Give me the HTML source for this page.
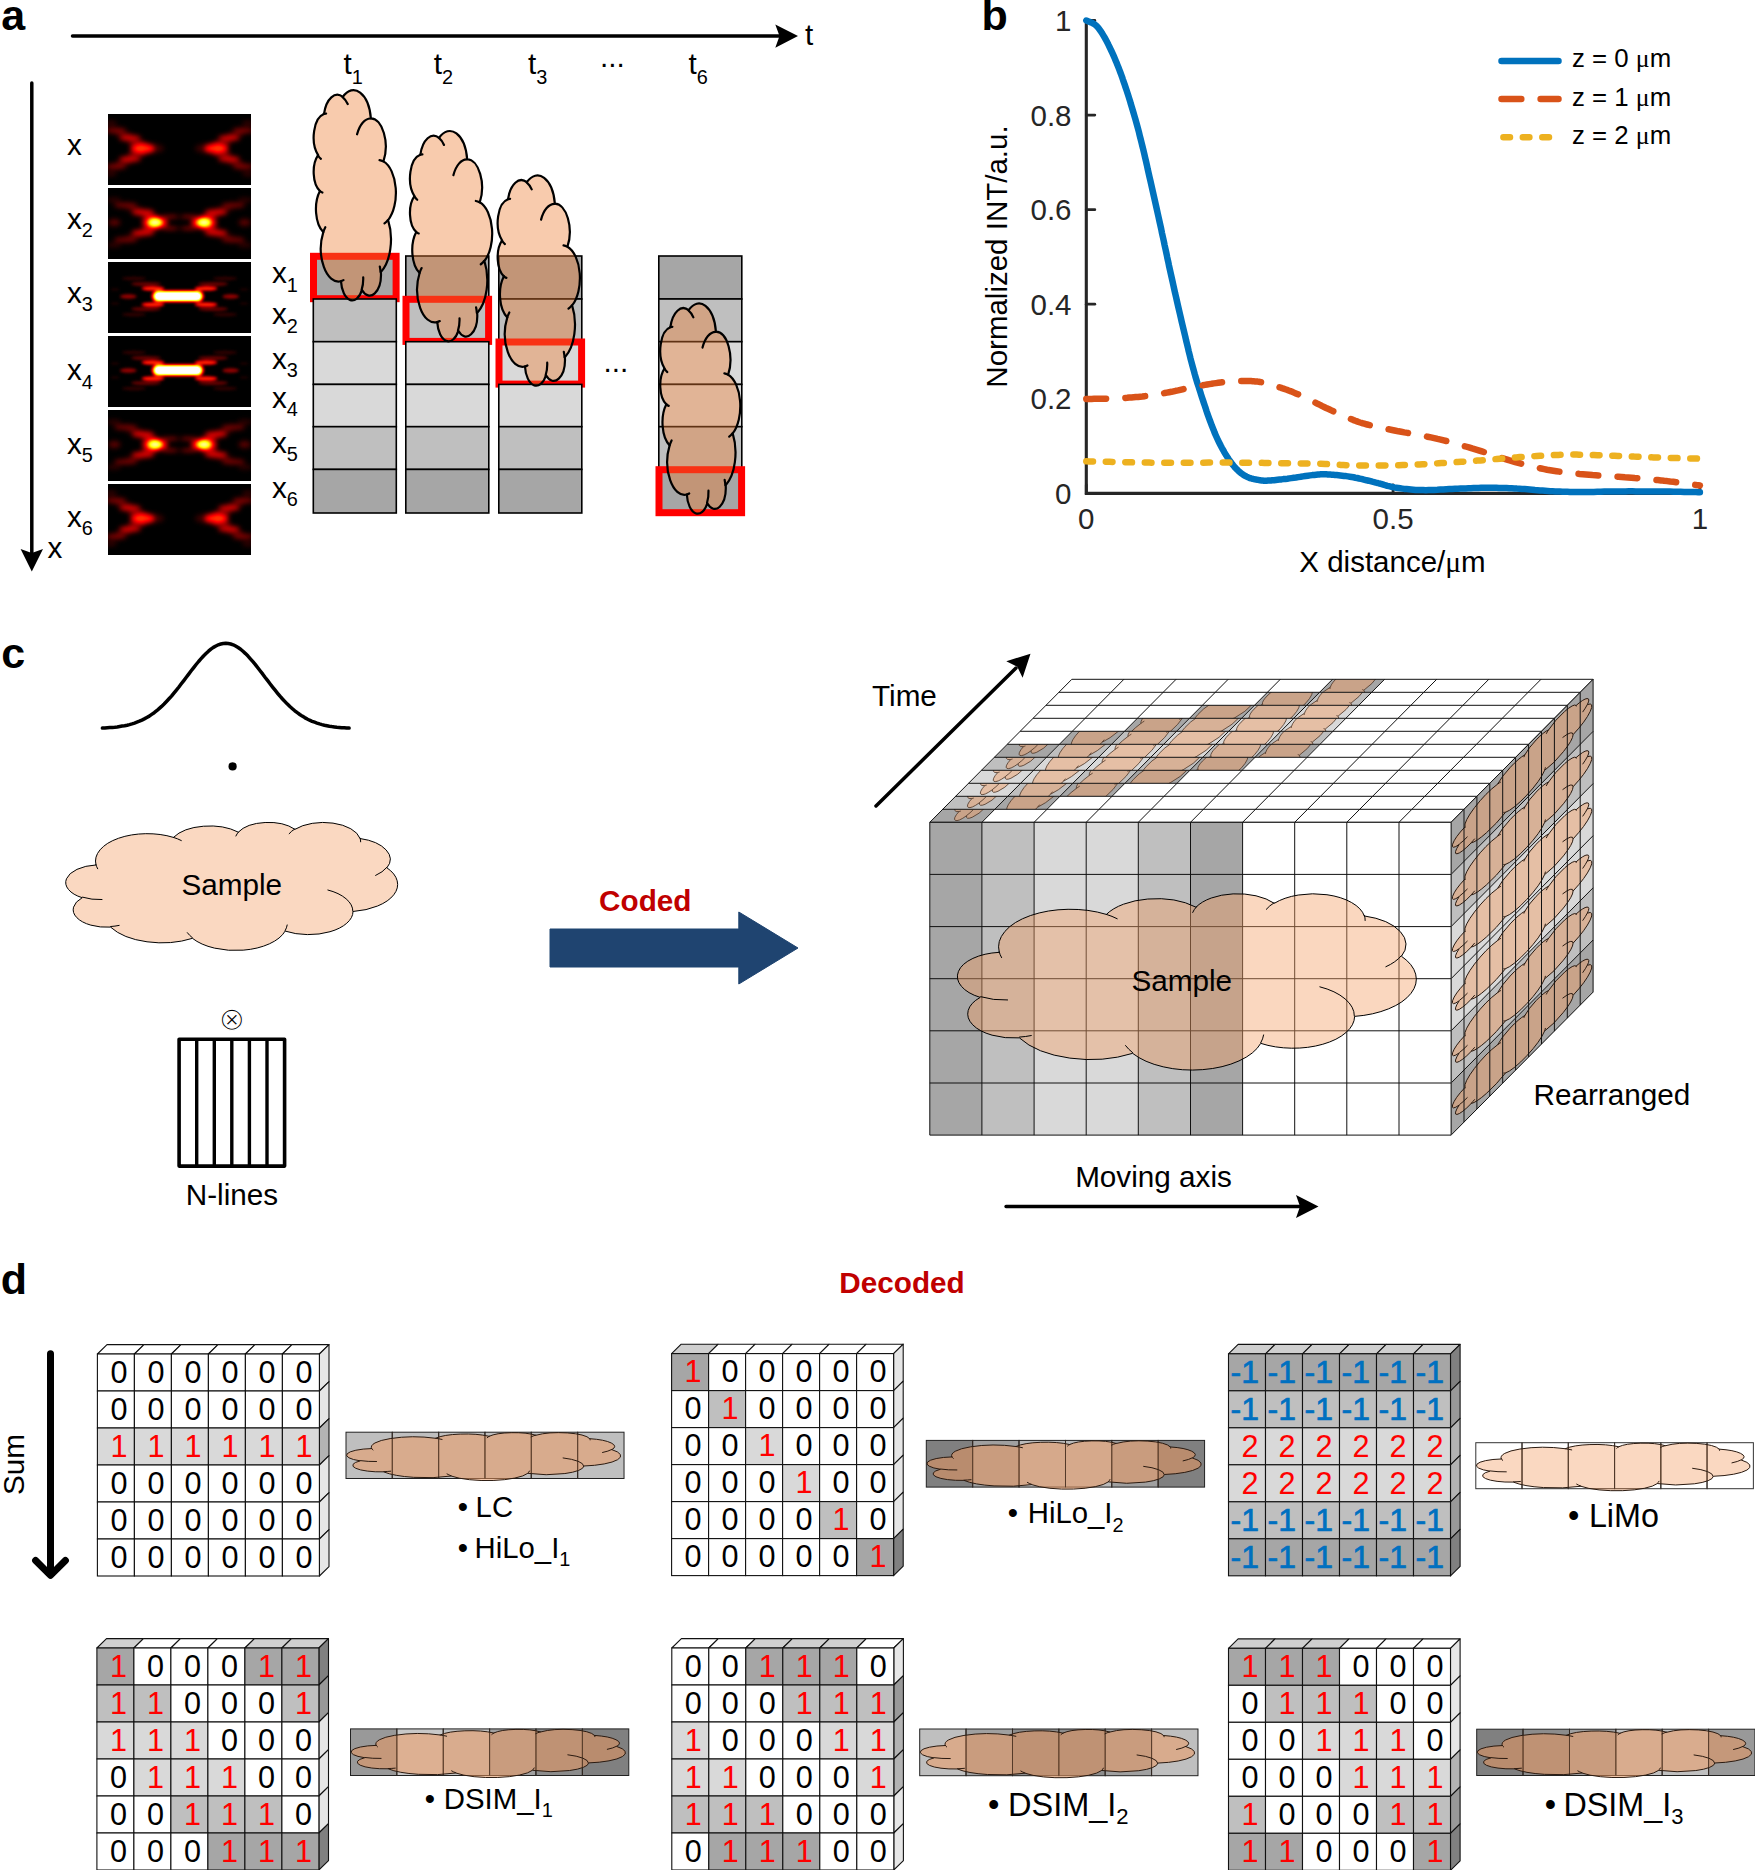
<!DOCTYPE html>
<html lang="en"><head><meta charset="utf-8"><title>Figure</title>
<style>
html,body{margin:0;padding:0;background:#fff;overflow:hidden;}
svg{display:block;font-family:'Liberation Sans', Arial, Helvetica, sans-serif;}
text{font-family:'Liberation Sans', Arial, Helvetica, sans-serif;}
</style></head><body>
<svg width="1755" height="1870" viewBox="0 0 1755 1870">
<defs>
<filter id="hot" x="0" y="0" width="1" height="1" color-interpolation-filters="sRGB">
<feGaussianBlur stdDeviation="2.5"/>
<feComponentTransfer><feFuncR type="table" tableValues="0 1 1 1"/><feFuncG type="table" tableValues="0 0 1 1"/><feFuncB type="table" tableValues="0 0 0 1"/></feComponentTransfer>
</filter>
<filter id="hotC" x="0" y="0" width="1" height="1" color-interpolation-filters="sRGB">
<feGaussianBlur stdDeviation="1.6"/>
<feComponentTransfer><feFuncR type="table" tableValues="0 .375 .75 1 1 1 1 1 1 1 1"/><feFuncG type="table" tableValues="0 0 0 .125 .5 .875 1 1 1 1 1"/><feFuncB type="table" tableValues="0 0 0 0 0 0 .25 .625 1 1 1"/></feComponentTransfer>
</filter>
<clipPath id="psfclip"><rect x="0" y="0" width="143" height="71"/></clipPath>
<g id="vcl" transform="translate(0.06,7.6) rotate(-90)" stroke="#4a3426" stroke-width="0.8" stroke-linejoin="round"><path d="M0.6861 0.2927A1.1880 0.1872 0 0 1 1.2043 0.1117A1.1880 0.1872 0 0 1 2.4639 0.1060A0.9382 0.1480 0 0 1 3.1499 0.0291A0.9382 0.1480 0 0 1 3.9506 0.0699A0.7679 0.1211 0 0 1 4.5654 0.0034A0.7679 0.1211 0 0 1 5.2484 0.0505A0.8545 0.1343 0 0 1 6.1219 0.0077A0.8545 0.1343 0 0 1 6.7411 0.1136A0.9382 0.1482 0 0 1 7.3395 0.1921A0.9382 0.1482 0 0 1 7.3569 0.3149A1.1919 0.1878 0 0 1 7.5155 0.5002A1.1919 0.1878 0 0 1 6.5804 0.6152A1.0177 0.1603 0 0 1 6.0527 0.7544A1.0177 0.1603 0 0 1 5.0237 0.7499A1.1879 0.1877 0 0 1 4.0616 0.8812A1.1879 0.1877 0 0 1 2.8993 0.7998A1.3581 0.2148 0 0 1 1.8576 0.8236A1.3581 0.2148 0 0 1 1.0212 0.7225A0.7670 0.1206 0 0 1 0.2471 0.6571A0.7670 0.1206 0 0 1 0.3718 0.5204A0.7644 0.1211 0 0 1 0.0111 0.3903A0.7644 0.1211 0 0 1 0.6797 0.2955Z" fill="#F4A066" fill-opacity="0.45" vector-effect="non-scaling-stroke"/><path d="M0.8256 0.5332A0.7644 0.1211 0 0 1 0.3800 0.5170M1.2188 0.7109A0.7670 0.1206 0 0 1 1.0238 0.7187M2.8989 0.7963A1.1879 0.1877 0 0 1 2.7814 0.7608M5.0714 0.7079A1.1879 0.1877 0 0 1 5.0245 0.7468M6.0042 0.4676A1.0177 0.1603 0 0 1 6.5762 0.6129M7.3534 0.3128A0.9382 0.1482 0 0 1 7.0986 0.3673M6.7422 0.1105A0.8545 0.1343 0 0 1 6.7556 0.1363M5.1156 0.0805A0.8545 0.1343 0 0 1 5.2461 0.0477M3.8952 0.0961A0.7679 0.1211 0 0 1 3.9584 0.0678M2.4630 0.1058A0.9382 0.1480 0 0 1 2.6435 0.1275M0.7260 0.3216A1.1880 0.1872 0 0 1 0.6861 0.2927" fill="none" vector-effect="non-scaling-stroke"/></g>
<clipPath id="ucell"><rect x="0" y="0" width="1" height="1"/></clipPath>
</defs>
<rect width="1755" height="1870" fill="#fff"/>
<!-- panel a -->
<text x="1.2" y="30.3" font-size="43" font-weight="bold">a</text>
<line x1="72.5" y1="36" x2="780" y2="36" stroke="#000" stroke-width="3.5" stroke-linecap="round"/>
<path d="M798 36 L775.3 24.4 L779.5 36 L775.3 47.7 Z" fill="#000"/>
<text x="805.0" y="44.5" font-size="29.7">t</text>
<line x1="31.8" y1="83" x2="31.8" y2="553" stroke="#000" stroke-width="3.5" stroke-linecap="round"/>
<path d="M31.8 571.5 L20.6 549 L31.8 553 L43 549 Z" fill="#000"/>
<text x="47.5" y="557.7" font-size="29.7">x</text>
<text x="343.5" y="74.0" font-size="29.7">t<tspan font-size="19.9" dy="9.5">1</tspan></text>
<text x="433.8" y="74.0" font-size="29.7">t<tspan font-size="19.9" dy="9.5">2</tspan></text>
<text x="528.0" y="74.0" font-size="29.7">t<tspan font-size="19.9" dy="9.5">3</tspan></text>
<text x="688.6" y="74.0" font-size="29.7">t<tspan font-size="19.9" dy="9.5">6</tspan></text>
<text x="600.0" y="66.5" font-size="29.7">...</text>
<text x="603.5" y="371.5" font-size="29.7">...</text>
<text x="67.0" y="155.0" font-size="29.7">x</text>
<text x="67.0" y="229.0" font-size="29.7">x<tspan font-size="19.9" dy="8.3">2</tspan></text>
<text x="67.0" y="302.6" font-size="29.7">x<tspan font-size="19.9" dy="8.3">3</tspan></text>
<text x="67.0" y="380.3" font-size="29.7">x<tspan font-size="19.9" dy="8.3">4</tspan></text>
<text x="67.0" y="453.8" font-size="29.7">x<tspan font-size="19.9" dy="8.3">5</tspan></text>
<text x="67.0" y="527.0" font-size="29.7">x<tspan font-size="19.9" dy="8.3">6</tspan></text>
<g transform="translate(108,114)" clip-path="url(#psfclip)"><g filter="url(#hot)"><rect x="-10" y="-10" width="163" height="91" fill="#000"/><ellipse cx="34.5" cy="34.5" rx="12" ry="4.9" fill="#fff" fill-opacity="0.345"/><ellipse cx="108.5" cy="34.5" rx="12" ry="4.9" fill="#fff" fill-opacity="0.345"/><ellipse cx="41.0" cy="34.5" rx="15" ry="5" fill="#fff" fill-opacity="0.08"/><ellipse cx="102.0" cy="34.5" rx="15" ry="5" fill="#fff" fill-opacity="0.08"/><ellipse cx="22.0" cy="24.0" rx="11" ry="3.0" fill="#fff" fill-opacity="0.28"/><ellipse cx="22.0" cy="45.0" rx="11" ry="3.0" fill="#fff" fill-opacity="0.28"/><ellipse cx="121.0" cy="24.0" rx="11" ry="3.0" fill="#fff" fill-opacity="0.28"/><ellipse cx="121.0" cy="45.0" rx="11" ry="3.0" fill="#fff" fill-opacity="0.28"/><ellipse cx="29.0" cy="29.2" rx="9" ry="3.0" fill="#fff" fill-opacity="0.14"/><ellipse cx="29.0" cy="39.8" rx="9" ry="3.0" fill="#fff" fill-opacity="0.14"/><ellipse cx="114.0" cy="29.2" rx="9" ry="3.0" fill="#fff" fill-opacity="0.14"/><ellipse cx="114.0" cy="39.8" rx="9" ry="3.0" fill="#fff" fill-opacity="0.14"/><ellipse cx="8.0" cy="16.5" rx="10.5" ry="2.7" fill="#fff" fill-opacity="0.17"/><ellipse cx="8.0" cy="52.5" rx="10.5" ry="2.7" fill="#fff" fill-opacity="0.17"/><ellipse cx="135.0" cy="16.5" rx="10.5" ry="2.7" fill="#fff" fill-opacity="0.17"/><ellipse cx="135.0" cy="52.5" rx="10.5" ry="2.7" fill="#fff" fill-opacity="0.17"/><ellipse cx="15.5" cy="20.3" rx="8" ry="2.4" fill="#fff" fill-opacity="0.09"/><ellipse cx="15.5" cy="48.7" rx="8" ry="2.4" fill="#fff" fill-opacity="0.09"/><ellipse cx="127.5" cy="20.3" rx="8" ry="2.4" fill="#fff" fill-opacity="0.09"/><ellipse cx="127.5" cy="48.7" rx="8" ry="2.4" fill="#fff" fill-opacity="0.09"/><ellipse cx="3.0" cy="9.3" rx="6" ry="2.3" fill="#fff" fill-opacity="0.08"/><ellipse cx="3.0" cy="59.7" rx="6" ry="2.3" fill="#fff" fill-opacity="0.08"/><ellipse cx="140.0" cy="9.3" rx="6" ry="2.3" fill="#fff" fill-opacity="0.08"/><ellipse cx="140.0" cy="59.7" rx="6" ry="2.3" fill="#fff" fill-opacity="0.08"/></g></g>
<g transform="translate(108,188)" clip-path="url(#psfclip)"><g filter="url(#hot)"><rect x="-10" y="-10" width="163" height="91" fill="#000"/><ellipse cx="47.1" cy="34.5" rx="7" ry="3.6" fill="#fff" fill-opacity="0.95"/><ellipse cx="95.9" cy="34.5" rx="7" ry="3.6" fill="#fff" fill-opacity="0.95"/><ellipse cx="47.1" cy="34.5" rx="13" ry="6" fill="#fff" fill-opacity="0.33"/><ellipse cx="95.9" cy="34.5" rx="13" ry="6" fill="#fff" fill-opacity="0.33"/><ellipse cx="35.0" cy="24.3" rx="11.5" ry="3.0" fill="#fff" fill-opacity="0.29"/><ellipse cx="35.0" cy="44.7" rx="11.5" ry="3.0" fill="#fff" fill-opacity="0.29"/><ellipse cx="108.0" cy="24.3" rx="11.5" ry="3.0" fill="#fff" fill-opacity="0.29"/><ellipse cx="108.0" cy="44.7" rx="11.5" ry="3.0" fill="#fff" fill-opacity="0.29"/><ellipse cx="42.0" cy="28.7" rx="9" ry="2.6" fill="#fff" fill-opacity="0.16"/><ellipse cx="42.0" cy="40.3" rx="9" ry="2.6" fill="#fff" fill-opacity="0.16"/><ellipse cx="101.0" cy="28.7" rx="9" ry="2.6" fill="#fff" fill-opacity="0.16"/><ellipse cx="101.0" cy="40.3" rx="9" ry="2.6" fill="#fff" fill-opacity="0.16"/><ellipse cx="17.7" cy="17.3" rx="12" ry="2.8" fill="#fff" fill-opacity="0.15"/><ellipse cx="17.7" cy="51.7" rx="12" ry="2.8" fill="#fff" fill-opacity="0.15"/><ellipse cx="125.3" cy="17.3" rx="12" ry="2.8" fill="#fff" fill-opacity="0.15"/><ellipse cx="125.3" cy="51.7" rx="12" ry="2.8" fill="#fff" fill-opacity="0.15"/><ellipse cx="26.5" cy="20.8" rx="8" ry="2.3" fill="#fff" fill-opacity="0.09"/><ellipse cx="26.5" cy="48.2" rx="8" ry="2.3" fill="#fff" fill-opacity="0.09"/><ellipse cx="116.5" cy="20.8" rx="8" ry="2.3" fill="#fff" fill-opacity="0.09"/><ellipse cx="116.5" cy="48.2" rx="8" ry="2.3" fill="#fff" fill-opacity="0.09"/><ellipse cx="6.0" cy="12.0" rx="7" ry="2.3" fill="#fff" fill-opacity="0.07"/><ellipse cx="6.0" cy="57.0" rx="7" ry="2.3" fill="#fff" fill-opacity="0.07"/><ellipse cx="137.0" cy="12.0" rx="7" ry="2.3" fill="#fff" fill-opacity="0.07"/><ellipse cx="137.0" cy="57.0" rx="7" ry="2.3" fill="#fff" fill-opacity="0.07"/><ellipse cx="6.4" cy="34.5" rx="6" ry="3.6" fill="#fff" fill-opacity="0.12"/><ellipse cx="136.6" cy="34.5" rx="6" ry="3.6" fill="#fff" fill-opacity="0.12"/><ellipse cx="62.0" cy="28.7" rx="9" ry="1.3" fill="#fff" fill-opacity="0.14"/><ellipse cx="62.0" cy="40.3" rx="9" ry="1.3" fill="#fff" fill-opacity="0.14"/><ellipse cx="81.0" cy="28.7" rx="9" ry="1.3" fill="#fff" fill-opacity="0.14"/><ellipse cx="81.0" cy="40.3" rx="9" ry="1.3" fill="#fff" fill-opacity="0.14"/><ellipse cx="62.0" cy="40.3" rx="9" ry="1.3" fill="#fff" fill-opacity="0.14"/><ellipse cx="62.0" cy="28.7" rx="9" ry="1.3" fill="#fff" fill-opacity="0.14"/><ellipse cx="81.0" cy="40.3" rx="9" ry="1.3" fill="#fff" fill-opacity="0.14"/><ellipse cx="81.0" cy="28.7" rx="9" ry="1.3" fill="#fff" fill-opacity="0.14"/></g></g>
<g transform="translate(108,262)" clip-path="url(#psfclip)"><g filter="url(#hotC)"><rect x="-10" y="-10" width="163" height="91" fill="#000"/><rect x="47" y="30.5" width="45.6" height="7.5" rx="3.7" fill="#fff"/><rect x="43.8" y="28.4" width="52" height="11.7" rx="5.8" fill="#fff" fill-opacity="0.42"/><ellipse cx="45.0" cy="26.5" rx="11.5" ry="2.0" fill="#fff" fill-opacity="0.34"/><ellipse cx="45.0" cy="42.5" rx="11.5" ry="2.0" fill="#fff" fill-opacity="0.34"/><ellipse cx="98.0" cy="26.5" rx="11.5" ry="2.0" fill="#fff" fill-opacity="0.34"/><ellipse cx="98.0" cy="42.5" rx="11.5" ry="2.0" fill="#fff" fill-opacity="0.34"/><ellipse cx="38.0" cy="22.0" rx="15" ry="2.0" fill="#fff" fill-opacity="0.11"/><ellipse cx="38.0" cy="47.0" rx="15" ry="2.0" fill="#fff" fill-opacity="0.11"/><ellipse cx="105.0" cy="22.0" rx="15" ry="2.0" fill="#fff" fill-opacity="0.11"/><ellipse cx="105.0" cy="47.0" rx="15" ry="2.0" fill="#fff" fill-opacity="0.11"/><ellipse cx="26.0" cy="16.5" rx="12" ry="1.8" fill="#fff" fill-opacity="0.055"/><ellipse cx="26.0" cy="52.5" rx="12" ry="1.8" fill="#fff" fill-opacity="0.055"/><ellipse cx="117.0" cy="16.5" rx="12" ry="1.8" fill="#fff" fill-opacity="0.055"/><ellipse cx="117.0" cy="52.5" rx="12" ry="1.8" fill="#fff" fill-opacity="0.055"/><ellipse cx="20.3" cy="34.5" rx="8.5" ry="2.2" fill="#fff" fill-opacity="0.16"/><ellipse cx="122.7" cy="34.5" rx="8.5" ry="2.2" fill="#fff" fill-opacity="0.16"/><ellipse cx="7.0" cy="27.5" rx="4.5" ry="1.2" fill="#fff" fill-opacity="0.035"/><ellipse cx="7.0" cy="41.5" rx="4.5" ry="1.2" fill="#fff" fill-opacity="0.035"/><ellipse cx="136.0" cy="27.5" rx="4.5" ry="1.2" fill="#fff" fill-opacity="0.035"/><ellipse cx="136.0" cy="41.5" rx="4.5" ry="1.2" fill="#fff" fill-opacity="0.035"/></g></g>
<g transform="translate(108,336)" clip-path="url(#psfclip)"><g filter="url(#hotC)"><rect x="-10" y="-10" width="163" height="91" fill="#000"/><rect x="47" y="30.5" width="45.6" height="7.5" rx="3.7" fill="#fff"/><rect x="43.8" y="28.4" width="52" height="11.7" rx="5.8" fill="#fff" fill-opacity="0.42"/><ellipse cx="45.0" cy="26.5" rx="11.5" ry="2.0" fill="#fff" fill-opacity="0.34"/><ellipse cx="45.0" cy="42.5" rx="11.5" ry="2.0" fill="#fff" fill-opacity="0.34"/><ellipse cx="98.0" cy="26.5" rx="11.5" ry="2.0" fill="#fff" fill-opacity="0.34"/><ellipse cx="98.0" cy="42.5" rx="11.5" ry="2.0" fill="#fff" fill-opacity="0.34"/><ellipse cx="38.0" cy="22.0" rx="15" ry="2.0" fill="#fff" fill-opacity="0.11"/><ellipse cx="38.0" cy="47.0" rx="15" ry="2.0" fill="#fff" fill-opacity="0.11"/><ellipse cx="105.0" cy="22.0" rx="15" ry="2.0" fill="#fff" fill-opacity="0.11"/><ellipse cx="105.0" cy="47.0" rx="15" ry="2.0" fill="#fff" fill-opacity="0.11"/><ellipse cx="26.0" cy="16.5" rx="12" ry="1.8" fill="#fff" fill-opacity="0.055"/><ellipse cx="26.0" cy="52.5" rx="12" ry="1.8" fill="#fff" fill-opacity="0.055"/><ellipse cx="117.0" cy="16.5" rx="12" ry="1.8" fill="#fff" fill-opacity="0.055"/><ellipse cx="117.0" cy="52.5" rx="12" ry="1.8" fill="#fff" fill-opacity="0.055"/><ellipse cx="20.3" cy="34.5" rx="8.5" ry="2.2" fill="#fff" fill-opacity="0.16"/><ellipse cx="122.7" cy="34.5" rx="8.5" ry="2.2" fill="#fff" fill-opacity="0.16"/><ellipse cx="7.0" cy="27.5" rx="4.5" ry="1.2" fill="#fff" fill-opacity="0.035"/><ellipse cx="7.0" cy="41.5" rx="4.5" ry="1.2" fill="#fff" fill-opacity="0.035"/><ellipse cx="136.0" cy="27.5" rx="4.5" ry="1.2" fill="#fff" fill-opacity="0.035"/><ellipse cx="136.0" cy="41.5" rx="4.5" ry="1.2" fill="#fff" fill-opacity="0.035"/></g></g>
<g transform="translate(108,410)" clip-path="url(#psfclip)"><g filter="url(#hot)"><rect x="-10" y="-10" width="163" height="91" fill="#000"/><ellipse cx="47.1" cy="34.5" rx="7" ry="3.6" fill="#fff" fill-opacity="0.95"/><ellipse cx="95.9" cy="34.5" rx="7" ry="3.6" fill="#fff" fill-opacity="0.95"/><ellipse cx="47.1" cy="34.5" rx="13" ry="6" fill="#fff" fill-opacity="0.33"/><ellipse cx="95.9" cy="34.5" rx="13" ry="6" fill="#fff" fill-opacity="0.33"/><ellipse cx="35.0" cy="24.3" rx="11.5" ry="3.0" fill="#fff" fill-opacity="0.29"/><ellipse cx="35.0" cy="44.7" rx="11.5" ry="3.0" fill="#fff" fill-opacity="0.29"/><ellipse cx="108.0" cy="24.3" rx="11.5" ry="3.0" fill="#fff" fill-opacity="0.29"/><ellipse cx="108.0" cy="44.7" rx="11.5" ry="3.0" fill="#fff" fill-opacity="0.29"/><ellipse cx="42.0" cy="28.7" rx="9" ry="2.6" fill="#fff" fill-opacity="0.16"/><ellipse cx="42.0" cy="40.3" rx="9" ry="2.6" fill="#fff" fill-opacity="0.16"/><ellipse cx="101.0" cy="28.7" rx="9" ry="2.6" fill="#fff" fill-opacity="0.16"/><ellipse cx="101.0" cy="40.3" rx="9" ry="2.6" fill="#fff" fill-opacity="0.16"/><ellipse cx="17.7" cy="17.3" rx="12" ry="2.8" fill="#fff" fill-opacity="0.15"/><ellipse cx="17.7" cy="51.7" rx="12" ry="2.8" fill="#fff" fill-opacity="0.15"/><ellipse cx="125.3" cy="17.3" rx="12" ry="2.8" fill="#fff" fill-opacity="0.15"/><ellipse cx="125.3" cy="51.7" rx="12" ry="2.8" fill="#fff" fill-opacity="0.15"/><ellipse cx="26.5" cy="20.8" rx="8" ry="2.3" fill="#fff" fill-opacity="0.09"/><ellipse cx="26.5" cy="48.2" rx="8" ry="2.3" fill="#fff" fill-opacity="0.09"/><ellipse cx="116.5" cy="20.8" rx="8" ry="2.3" fill="#fff" fill-opacity="0.09"/><ellipse cx="116.5" cy="48.2" rx="8" ry="2.3" fill="#fff" fill-opacity="0.09"/><ellipse cx="6.0" cy="12.0" rx="7" ry="2.3" fill="#fff" fill-opacity="0.07"/><ellipse cx="6.0" cy="57.0" rx="7" ry="2.3" fill="#fff" fill-opacity="0.07"/><ellipse cx="137.0" cy="12.0" rx="7" ry="2.3" fill="#fff" fill-opacity="0.07"/><ellipse cx="137.0" cy="57.0" rx="7" ry="2.3" fill="#fff" fill-opacity="0.07"/><ellipse cx="6.4" cy="34.5" rx="6" ry="3.6" fill="#fff" fill-opacity="0.12"/><ellipse cx="136.6" cy="34.5" rx="6" ry="3.6" fill="#fff" fill-opacity="0.12"/><ellipse cx="62.0" cy="28.7" rx="9" ry="1.3" fill="#fff" fill-opacity="0.14"/><ellipse cx="62.0" cy="40.3" rx="9" ry="1.3" fill="#fff" fill-opacity="0.14"/><ellipse cx="81.0" cy="28.7" rx="9" ry="1.3" fill="#fff" fill-opacity="0.14"/><ellipse cx="81.0" cy="40.3" rx="9" ry="1.3" fill="#fff" fill-opacity="0.14"/><ellipse cx="62.0" cy="40.3" rx="9" ry="1.3" fill="#fff" fill-opacity="0.14"/><ellipse cx="62.0" cy="28.7" rx="9" ry="1.3" fill="#fff" fill-opacity="0.14"/><ellipse cx="81.0" cy="40.3" rx="9" ry="1.3" fill="#fff" fill-opacity="0.14"/><ellipse cx="81.0" cy="28.7" rx="9" ry="1.3" fill="#fff" fill-opacity="0.14"/></g></g>
<g transform="translate(108,484)" clip-path="url(#psfclip)"><g filter="url(#hot)"><rect x="-10" y="-10" width="163" height="91" fill="#000"/><ellipse cx="34.5" cy="34.5" rx="12" ry="4.9" fill="#fff" fill-opacity="0.345"/><ellipse cx="108.5" cy="34.5" rx="12" ry="4.9" fill="#fff" fill-opacity="0.345"/><ellipse cx="41.0" cy="34.5" rx="15" ry="5" fill="#fff" fill-opacity="0.08"/><ellipse cx="102.0" cy="34.5" rx="15" ry="5" fill="#fff" fill-opacity="0.08"/><ellipse cx="22.0" cy="24.0" rx="11" ry="3.0" fill="#fff" fill-opacity="0.28"/><ellipse cx="22.0" cy="45.0" rx="11" ry="3.0" fill="#fff" fill-opacity="0.28"/><ellipse cx="121.0" cy="24.0" rx="11" ry="3.0" fill="#fff" fill-opacity="0.28"/><ellipse cx="121.0" cy="45.0" rx="11" ry="3.0" fill="#fff" fill-opacity="0.28"/><ellipse cx="29.0" cy="29.2" rx="9" ry="3.0" fill="#fff" fill-opacity="0.14"/><ellipse cx="29.0" cy="39.8" rx="9" ry="3.0" fill="#fff" fill-opacity="0.14"/><ellipse cx="114.0" cy="29.2" rx="9" ry="3.0" fill="#fff" fill-opacity="0.14"/><ellipse cx="114.0" cy="39.8" rx="9" ry="3.0" fill="#fff" fill-opacity="0.14"/><ellipse cx="8.0" cy="16.5" rx="10.5" ry="2.7" fill="#fff" fill-opacity="0.17"/><ellipse cx="8.0" cy="52.5" rx="10.5" ry="2.7" fill="#fff" fill-opacity="0.17"/><ellipse cx="135.0" cy="16.5" rx="10.5" ry="2.7" fill="#fff" fill-opacity="0.17"/><ellipse cx="135.0" cy="52.5" rx="10.5" ry="2.7" fill="#fff" fill-opacity="0.17"/><ellipse cx="15.5" cy="20.3" rx="8" ry="2.4" fill="#fff" fill-opacity="0.09"/><ellipse cx="15.5" cy="48.7" rx="8" ry="2.4" fill="#fff" fill-opacity="0.09"/><ellipse cx="127.5" cy="20.3" rx="8" ry="2.4" fill="#fff" fill-opacity="0.09"/><ellipse cx="127.5" cy="48.7" rx="8" ry="2.4" fill="#fff" fill-opacity="0.09"/><ellipse cx="3.0" cy="9.3" rx="6" ry="2.3" fill="#fff" fill-opacity="0.08"/><ellipse cx="3.0" cy="59.7" rx="6" ry="2.3" fill="#fff" fill-opacity="0.08"/><ellipse cx="140.0" cy="9.3" rx="6" ry="2.3" fill="#fff" fill-opacity="0.08"/><ellipse cx="140.0" cy="59.7" rx="6" ry="2.3" fill="#fff" fill-opacity="0.08"/></g></g>
<text x="272.0" y="283.3" font-size="29.7">x<tspan font-size="19.9" dy="8.3">1</tspan></text>
<text x="272.0" y="324.2" font-size="29.7">x<tspan font-size="19.9" dy="8.3">2</tspan></text>
<text x="272.0" y="368.7" font-size="29.7">x<tspan font-size="19.9" dy="8.3">3</tspan></text>
<text x="272.0" y="407.8" font-size="29.7">x<tspan font-size="19.9" dy="8.3">4</tspan></text>
<text x="272.0" y="452.8" font-size="29.7">x<tspan font-size="19.9" dy="8.3">5</tspan></text>
<text x="272.0" y="498.1" font-size="29.7">x<tspan font-size="19.9" dy="8.3">6</tspan></text>
<rect x="313.3" y="256.0" width="83" height="43.0" fill="#a6a6a6" stroke="#000" stroke-width="1.6"/>
<rect x="313.5" y="256.3" width="82.6" height="42.4" fill="none" stroke="#f00" stroke-width="7"/>
<rect x="313.3" y="299.0" width="83" height="42.7" fill="#bfbfbf" stroke="#000" stroke-width="1.6"/>
<rect x="313.3" y="341.7" width="83" height="42.7" fill="#d9d9d9" stroke="#000" stroke-width="1.6"/>
<rect x="313.3" y="384.4" width="83" height="42.3" fill="#d9d9d9" stroke="#000" stroke-width="1.6"/>
<rect x="313.3" y="426.7" width="83" height="42.7" fill="#bfbfbf" stroke="#000" stroke-width="1.6"/>
<rect x="313.3" y="469.4" width="83" height="43.6" fill="#a6a6a6" stroke="#000" stroke-width="1.6"/>
<g transform="translate(313.40,300.20) rotate(270)" stroke="#000" stroke-width="2.2" stroke-linejoin="round" stroke-linecap="round"><path d="M18.96 27.34A32.83 17.49 0 0 1 33.28 10.44A32.83 17.49 0 0 1 68.08 9.90A25.92 13.83 0 0 1 87.04 2.72A25.92 13.83 0 0 1 109.16 6.53A21.22 11.31 0 0 1 126.15 0.32A21.22 11.31 0 0 1 145.02 4.72A23.61 12.55 0 0 1 169.16 0.72A23.61 12.55 0 0 1 186.27 10.61A25.92 13.84 0 0 1 202.80 17.94A25.92 13.84 0 0 1 203.28 29.42A32.93 17.54 0 0 1 207.66 46.72A32.93 17.54 0 0 1 181.83 57.47A28.12 14.97 0 0 1 167.25 70.47A28.12 14.97 0 0 1 138.81 70.05A32.82 17.53 0 0 1 112.23 82.31A32.82 17.53 0 0 1 80.11 74.71A37.53 20.06 0 0 1 51.33 76.93A37.53 20.06 0 0 1 28.22 67.49A21.19 11.26 0 0 1 6.83 61.38A21.19 11.26 0 0 1 10.27 48.61A21.12 11.31 0 0 1 0.31 36.45A21.12 11.31 0 0 1 18.78 27.60Z" fill="#ED7D31" fill-opacity="0.4"/><path d="M22.81 49.81A21.12 11.31 0 0 1 10.50 48.29M33.68 66.41A21.19 11.26 0 0 1 28.29 67.13M80.10 74.38A32.82 17.53 0 0 1 76.86 71.07M140.13 66.12A32.82 17.53 0 0 1 138.84 69.76M165.90 43.68A28.12 14.97 0 0 1 181.71 57.25M203.18 29.22A25.92 13.84 0 0 1 196.15 34.31M186.30 10.32A23.61 12.55 0 0 1 186.67 12.73M141.35 7.52A23.61 12.55 0 0 1 144.96 4.45M107.63 8.98A21.22 11.31 0 0 1 109.38 6.34M68.06 9.88A25.92 13.83 0 0 1 73.05 11.91M20.06 30.04A32.83 17.49 0 0 1 18.96 27.34" fill="none"/></g>
<rect x="405.8" y="256.0" width="83" height="43.0" fill="#a6a6a6" stroke="#000" stroke-width="1.6"/>
<rect x="405.8" y="299.0" width="83" height="42.7" fill="#bfbfbf" stroke="#000" stroke-width="1.6"/>
<rect x="406.0" y="299.3" width="82.6" height="42.1" fill="none" stroke="#f00" stroke-width="7"/>
<rect x="405.8" y="341.7" width="83" height="42.7" fill="#d9d9d9" stroke="#000" stroke-width="1.6"/>
<rect x="405.8" y="384.4" width="83" height="42.3" fill="#d9d9d9" stroke="#000" stroke-width="1.6"/>
<rect x="405.8" y="426.7" width="83" height="42.7" fill="#bfbfbf" stroke="#000" stroke-width="1.6"/>
<rect x="405.8" y="469.4" width="83" height="43.6" fill="#a6a6a6" stroke="#000" stroke-width="1.6"/>
<g transform="translate(409.70,341.10) rotate(270)" stroke="#000" stroke-width="2.2" stroke-linejoin="round" stroke-linecap="round"><path d="M18.96 27.34A32.83 17.49 0 0 1 33.28 10.44A32.83 17.49 0 0 1 68.08 9.90A25.92 13.83 0 0 1 87.04 2.72A25.92 13.83 0 0 1 109.16 6.53A21.22 11.31 0 0 1 126.15 0.32A21.22 11.31 0 0 1 145.02 4.72A23.61 12.55 0 0 1 169.16 0.72A23.61 12.55 0 0 1 186.27 10.61A25.92 13.84 0 0 1 202.80 17.94A25.92 13.84 0 0 1 203.28 29.42A32.93 17.54 0 0 1 207.66 46.72A32.93 17.54 0 0 1 181.83 57.47A28.12 14.97 0 0 1 167.25 70.47A28.12 14.97 0 0 1 138.81 70.05A32.82 17.53 0 0 1 112.23 82.31A32.82 17.53 0 0 1 80.11 74.71A37.53 20.06 0 0 1 51.33 76.93A37.53 20.06 0 0 1 28.22 67.49A21.19 11.26 0 0 1 6.83 61.38A21.19 11.26 0 0 1 10.27 48.61A21.12 11.31 0 0 1 0.31 36.45A21.12 11.31 0 0 1 18.78 27.60Z" fill="#ED7D31" fill-opacity="0.4"/><path d="M22.81 49.81A21.12 11.31 0 0 1 10.50 48.29M33.68 66.41A21.19 11.26 0 0 1 28.29 67.13M80.10 74.38A32.82 17.53 0 0 1 76.86 71.07M140.13 66.12A32.82 17.53 0 0 1 138.84 69.76M165.90 43.68A28.12 14.97 0 0 1 181.71 57.25M203.18 29.22A25.92 13.84 0 0 1 196.15 34.31M186.30 10.32A23.61 12.55 0 0 1 186.67 12.73M141.35 7.52A23.61 12.55 0 0 1 144.96 4.45M107.63 8.98A21.22 11.31 0 0 1 109.38 6.34M68.06 9.88A25.92 13.83 0 0 1 73.05 11.91M20.06 30.04A32.83 17.49 0 0 1 18.96 27.34" fill="none"/></g>
<rect x="498.8" y="256.0" width="83" height="43.0" fill="#a6a6a6" stroke="#000" stroke-width="1.6"/>
<rect x="498.8" y="299.0" width="83" height="42.7" fill="#bfbfbf" stroke="#000" stroke-width="1.6"/>
<rect x="498.8" y="341.7" width="83" height="42.7" fill="#d9d9d9" stroke="#000" stroke-width="1.6"/>
<rect x="499.0" y="342.0" width="82.6" height="42.1" fill="none" stroke="#f00" stroke-width="7"/>
<rect x="498.8" y="384.4" width="83" height="42.3" fill="#d9d9d9" stroke="#000" stroke-width="1.6"/>
<rect x="498.8" y="426.7" width="83" height="42.7" fill="#bfbfbf" stroke="#000" stroke-width="1.6"/>
<rect x="498.8" y="469.4" width="83" height="43.6" fill="#a6a6a6" stroke="#000" stroke-width="1.6"/>
<g transform="translate(497.40,385.50) rotate(270)" stroke="#000" stroke-width="2.2" stroke-linejoin="round" stroke-linecap="round"><path d="M18.96 27.34A32.83 17.49 0 0 1 33.28 10.44A32.83 17.49 0 0 1 68.08 9.90A25.92 13.83 0 0 1 87.04 2.72A25.92 13.83 0 0 1 109.16 6.53A21.22 11.31 0 0 1 126.15 0.32A21.22 11.31 0 0 1 145.02 4.72A23.61 12.55 0 0 1 169.16 0.72A23.61 12.55 0 0 1 186.27 10.61A25.92 13.84 0 0 1 202.80 17.94A25.92 13.84 0 0 1 203.28 29.42A32.93 17.54 0 0 1 207.66 46.72A32.93 17.54 0 0 1 181.83 57.47A28.12 14.97 0 0 1 167.25 70.47A28.12 14.97 0 0 1 138.81 70.05A32.82 17.53 0 0 1 112.23 82.31A32.82 17.53 0 0 1 80.11 74.71A37.53 20.06 0 0 1 51.33 76.93A37.53 20.06 0 0 1 28.22 67.49A21.19 11.26 0 0 1 6.83 61.38A21.19 11.26 0 0 1 10.27 48.61A21.12 11.31 0 0 1 0.31 36.45A21.12 11.31 0 0 1 18.78 27.60Z" fill="#ED7D31" fill-opacity="0.4"/><path d="M22.81 49.81A21.12 11.31 0 0 1 10.50 48.29M33.68 66.41A21.19 11.26 0 0 1 28.29 67.13M80.10 74.38A32.82 17.53 0 0 1 76.86 71.07M140.13 66.12A32.82 17.53 0 0 1 138.84 69.76M165.90 43.68A28.12 14.97 0 0 1 181.71 57.25M203.18 29.22A25.92 13.84 0 0 1 196.15 34.31M186.30 10.32A23.61 12.55 0 0 1 186.67 12.73M141.35 7.52A23.61 12.55 0 0 1 144.96 4.45M107.63 8.98A21.22 11.31 0 0 1 109.38 6.34M68.06 9.88A25.92 13.83 0 0 1 73.05 11.91M20.06 30.04A32.83 17.49 0 0 1 18.96 27.34" fill="none"/></g>
<rect x="658.8" y="256.0" width="83" height="43.0" fill="#a6a6a6" stroke="#000" stroke-width="1.6"/>
<rect x="658.8" y="299.0" width="83" height="42.7" fill="#bfbfbf" stroke="#000" stroke-width="1.6"/>
<rect x="658.8" y="341.7" width="83" height="42.7" fill="#d9d9d9" stroke="#000" stroke-width="1.6"/>
<rect x="658.8" y="384.4" width="83" height="42.3" fill="#d9d9d9" stroke="#000" stroke-width="1.6"/>
<rect x="658.8" y="426.7" width="83" height="42.7" fill="#bfbfbf" stroke="#000" stroke-width="1.6"/>
<rect x="658.8" y="469.4" width="83" height="43.6" fill="#a6a6a6" stroke="#000" stroke-width="1.6"/>
<rect x="659.0" y="469.7" width="82.6" height="43.0" fill="none" stroke="#f00" stroke-width="7"/>
<g transform="translate(660.00,513.50) rotate(270)" stroke="#000" stroke-width="2.2" stroke-linejoin="round" stroke-linecap="round"><path d="M18.96 26.61A32.83 17.02 0 0 1 33.28 10.16A32.83 17.02 0 0 1 68.08 9.63A25.92 13.46 0 0 1 87.04 2.65A25.92 13.46 0 0 1 109.16 6.36A21.22 11.01 0 0 1 126.15 0.31A21.22 11.01 0 0 1 145.02 4.59A23.61 12.21 0 0 1 169.16 0.70A23.61 12.21 0 0 1 186.27 10.33A25.92 13.47 0 0 1 202.80 17.46A25.92 13.47 0 0 1 203.28 28.63A32.93 17.07 0 0 1 207.66 45.47A32.93 17.07 0 0 1 181.83 55.93A28.12 14.57 0 0 1 167.25 68.58A28.12 14.57 0 0 1 138.81 68.17A32.82 17.06 0 0 1 112.23 80.11A32.82 17.06 0 0 1 80.11 72.71A37.53 19.52 0 0 1 51.33 74.87A37.53 19.52 0 0 1 28.22 65.69A21.19 10.96 0 0 1 6.83 59.74A21.19 10.96 0 0 1 10.27 47.31A21.12 11.01 0 0 1 0.31 35.48A21.12 11.01 0 0 1 18.78 26.86Z" fill="#ED7D31" fill-opacity="0.4"/><path d="M22.81 48.48A21.12 11.01 0 0 1 10.50 47.00M33.68 64.63A21.19 10.96 0 0 1 28.29 65.33M80.10 72.39A32.82 17.06 0 0 1 76.86 69.17M140.13 64.35A32.82 17.06 0 0 1 138.84 67.89M165.90 42.51A28.12 14.57 0 0 1 181.71 55.72M203.18 28.43A25.92 13.47 0 0 1 196.15 33.39M186.30 10.05A23.61 12.21 0 0 1 186.67 12.39M141.35 7.32A23.61 12.21 0 0 1 144.96 4.33M107.63 8.74A21.22 11.01 0 0 1 109.38 6.17M68.06 9.61A25.92 13.46 0 0 1 73.05 11.59M20.06 29.24A32.83 17.02 0 0 1 18.96 26.61" fill="none"/></g>
<!-- panel b -->
<text x="981.5" y="30.3" font-size="43" font-weight="bold">b</text>
<path d="M1086.3 20.5 V493.4 H1699.9" fill="none" stroke="#262626" stroke-width="3.1" stroke-linejoin="miter"/>
<line x1="1086.3" y1="493.4" x2="1094.8" y2="493.4" stroke="#262626" stroke-width="2.8" stroke-linecap="round"/>
<text x="1071.5" y="503.9" font-size="29.5" text-anchor="end" fill="#262626">0</text>
<line x1="1086.3" y1="398.8" x2="1094.8" y2="398.8" stroke="#262626" stroke-width="2.8" stroke-linecap="round"/>
<text x="1071.5" y="409.3" font-size="29.5" text-anchor="end" fill="#262626">0.2</text>
<line x1="1086.3" y1="304.2" x2="1094.8" y2="304.2" stroke="#262626" stroke-width="2.8" stroke-linecap="round"/>
<text x="1071.5" y="314.7" font-size="29.5" text-anchor="end" fill="#262626">0.4</text>
<line x1="1086.3" y1="209.7" x2="1094.8" y2="209.7" stroke="#262626" stroke-width="2.8" stroke-linecap="round"/>
<text x="1071.5" y="220.2" font-size="29.5" text-anchor="end" fill="#262626">0.6</text>
<line x1="1086.3" y1="115.1" x2="1094.8" y2="115.1" stroke="#262626" stroke-width="2.8" stroke-linecap="round"/>
<text x="1071.5" y="125.6" font-size="29.5" text-anchor="end" fill="#262626">0.8</text>
<line x1="1086.3" y1="20.5" x2="1094.8" y2="20.5" stroke="#262626" stroke-width="2.8" stroke-linecap="round"/>
<text x="1071.5" y="31.0" font-size="29.5" text-anchor="end" fill="#262626">1</text>
<line x1="1086.3" y1="493.4" x2="1086.3" y2="484.9" stroke="#262626" stroke-width="2.8" stroke-linecap="round"/>
<text x="1086.3" y="529.0" font-size="29.5" text-anchor="middle" fill="#262626">0</text>
<line x1="1393.1" y1="493.4" x2="1393.1" y2="484.9" stroke="#262626" stroke-width="2.8" stroke-linecap="round"/>
<text x="1393.1" y="529.0" font-size="29.5" text-anchor="middle" fill="#262626">0.5</text>
<line x1="1699.9" y1="493.4" x2="1699.9" y2="484.9" stroke="#262626" stroke-width="2.8" stroke-linecap="round"/>
<text x="1699.9" y="529.0" font-size="29.5" text-anchor="middle" fill="#262626">1</text>
<path d="M1086.3 20.5 L1086.8 20.7 L1087.5 21.0 L1088.2 21.3 L1089.1 21.6 L1090.0 22.0 L1091.0 22.4 L1092.0 22.8 L1093.0 23.4 L1094.1 24.0 L1095.1 24.7 L1096.1 25.5 L1097.0 26.4 L1097.9 27.4 L1098.8 28.5 L1099.6 29.6 L1100.5 30.9 L1101.4 32.2 L1102.3 33.6 L1103.2 35.1 L1104.1 36.6 L1105.0 38.2 L1105.9 39.8 L1106.8 41.5 L1107.7 43.2 L1108.5 44.9 L1109.4 46.7 L1110.3 48.6 L1111.2 50.5 L1112.1 52.4 L1113.0 54.4 L1113.9 56.4 L1114.8 58.5 L1115.7 60.7 L1116.6 62.8 L1117.5 65.1 L1118.4 67.3 L1119.3 69.6 L1120.2 72.0 L1121.1 74.4 L1122.0 76.8 L1122.8 79.3 L1123.7 81.9 L1124.6 84.4 L1125.5 87.1 L1126.4 89.8 L1127.3 92.5 L1128.2 95.2 L1129.1 98.1 L1130.0 100.9 L1130.8 103.8 L1131.7 106.7 L1132.6 109.7 L1133.5 112.7 L1134.4 115.8 L1135.3 118.9 L1136.2 122.1 L1137.1 125.4 L1138.0 128.6 L1138.9 132.0 L1139.7 135.4 L1140.6 138.9 L1141.5 142.5 L1142.4 146.1 L1143.3 149.8 L1144.2 153.6 L1145.1 157.4 L1146.0 161.3 L1146.9 165.2 L1147.7 169.1 L1148.6 173.0 L1149.5 176.9 L1150.4 180.8 L1151.3 184.7 L1152.2 188.7 L1153.1 192.7 L1154.0 196.7 L1154.9 200.7 L1155.8 204.8 L1156.7 208.8 L1157.6 212.9 L1158.5 216.9 L1159.4 221.0 L1160.3 225.0 L1161.2 229.0 L1162.0 233.1 L1162.9 237.1 L1163.8 241.1 L1164.6 245.1 L1165.5 249.1 L1166.4 253.2 L1167.2 257.2 L1168.1 261.2 L1168.9 265.2 L1169.8 269.2 L1170.7 273.3 L1171.6 277.3 L1172.5 281.3 L1173.4 285.4 L1174.3 289.5 L1175.2 293.6 L1176.2 297.7 L1177.1 301.8 L1178.0 305.8 L1179.0 309.9 L1179.9 313.9 L1180.8 317.8 L1181.7 321.7 L1182.6 325.5 L1183.5 329.3 L1184.4 333.0 L1185.3 336.7 L1186.1 340.4 L1187.0 344.0 L1187.9 347.6 L1188.7 351.2 L1189.6 354.7 L1190.4 358.1 L1191.3 361.5 L1192.2 364.8 L1193.1 368.1 L1194.0 371.3 L1194.8 374.4 L1195.7 377.5 L1196.6 380.5 L1197.5 383.5 L1198.5 386.4 L1199.4 389.3 L1200.3 392.1 L1201.2 394.9 L1202.1 397.7 L1203.0 400.4 L1203.9 403.1 L1204.8 405.7 L1205.7 408.4 L1206.5 411.0 L1207.4 413.6 L1208.3 416.1 L1209.2 418.6 L1210.1 421.0 L1211.0 423.4 L1211.9 425.8 L1212.8 428.0 L1213.7 430.2 L1214.5 432.4 L1215.4 434.5 L1216.3 436.5 L1217.2 438.5 L1218.1 440.4 L1219.0 442.2 L1219.9 444.0 L1220.8 445.8 L1221.7 447.5 L1222.6 449.1 L1223.5 450.7 L1224.4 452.3 L1225.3 453.8 L1226.2 455.3 L1227.1 456.7 L1228.0 458.1 L1228.9 459.5 L1229.8 460.8 L1230.7 462.0 L1231.6 463.2 L1232.5 464.4 L1233.4 465.5 L1234.2 466.5 L1235.1 467.6 L1236.0 468.5 L1236.9 469.4 L1237.8 470.3 L1238.6 471.1 L1239.5 471.9 L1240.4 472.6 L1241.2 473.3 L1242.1 473.9 L1242.9 474.5 L1243.8 475.1 L1244.7 475.6 L1245.6 476.1 L1246.4 476.6 L1247.4 477.0 L1248.3 477.4 L1249.2 477.8 L1250.1 478.1 L1251.0 478.4 L1252.0 478.6 L1252.9 478.9 L1253.8 479.1 L1254.8 479.3 L1255.7 479.4 L1256.6 479.6 L1257.5 479.8 L1258.3 479.9 L1259.1 480.1 L1259.9 480.2 L1260.6 480.4 L1261.3 480.5 L1262.1 480.5 L1262.8 480.6 L1263.7 480.7 L1264.6 480.7 L1265.6 480.7 L1266.7 480.7 L1267.9 480.6 L1269.3 480.6 L1270.8 480.5 L1272.4 480.3 L1274.1 480.2 L1275.8 480.0 L1277.6 479.8 L1279.5 479.6 L1281.4 479.4 L1283.4 479.1 L1285.4 478.9 L1287.4 478.7 L1289.4 478.4 L1291.5 478.1 L1293.7 477.8 L1296.0 477.5 L1298.3 477.1 L1300.7 476.8 L1303.1 476.4 L1305.5 476.0 L1307.9 475.7 L1310.1 475.4 L1312.3 475.1 L1314.3 474.9 L1316.2 474.7 L1317.8 474.5 L1319.3 474.4 L1320.7 474.3 L1321.9 474.3 L1323.1 474.3 L1324.3 474.3 L1325.4 474.3 L1326.5 474.3 L1327.7 474.4 L1328.9 474.5 L1330.3 474.6 L1331.7 474.7 L1333.3 474.8 L1335.0 474.9 L1336.7 475.1 L1338.5 475.3 L1340.3 475.5 L1342.2 475.7 L1344.1 475.9 L1346.0 476.1 L1347.9 476.4 L1349.8 476.7 L1351.7 477.0 L1353.5 477.3 L1355.4 477.7 L1357.2 478.0 L1359.1 478.5 L1361.0 478.9 L1362.9 479.3 L1364.8 479.8 L1366.7 480.3 L1368.6 480.7 L1370.5 481.2 L1372.3 481.7 L1374.1 482.1 L1375.9 482.6 L1377.7 483.0 L1379.3 483.5 L1381.0 483.9 L1382.6 484.4 L1384.2 484.9 L1385.8 485.3 L1387.4 485.8 L1389.0 486.2 L1390.7 486.6 L1392.4 487.0 L1394.3 487.4 L1396.2 487.7 L1398.2 488.0 L1400.2 488.3 L1402.3 488.6 L1404.4 488.9 L1406.6 489.1 L1408.8 489.3 L1411.0 489.5 L1413.3 489.7 L1415.7 489.9 L1418.1 490.0 L1420.6 490.1 L1423.2 490.1 L1425.8 490.2 L1428.5 490.1 L1431.4 490.0 L1434.3 489.9 L1437.3 489.8 L1440.3 489.6 L1443.3 489.5 L1446.3 489.3 L1449.3 489.1 L1452.2 489.0 L1455.1 488.8 L1457.8 488.7 L1460.5 488.6 L1463.2 488.5 L1465.8 488.4 L1468.4 488.3 L1470.9 488.2 L1473.5 488.1 L1476.0 488.0 L1478.5 487.9 L1481.0 487.8 L1483.5 487.8 L1486.1 487.7 L1488.6 487.7 L1491.2 487.7 L1493.8 487.8 L1496.4 487.8 L1498.9 487.9 L1501.5 487.9 L1504.1 488.0 L1506.7 488.1 L1509.2 488.2 L1511.8 488.3 L1514.4 488.4 L1516.9 488.6 L1519.5 488.7 L1522.1 488.9 L1524.6 489.1 L1527.2 489.3 L1529.7 489.5 L1532.3 489.7 L1534.9 490.0 L1537.4 490.2 L1540.0 490.4 L1542.5 490.6 L1545.1 490.8 L1547.6 491.0 L1550.2 491.2 L1552.7 491.3 L1555.2 491.4 L1557.6 491.5 L1560.0 491.6 L1562.4 491.7 L1564.9 491.8 L1567.3 491.8 L1569.9 491.9 L1572.5 491.9 L1575.1 491.9 L1577.9 492.0 L1580.9 492.0 L1583.9 492.0 L1587.1 492.0 L1590.4 491.9 L1593.8 491.9 L1597.3 491.8 L1600.8 491.7 L1604.3 491.6 L1607.9 491.6 L1611.5 491.5 L1615.0 491.4 L1618.5 491.4 L1622.0 491.4 L1625.4 491.4 L1628.9 491.3 L1632.4 491.3 L1635.8 491.4 L1639.3 491.4 L1642.8 491.4 L1646.3 491.4 L1649.7 491.4 L1653.1 491.5 L1656.5 491.5 L1659.8 491.5 L1663.1 491.6 L1666.4 491.6 L1669.9 491.6 L1673.5 491.7 L1677.0 491.8 L1680.6 491.8 L1684.1 491.9 L1687.4 492.0 L1690.5 492.0 L1693.4 492.1 L1695.9 492.1 L1698.1 492.2 L1699.9 492.2" fill="none" stroke="#0072BD" stroke-width="6.5" stroke-linecap="round" stroke-linejoin="round"/>
<path d="M1086.3 399.0 L1087.7 398.9 L1089.5 398.9 L1091.7 398.9 L1094.0 398.8 L1096.6 398.8 L1099.4 398.8 L1102.2 398.7 L1105.0 398.7 L1107.9 398.6 L1110.7 398.5 L1113.3 398.4 L1115.8 398.3 L1118.1 398.2 L1120.4 398.1 L1122.6 398.0 L1124.9 397.9 L1127.1 397.8 L1129.3 397.6 L1131.5 397.5 L1133.6 397.3 L1135.8 397.1 L1138.0 396.9 L1140.2 396.7 L1142.4 396.5 L1144.7 396.2 L1146.9 395.9 L1149.1 395.6 L1151.3 395.3 L1153.6 394.9 L1155.8 394.6 L1158.0 394.2 L1160.2 393.8 L1162.5 393.4 L1164.7 393.0 L1166.9 392.6 L1169.1 392.2 L1171.4 391.8 L1173.6 391.3 L1175.8 390.8 L1178.1 390.4 L1180.3 389.9 L1182.5 389.4 L1184.7 388.9 L1187.0 388.4 L1189.2 387.9 L1191.4 387.4 L1193.7 387.0 L1195.9 386.5 L1198.1 386.1 L1200.4 385.7 L1202.6 385.3 L1204.9 384.9 L1207.1 384.5 L1209.4 384.1 L1211.6 383.8 L1213.8 383.4 L1216.1 383.1 L1218.2 382.8 L1220.4 382.5 L1222.5 382.3 L1224.6 382.1 L1226.8 381.9 L1228.9 381.7 L1231.0 381.5 L1233.1 381.4 L1235.1 381.3 L1237.2 381.2 L1239.1 381.1 L1241.1 381.1 L1242.9 381.1 L1244.7 381.0 L1246.4 381.0 L1248.1 381.1 L1249.6 381.1 L1251.1 381.1 L1252.4 381.2 L1253.8 381.3 L1255.1 381.4 L1256.3 381.5 L1257.6 381.6 L1258.8 381.8 L1260.1 382.0 L1261.4 382.2 L1262.7 382.4 L1264.0 382.7 L1265.3 382.9 L1266.6 383.3 L1267.9 383.6 L1269.1 383.9 L1270.4 384.3 L1271.7 384.7 L1273.0 385.1 L1274.4 385.5 L1275.8 386.0 L1277.2 386.5 L1278.7 387.0 L1280.3 387.5 L1281.9 388.1 L1283.5 388.6 L1285.2 389.2 L1286.9 389.8 L1288.6 390.5 L1290.4 391.1 L1292.2 391.8 L1294.0 392.6 L1295.9 393.4 L1297.9 394.2 L1299.8 395.0 L1301.9 396.0 L1304.0 397.0 L1306.2 398.0 L1308.4 399.1 L1310.7 400.3 L1313.0 401.4 L1315.3 402.6 L1317.6 403.8 L1320.0 404.9 L1322.3 406.1 L1324.6 407.2 L1326.8 408.3 L1329.1 409.3 L1331.4 410.4 L1333.7 411.5 L1336.0 412.6 L1338.4 413.6 L1340.7 414.7 L1343.0 415.7 L1345.2 416.7 L1347.4 417.6 L1349.5 418.5 L1351.6 419.3 L1353.5 420.1 L1355.3 420.8 L1357.0 421.4 L1358.6 422.0 L1360.1 422.5 L1361.5 422.9 L1362.9 423.3 L1364.3 423.7 L1365.7 424.1 L1367.2 424.5 L1368.8 424.9 L1370.4 425.3 L1372.2 425.8 L1374.1 426.2 L1376.0 426.7 L1378.0 427.1 L1380.0 427.5 L1382.0 428.0 L1384.1 428.4 L1386.3 428.8 L1388.5 429.3 L1390.9 429.7 L1393.3 430.2 L1395.8 430.7 L1398.5 431.3 L1401.3 431.8 L1404.3 432.4 L1407.4 432.9 L1410.6 433.5 L1413.9 434.1 L1417.3 434.8 L1420.7 435.4 L1424.1 436.0 L1427.5 436.7 L1430.9 437.4 L1434.2 438.1 L1437.5 438.9 L1440.7 439.6 L1443.8 440.4 L1447.0 441.2 L1450.1 442.1 L1453.2 442.9 L1456.3 443.8 L1459.5 444.7 L1462.6 445.6 L1465.7 446.5 L1468.9 447.4 L1472.1 448.4 L1475.3 449.3 L1478.6 450.3 L1481.9 451.4 L1485.3 452.5 L1488.6 453.6 L1492.0 454.7 L1495.4 455.8 L1498.8 457.0 L1502.2 458.1 L1505.5 459.1 L1508.8 460.2 L1512.0 461.1 L1515.2 462.0 L1518.3 462.9 L1521.3 463.7 L1524.2 464.5 L1527.1 465.2 L1529.9 466.0 L1532.7 466.6 L1535.6 467.3 L1538.4 467.9 L1541.3 468.5 L1544.2 469.1 L1547.1 469.7 L1550.2 470.2 L1553.3 470.7 L1556.5 471.2 L1559.7 471.7 L1562.9 472.1 L1566.2 472.5 L1569.4 472.8 L1572.7 473.2 L1576.1 473.5 L1579.4 473.9 L1582.7 474.2 L1585.9 474.5 L1589.2 474.8 L1592.5 475.1 L1595.7 475.3 L1598.9 475.5 L1602.2 475.8 L1605.4 476.0 L1608.7 476.1 L1611.9 476.3 L1615.1 476.5 L1618.4 476.7 L1621.6 476.9 L1624.9 477.2 L1628.1 477.4 L1631.4 477.7 L1634.7 478.0 L1638.0 478.2 L1641.3 478.5 L1644.7 478.8 L1648.0 479.2 L1651.3 479.5 L1654.6 479.8 L1657.8 480.1 L1661.0 480.4 L1664.1 480.8 L1667.1 481.1 L1670.2 481.5 L1673.3 481.8 L1676.5 482.2 L1679.7 482.7 L1682.9 483.1 L1686.0 483.5 L1688.9 483.9 L1691.6 484.3 L1694.2 484.7 L1696.4 485.0 L1698.3 485.2 L1699.9 485.5" fill="none" stroke="#D95319" stroke-width="6.5" stroke-linecap="round" stroke-linejoin="round" stroke-dasharray="19.8 19.3"/>
<path d="M1086.3 461.3 L1089.6 461.4 L1093.7 461.5 L1098.5 461.6 L1103.9 461.7 L1109.7 461.8 L1115.9 462.0 L1122.5 462.1 L1129.1 462.3 L1135.9 462.4 L1142.6 462.5 L1149.3 462.6 L1155.6 462.7 L1161.9 462.7 L1168.4 462.7 L1175.0 462.7 L1181.6 462.7 L1188.3 462.7 L1195.1 462.7 L1202.0 462.7 L1208.8 462.6 L1215.7 462.6 L1222.5 462.6 L1229.3 462.6 L1236.0 462.7 L1242.8 462.7 L1249.9 462.8 L1257.1 462.8 L1264.3 462.9 L1271.6 463.0 L1278.8 463.1 L1285.8 463.2 L1292.7 463.3 L1299.2 463.4 L1305.4 463.5 L1311.1 463.6 L1316.4 463.7 L1321.1 463.8 L1325.2 464.0 L1328.9 464.1 L1332.2 464.3 L1335.2 464.5 L1338.0 464.7 L1340.7 464.9 L1343.3 465.0 L1346.1 465.2 L1348.9 465.3 L1352.0 465.4 L1355.4 465.5 L1359.1 465.5 L1362.9 465.6 L1366.8 465.6 L1370.9 465.6 L1374.9 465.6 L1379.0 465.5 L1383.1 465.5 L1387.2 465.4 L1391.2 465.4 L1395.1 465.3 L1398.9 465.2 L1402.6 465.1 L1406.1 465.0 L1409.6 464.9 L1412.9 464.7 L1416.2 464.6 L1419.4 464.4 L1422.6 464.2 L1425.8 464.1 L1428.9 463.9 L1432.0 463.7 L1435.2 463.5 L1438.4 463.3 L1441.6 463.1 L1444.8 462.9 L1448.1 462.7 L1451.3 462.5 L1454.5 462.3 L1457.8 462.0 L1461.0 461.8 L1464.3 461.6 L1467.5 461.4 L1470.7 461.1 L1474.0 460.9 L1477.2 460.6 L1480.5 460.4 L1483.7 460.1 L1487.0 459.9 L1490.2 459.6 L1493.5 459.3 L1496.7 459.0 L1500.0 458.7 L1503.2 458.4 L1506.5 458.2 L1509.8 457.9 L1513.0 457.6 L1516.3 457.4 L1519.5 457.1 L1522.8 456.9 L1526.2 456.7 L1529.7 456.4 L1533.2 456.2 L1536.6 456.0 L1540.1 455.8 L1543.5 455.6 L1546.8 455.4 L1550.0 455.3 L1553.0 455.1 L1555.8 455.0 L1558.4 454.9 L1560.7 454.8 L1562.7 454.7 L1564.4 454.6 L1566.0 454.6 L1567.4 454.6 L1568.7 454.5 L1570.1 454.5 L1571.5 454.6 L1573.0 454.6 L1574.7 454.6 L1576.7 454.6 L1579.0 454.7 L1581.6 454.7 L1584.4 454.8 L1587.5 454.9 L1590.6 455.0 L1593.9 455.1 L1597.3 455.2 L1600.8 455.3 L1604.3 455.4 L1607.8 455.5 L1611.2 455.7 L1614.6 455.8 L1617.9 455.9 L1621.2 456.0 L1624.4 456.2 L1627.6 456.3 L1630.8 456.4 L1634.0 456.6 L1637.2 456.7 L1640.4 456.9 L1643.6 457.0 L1646.9 457.1 L1650.2 457.3 L1653.6 457.4 L1656.9 457.5 L1660.5 457.6 L1664.4 457.7 L1668.4 457.9 L1672.6 458.0 L1676.7 458.1 L1680.9 458.2 L1684.8 458.3 L1688.6 458.4 L1692.1 458.4 L1695.2 458.5 L1697.8 458.6 L1699.9 458.6" fill="none" stroke="#EDB120" stroke-width="6.5" stroke-linecap="round" stroke-linejoin="round" stroke-dasharray="6.7 12.8"/>
<text x="1392.5" y="571.5" font-size="29.5" text-anchor="middle">X distance/<tspan style="font-family:'Liberation Serif',serif">μ</tspan>m</text>
<text transform="translate(1006.5,256.5) rotate(-90)" font-size="29.5" text-anchor="middle">Normalized INT/a.u.</text>
<line x1="1501.5" y1="61.1" x2="1558.5" y2="61.1" stroke="#0072BD" stroke-width="6.5" stroke-linecap="round"/>
<path d="M1501.5 99 H1521.3 M1540.6 99 H1558.5" stroke="#D95319" stroke-width="6.5" stroke-linecap="round"/>
<path d="M1503.4 137.2 H1510 M1522.8 137.2 H1529.4 M1542.3 137.2 H1549" stroke="#EDB120" stroke-width="6.5" stroke-linecap="round"/>
<text x="1572.0" y="67.0" font-size="25.8">z = 0 <tspan style="font-family:'Liberation Serif',serif">μ</tspan>m</text>
<text x="1572.0" y="105.8" font-size="25.8">z = 1 <tspan style="font-family:'Liberation Serif',serif">μ</tspan>m</text>
<text x="1572.0" y="144.1" font-size="25.8">z = 2 <tspan style="font-family:'Liberation Serif',serif">μ</tspan>m</text>
<!-- panel c -->
<text x="1.2" y="667.5" font-size="43" font-weight="bold">c</text>
<path d="M102.4 728.1 L104.9 728.0 L107.3 727.8 L109.8 727.6 L112.3 727.4 L114.7 727.2 L117.2 726.9 L119.7 726.5 L122.1 726.1 L124.6 725.7 L127.1 725.2 L129.5 724.6 L132.0 723.9 L134.5 723.1 L136.9 722.2 L139.4 721.2 L141.9 720.1 L144.3 718.9 L146.8 717.5 L149.3 716.1 L151.7 714.4 L154.2 712.7 L156.7 710.7 L159.1 708.6 L161.6 706.4 L164.1 704.0 L166.5 701.5 L169.0 698.8 L171.5 696.1 L173.9 693.1 L176.4 690.1 L178.9 687.0 L181.3 683.8 L183.8 680.6 L186.3 677.3 L188.7 674.1 L191.2 670.8 L193.7 667.6 L196.1 664.5 L198.6 661.5 L201.1 658.7 L203.5 656.0 L206.0 653.5 L208.5 651.2 L210.9 649.2 L213.4 647.4 L215.9 646.0 L218.3 644.8 L220.8 644.0 L223.3 643.5 L225.8 643.3 L228.2 643.5 L230.7 644.0 L233.2 644.8 L235.6 646.0 L238.1 647.5 L240.6 649.2 L243.0 651.3 L245.5 653.6 L248.0 656.1 L250.4 658.8 L252.9 661.6 L255.4 664.6 L257.8 667.8 L260.3 671.0 L262.8 674.2 L265.2 677.5 L267.7 680.7 L270.2 684.0 L272.6 687.1 L275.1 690.2 L277.6 693.3 L280.0 696.2 L282.5 699.0 L285.0 701.6 L287.4 704.1 L289.9 706.5 L292.4 708.7 L294.8 710.8 L297.3 712.7 L299.8 714.5 L302.2 716.1 L304.7 717.6 L307.2 719.0 L309.6 720.2 L312.1 721.3 L314.6 722.2 L317.0 723.1 L319.5 723.9 L322.0 724.6 L324.4 725.2 L326.9 725.7 L329.4 726.2 L331.8 726.6 L334.3 726.9 L336.8 727.2 L339.2 727.4 L341.7 727.7 L344.2 727.8 L346.6 728.0 L349.1 728.1" fill="none" stroke="#000" stroke-width="3.5" stroke-linecap="round" stroke-linejoin="round"/>
<circle cx="232.6" cy="766.4" r="4.1" fill="#000"/>
<g transform="translate(66.00,822.00)" stroke="#000" stroke-width="1" stroke-linejoin="round" stroke-linecap="round"><path d="M29.93 42.58A51.82 27.23 0 0 1 52.53 16.25A51.82 27.23 0 0 1 107.47 15.41A40.92 21.53 0 0 1 137.39 4.23A40.92 21.53 0 0 1 172.32 10.17A33.50 17.61 0 0 1 199.13 0.50A33.50 17.61 0 0 1 228.93 7.35A37.27 19.54 0 0 1 267.03 1.11A37.27 19.54 0 0 1 294.04 16.52A40.92 21.55 0 0 1 320.14 27.94A40.92 21.55 0 0 1 320.90 45.81A51.99 27.32 0 0 1 327.81 72.75A51.99 27.32 0 0 1 287.03 89.49A44.39 23.31 0 0 1 264.01 109.73A44.39 23.31 0 0 1 219.13 109.08A51.81 27.30 0 0 1 177.16 128.17A51.81 27.30 0 0 1 126.46 116.34A59.24 31.24 0 0 1 81.02 119.80A59.24 31.24 0 0 1 44.54 105.10A33.46 17.53 0 0 1 10.78 95.59A33.46 17.53 0 0 1 16.22 75.70A33.34 17.61 0 0 1 0.48 56.77A33.34 17.61 0 0 1 29.65 42.98Z" fill="#ED7D31" fill-opacity="0.3"/><path d="M36.01 77.56A33.34 17.61 0 0 1 16.57 75.20M53.16 103.40A33.46 17.53 0 0 1 44.66 104.53M126.45 115.82A51.81 27.30 0 0 1 121.32 110.67M221.21 102.97A51.81 27.30 0 0 1 219.16 108.62M261.89 68.01A44.39 23.31 0 0 1 286.84 89.15M320.74 45.49A40.92 21.55 0 0 1 309.63 53.42M294.08 16.08A37.27 19.54 0 0 1 294.67 19.82M223.13 11.71A37.27 19.54 0 0 1 228.82 6.93M169.90 13.99A33.50 17.61 0 0 1 172.66 9.87M107.43 15.38A40.92 21.53 0 0 1 115.31 18.55M31.67 46.78A51.82 27.23 0 0 1 29.93 42.58" fill="none"/></g>
<text x="231.8" y="894.6" font-size="29.7" text-anchor="middle">Sample</text>
<text x="231.9" y="1029.6" font-size="32.5" text-anchor="middle" stroke="#fff" stroke-width="1.25" style="font-family:'DejaVu Sans',sans-serif">⊗</text>
<rect x="179.1" y="1039.3" width="105.5" height="126.8" fill="#fff" stroke="#000" stroke-width="3.6" stroke-linejoin="round"/>
<line x1="196.7" y1="1039.3" x2="196.7" y2="1166.1" stroke="#000" stroke-width="3.4"/>
<line x1="214.3" y1="1039.3" x2="214.3" y2="1166.1" stroke="#000" stroke-width="3.4"/>
<line x1="231.8" y1="1039.3" x2="231.8" y2="1166.1" stroke="#000" stroke-width="3.4"/>
<line x1="249.4" y1="1039.3" x2="249.4" y2="1166.1" stroke="#000" stroke-width="3.4"/>
<line x1="267.0" y1="1039.3" x2="267.0" y2="1166.1" stroke="#000" stroke-width="3.4"/>
<text x="232.0" y="1205.2" font-size="29.7" text-anchor="middle">N-lines</text>
<text x="645.3" y="910.7" font-size="29.7" font-weight="bold" text-anchor="middle" fill="#C00000">Coded</text>
<path d="M550 929 H738.8 V912 L798 948 L738.8 984 V967 H550 Z" fill="#1F4470" stroke="#1F4470" stroke-width="1" stroke-linejoin="round"/>
<text x="872.0" y="706.0" font-size="29.7">Time</text>
<line x1="876" y1="806" x2="1016" y2="668" stroke="#000" stroke-width="3.5" stroke-linecap="round"/>
<path d="M1030.5 653.7 L1022.6 677.8 L1017.3 666.7 L1006.3 661.2 Z" fill="#000"/>
<text x="1153.5" y="1186.7" font-size="29.7" text-anchor="middle">Moving axis</text>
<line x1="1006" y1="1206.5" x2="1300" y2="1206.5" stroke="#000" stroke-width="3.3" stroke-linecap="round"/>
<path d="M1318.5 1206.5 L1296 1195 L1300 1206.5 L1296 1218 Z" fill="#000"/>
<text x="1533.5" y="1104.9" font-size="29.7">Rearranged</text>
<path d="M929.8 822.3 L1071.8 679.3 L1593.1 679.3 L1451.1 822.3 Z" fill="#fff"/>
<g transform="matrix(52.1300,0,-12.9091,13.0000,942.709,809.300)" clip-path="url(#ucell)"><rect x="0" y="0" width="1" height="1" fill="#a6a6a6"/><use href="#vcl" transform="translate(0,-6.740)"/></g>
<g transform="matrix(52.1300,0,-12.9091,13.0000,955.618,796.300)" clip-path="url(#ucell)"><rect x="0" y="0" width="1" height="1" fill="#bfbfbf"/><use href="#vcl" transform="translate(0,-6.740)"/></g>
<g transform="matrix(52.1300,0,-12.9091,13.0000,1007.748,796.300)" clip-path="url(#ucell)"><rect x="0" y="0" width="1" height="1" fill="#a6a6a6"/><use href="#vcl" transform="translate(0,-5.740)"/></g>
<g transform="matrix(52.1300,0,-12.9091,13.0000,968.527,783.300)" clip-path="url(#ucell)"><rect x="0" y="0" width="1" height="1" fill="#d9d9d9"/><use href="#vcl" transform="translate(0,-6.740)"/></g>
<g transform="matrix(52.1300,0,-12.9091,13.0000,1020.657,783.300)" clip-path="url(#ucell)"><rect x="0" y="0" width="1" height="1" fill="#bfbfbf"/><use href="#vcl" transform="translate(0,-5.740)"/></g>
<g transform="matrix(52.1300,0,-12.9091,13.0000,1072.787,783.300)" clip-path="url(#ucell)"><rect x="0" y="0" width="1" height="1" fill="#a6a6a6"/><use href="#vcl" transform="translate(0,-4.740)"/></g>
<g transform="matrix(52.1300,0,-12.9091,13.0000,981.436,770.300)" clip-path="url(#ucell)"><rect x="0" y="0" width="1" height="1" fill="#d9d9d9"/><use href="#vcl" transform="translate(0,-6.740)"/></g>
<g transform="matrix(52.1300,0,-12.9091,13.0000,1033.566,770.300)" clip-path="url(#ucell)"><rect x="0" y="0" width="1" height="1" fill="#d9d9d9"/><use href="#vcl" transform="translate(0,-5.740)"/></g>
<g transform="matrix(52.1300,0,-12.9091,13.0000,1085.696,770.300)" clip-path="url(#ucell)"><rect x="0" y="0" width="1" height="1" fill="#bfbfbf"/><use href="#vcl" transform="translate(0,-4.740)"/></g>
<g transform="matrix(52.1300,0,-12.9091,13.0000,1137.826,770.300)" clip-path="url(#ucell)"><rect x="0" y="0" width="1" height="1" fill="#a6a6a6"/><use href="#vcl" transform="translate(0,-3.740)"/></g>
<g transform="matrix(52.1300,0,-12.9091,13.0000,994.345,757.300)" clip-path="url(#ucell)"><rect x="0" y="0" width="1" height="1" fill="#bfbfbf"/><use href="#vcl" transform="translate(0,-6.740)"/></g>
<g transform="matrix(52.1300,0,-12.9091,13.0000,1046.475,757.300)" clip-path="url(#ucell)"><rect x="0" y="0" width="1" height="1" fill="#d9d9d9"/><use href="#vcl" transform="translate(0,-5.740)"/></g>
<g transform="matrix(52.1300,0,-12.9091,13.0000,1098.605,757.300)" clip-path="url(#ucell)"><rect x="0" y="0" width="1" height="1" fill="#d9d9d9"/><use href="#vcl" transform="translate(0,-4.740)"/></g>
<g transform="matrix(52.1300,0,-12.9091,13.0000,1150.735,757.300)" clip-path="url(#ucell)"><rect x="0" y="0" width="1" height="1" fill="#bfbfbf"/><use href="#vcl" transform="translate(0,-3.740)"/></g>
<g transform="matrix(52.1300,0,-12.9091,13.0000,1202.865,757.300)" clip-path="url(#ucell)"><rect x="0" y="0" width="1" height="1" fill="#a6a6a6"/><use href="#vcl" transform="translate(0,-2.740)"/></g>
<g transform="matrix(52.1300,0,-12.9091,13.0000,1007.255,744.300)" clip-path="url(#ucell)"><rect x="0" y="0" width="1" height="1" fill="#a6a6a6"/><use href="#vcl" transform="translate(0,-6.740)"/></g>
<g transform="matrix(52.1300,0,-12.9091,13.0000,1059.385,744.300)" clip-path="url(#ucell)"><rect x="0" y="0" width="1" height="1" fill="#bfbfbf"/><use href="#vcl" transform="translate(0,-5.740)"/></g>
<g transform="matrix(52.1300,0,-12.9091,13.0000,1111.515,744.300)" clip-path="url(#ucell)"><rect x="0" y="0" width="1" height="1" fill="#d9d9d9"/><use href="#vcl" transform="translate(0,-4.740)"/></g>
<g transform="matrix(52.1300,0,-12.9091,13.0000,1163.645,744.300)" clip-path="url(#ucell)"><rect x="0" y="0" width="1" height="1" fill="#d9d9d9"/><use href="#vcl" transform="translate(0,-3.740)"/></g>
<g transform="matrix(52.1300,0,-12.9091,13.0000,1215.775,744.300)" clip-path="url(#ucell)"><rect x="0" y="0" width="1" height="1" fill="#bfbfbf"/><use href="#vcl" transform="translate(0,-2.740)"/></g>
<g transform="matrix(52.1300,0,-12.9091,13.0000,1267.905,744.300)" clip-path="url(#ucell)"><rect x="0" y="0" width="1" height="1" fill="#a6a6a6"/><use href="#vcl" transform="translate(0,-1.740)"/></g>
<g transform="matrix(52.1300,0,-12.9091,13.0000,1072.294,731.300)" clip-path="url(#ucell)"><rect x="0" y="0" width="1" height="1" fill="#a6a6a6"/><use href="#vcl" transform="translate(0,-5.740)"/></g>
<g transform="matrix(52.1300,0,-12.9091,13.0000,1124.424,731.300)" clip-path="url(#ucell)"><rect x="0" y="0" width="1" height="1" fill="#bfbfbf"/><use href="#vcl" transform="translate(0,-4.740)"/></g>
<g transform="matrix(52.1300,0,-12.9091,13.0000,1176.554,731.300)" clip-path="url(#ucell)"><rect x="0" y="0" width="1" height="1" fill="#d9d9d9"/><use href="#vcl" transform="translate(0,-3.740)"/></g>
<g transform="matrix(52.1300,0,-12.9091,13.0000,1228.684,731.300)" clip-path="url(#ucell)"><rect x="0" y="0" width="1" height="1" fill="#d9d9d9"/><use href="#vcl" transform="translate(0,-2.740)"/></g>
<g transform="matrix(52.1300,0,-12.9091,13.0000,1280.814,731.300)" clip-path="url(#ucell)"><rect x="0" y="0" width="1" height="1" fill="#bfbfbf"/><use href="#vcl" transform="translate(0,-1.740)"/></g>
<g transform="matrix(52.1300,0,-12.9091,13.0000,1137.333,718.300)" clip-path="url(#ucell)"><rect x="0" y="0" width="1" height="1" fill="#a6a6a6"/><use href="#vcl" transform="translate(0,-4.740)"/></g>
<g transform="matrix(52.1300,0,-12.9091,13.0000,1189.463,718.300)" clip-path="url(#ucell)"><rect x="0" y="0" width="1" height="1" fill="#bfbfbf"/><use href="#vcl" transform="translate(0,-3.740)"/></g>
<g transform="matrix(52.1300,0,-12.9091,13.0000,1241.593,718.300)" clip-path="url(#ucell)"><rect x="0" y="0" width="1" height="1" fill="#d9d9d9"/><use href="#vcl" transform="translate(0,-2.740)"/></g>
<g transform="matrix(52.1300,0,-12.9091,13.0000,1293.723,718.300)" clip-path="url(#ucell)"><rect x="0" y="0" width="1" height="1" fill="#d9d9d9"/><use href="#vcl" transform="translate(0,-1.740)"/></g>
<g transform="matrix(52.1300,0,-12.9091,13.0000,1202.372,705.300)" clip-path="url(#ucell)"><rect x="0" y="0" width="1" height="1" fill="#a6a6a6"/><use href="#vcl" transform="translate(0,-3.740)"/></g>
<g transform="matrix(52.1300,0,-12.9091,13.0000,1254.502,705.300)" clip-path="url(#ucell)"><rect x="0" y="0" width="1" height="1" fill="#bfbfbf"/><use href="#vcl" transform="translate(0,-2.740)"/></g>
<g transform="matrix(52.1300,0,-12.9091,13.0000,1306.632,705.300)" clip-path="url(#ucell)"><rect x="0" y="0" width="1" height="1" fill="#d9d9d9"/><use href="#vcl" transform="translate(0,-1.740)"/></g>
<g transform="matrix(52.1300,0,-12.9091,13.0000,1267.411,692.300)" clip-path="url(#ucell)"><rect x="0" y="0" width="1" height="1" fill="#a6a6a6"/><use href="#vcl" transform="translate(0,-2.740)"/></g>
<g transform="matrix(52.1300,0,-12.9091,13.0000,1319.541,692.300)" clip-path="url(#ucell)"><rect x="0" y="0" width="1" height="1" fill="#bfbfbf"/><use href="#vcl" transform="translate(0,-1.740)"/></g>
<g transform="matrix(52.1300,0,-12.9091,13.0000,1332.450,679.300)" clip-path="url(#ucell)"><rect x="0" y="0" width="1" height="1" fill="#a6a6a6"/><use href="#vcl" transform="translate(0,-1.740)"/></g>
<line x1="929.8" y1="822.3" x2="1451.1" y2="822.3" stroke="#111" stroke-width="1.0"/>
<line x1="942.7" y1="809.3" x2="1464.0" y2="809.3" stroke="#111" stroke-width="1.0"/>
<line x1="955.6" y1="796.3" x2="1476.9" y2="796.3" stroke="#111" stroke-width="1.0"/>
<line x1="968.5" y1="783.3" x2="1489.8" y2="783.3" stroke="#111" stroke-width="1.0"/>
<line x1="981.4" y1="770.3" x2="1502.7" y2="770.3" stroke="#111" stroke-width="1.0"/>
<line x1="994.3" y1="757.3" x2="1515.6" y2="757.3" stroke="#111" stroke-width="1.0"/>
<line x1="1007.3" y1="744.3" x2="1528.6" y2="744.3" stroke="#111" stroke-width="1.0"/>
<line x1="1020.2" y1="731.3" x2="1541.5" y2="731.3" stroke="#111" stroke-width="1.0"/>
<line x1="1033.1" y1="718.3" x2="1554.4" y2="718.3" stroke="#111" stroke-width="1.0"/>
<line x1="1046.0" y1="705.3" x2="1567.3" y2="705.3" stroke="#111" stroke-width="1.0"/>
<line x1="1058.9" y1="692.3" x2="1580.2" y2="692.3" stroke="#111" stroke-width="1.0"/>
<line x1="1071.8" y1="679.3" x2="1593.1" y2="679.3" stroke="#111" stroke-width="1.0"/>
<line x1="929.8" y1="822.3" x2="1071.8" y2="679.3" stroke="#111" stroke-width="1.0"/>
<line x1="981.9" y1="822.3" x2="1123.9" y2="679.3" stroke="#111" stroke-width="1.0"/>
<line x1="1034.1" y1="822.3" x2="1176.1" y2="679.3" stroke="#111" stroke-width="1.0"/>
<line x1="1086.2" y1="822.3" x2="1228.2" y2="679.3" stroke="#111" stroke-width="1.0"/>
<line x1="1138.3" y1="822.3" x2="1280.3" y2="679.3" stroke="#111" stroke-width="1.0"/>
<line x1="1190.5" y1="822.3" x2="1332.5" y2="679.3" stroke="#111" stroke-width="1.0"/>
<line x1="1242.6" y1="822.3" x2="1384.6" y2="679.3" stroke="#111" stroke-width="1.0"/>
<line x1="1294.7" y1="822.3" x2="1436.7" y2="679.3" stroke="#111" stroke-width="1.0"/>
<line x1="1346.8" y1="822.3" x2="1488.8" y2="679.3" stroke="#111" stroke-width="1.0"/>
<line x1="1399.0" y1="822.3" x2="1541.0" y2="679.3" stroke="#111" stroke-width="1.0"/>
<line x1="1451.1" y1="822.3" x2="1593.1" y2="679.3" stroke="#111" stroke-width="1.0"/>
<g transform="matrix(12.9091,-13.0000,0,52.1300,1451.100,822.300)"><rect x="0" y="0" width="11" height="1.005" fill="#a6a6a6"/>
<g transform="translate(0.1,0.06)" stroke="#2a1a10" stroke-width="1"><path d="M0.9750 0.2927A1.6883 0.1872 0 0 1 1.7114 0.1117A1.6883 0.1872 0 0 1 3.5013 0.1060A1.3333 0.1480 0 0 1 4.4762 0.0291A1.3333 0.1480 0 0 1 5.6140 0.0699A1.0913 0.1211 0 0 1 6.4876 0.0034A1.0913 0.1211 0 0 1 7.4582 0.0505A1.2143 0.1343 0 0 1 8.6995 0.0077A1.2143 0.1343 0 0 1 9.5795 0.1136A1.3333 0.1482 0 0 1 10.4298 0.1921A1.3333 0.1482 0 0 1 10.4546 0.3149A1.6938 0.1878 0 0 1 10.6799 0.5002A1.6938 0.1878 0 0 1 9.3511 0.6152A1.4463 0.1603 0 0 1 8.6012 0.7544A1.4463 0.1603 0 0 1 7.1390 0.7499A1.6880 0.1877 0 0 1 5.7717 0.8812A1.6880 0.1877 0 0 1 4.1201 0.7998A1.9300 0.2148 0 0 1 2.6397 0.8236A1.9300 0.2148 0 0 1 1.4512 0.7225A1.0900 0.1206 0 0 1 0.3512 0.6571A1.0900 0.1206 0 0 1 0.5284 0.5204A1.0862 0.1211 0 0 1 0.0157 0.3903A1.0862 0.1211 0 0 1 0.9659 0.2955Z" fill="#F4A066" fill-opacity="0.45" vector-effect="non-scaling-stroke"/><path d="M1.1733 0.5332A1.0862 0.1211 0 0 1 0.5400 0.5170M1.7320 0.7109A1.0900 0.1206 0 0 1 1.4549 0.7187M4.1195 0.7963A1.6880 0.1877 0 0 1 3.9526 0.7608M7.2068 0.7079A1.6880 0.1877 0 0 1 7.1401 0.7468M8.5322 0.4676A1.4463 0.1603 0 0 1 9.3451 0.6129M10.4495 0.3128A1.3333 0.1482 0 0 1 10.0876 0.3673M9.5810 0.1105A1.2143 0.1343 0 0 1 9.6001 0.1363M7.2695 0.0805A1.2143 0.1343 0 0 1 7.4549 0.0477M5.5353 0.0961A1.0913 0.1211 0 0 1 5.6251 0.0678M3.5000 0.1058A1.3333 0.1480 0 0 1 3.7566 0.1275M1.0317 0.3216A1.6883 0.1872 0 0 1 0.9750 0.2927" fill="none" vector-effect="non-scaling-stroke"/></g>
</g>
<g transform="matrix(12.9091,-13.0000,0,52.1300,1451.100,874.430)"><rect x="0" y="0" width="11" height="1.005" fill="#bfbfbf"/>
<g transform="translate(0.1,0.06)" stroke="#2a1a10" stroke-width="1"><path d="M0.9750 0.2927A1.6883 0.1872 0 0 1 1.7114 0.1117A1.6883 0.1872 0 0 1 3.5013 0.1060A1.3333 0.1480 0 0 1 4.4762 0.0291A1.3333 0.1480 0 0 1 5.6140 0.0699A1.0913 0.1211 0 0 1 6.4876 0.0034A1.0913 0.1211 0 0 1 7.4582 0.0505A1.2143 0.1343 0 0 1 8.6995 0.0077A1.2143 0.1343 0 0 1 9.5795 0.1136A1.3333 0.1482 0 0 1 10.4298 0.1921A1.3333 0.1482 0 0 1 10.4546 0.3149A1.6938 0.1878 0 0 1 10.6799 0.5002A1.6938 0.1878 0 0 1 9.3511 0.6152A1.4463 0.1603 0 0 1 8.6012 0.7544A1.4463 0.1603 0 0 1 7.1390 0.7499A1.6880 0.1877 0 0 1 5.7717 0.8812A1.6880 0.1877 0 0 1 4.1201 0.7998A1.9300 0.2148 0 0 1 2.6397 0.8236A1.9300 0.2148 0 0 1 1.4512 0.7225A1.0900 0.1206 0 0 1 0.3512 0.6571A1.0900 0.1206 0 0 1 0.5284 0.5204A1.0862 0.1211 0 0 1 0.0157 0.3903A1.0862 0.1211 0 0 1 0.9659 0.2955Z" fill="#F4A066" fill-opacity="0.45" vector-effect="non-scaling-stroke"/><path d="M1.1733 0.5332A1.0862 0.1211 0 0 1 0.5400 0.5170M1.7320 0.7109A1.0900 0.1206 0 0 1 1.4549 0.7187M4.1195 0.7963A1.6880 0.1877 0 0 1 3.9526 0.7608M7.2068 0.7079A1.6880 0.1877 0 0 1 7.1401 0.7468M8.5322 0.4676A1.4463 0.1603 0 0 1 9.3451 0.6129M10.4495 0.3128A1.3333 0.1482 0 0 1 10.0876 0.3673M9.5810 0.1105A1.2143 0.1343 0 0 1 9.6001 0.1363M7.2695 0.0805A1.2143 0.1343 0 0 1 7.4549 0.0477M5.5353 0.0961A1.0913 0.1211 0 0 1 5.6251 0.0678M3.5000 0.1058A1.3333 0.1480 0 0 1 3.7566 0.1275M1.0317 0.3216A1.6883 0.1872 0 0 1 0.9750 0.2927" fill="none" vector-effect="non-scaling-stroke"/></g>
</g>
<g transform="matrix(12.9091,-13.0000,0,52.1300,1451.100,926.560)"><rect x="0" y="0" width="11" height="1.005" fill="#d9d9d9"/>
<g transform="translate(0.1,0.06)" stroke="#2a1a10" stroke-width="1"><path d="M0.9750 0.2927A1.6883 0.1872 0 0 1 1.7114 0.1117A1.6883 0.1872 0 0 1 3.5013 0.1060A1.3333 0.1480 0 0 1 4.4762 0.0291A1.3333 0.1480 0 0 1 5.6140 0.0699A1.0913 0.1211 0 0 1 6.4876 0.0034A1.0913 0.1211 0 0 1 7.4582 0.0505A1.2143 0.1343 0 0 1 8.6995 0.0077A1.2143 0.1343 0 0 1 9.5795 0.1136A1.3333 0.1482 0 0 1 10.4298 0.1921A1.3333 0.1482 0 0 1 10.4546 0.3149A1.6938 0.1878 0 0 1 10.6799 0.5002A1.6938 0.1878 0 0 1 9.3511 0.6152A1.4463 0.1603 0 0 1 8.6012 0.7544A1.4463 0.1603 0 0 1 7.1390 0.7499A1.6880 0.1877 0 0 1 5.7717 0.8812A1.6880 0.1877 0 0 1 4.1201 0.7998A1.9300 0.2148 0 0 1 2.6397 0.8236A1.9300 0.2148 0 0 1 1.4512 0.7225A1.0900 0.1206 0 0 1 0.3512 0.6571A1.0900 0.1206 0 0 1 0.5284 0.5204A1.0862 0.1211 0 0 1 0.0157 0.3903A1.0862 0.1211 0 0 1 0.9659 0.2955Z" fill="#F4A066" fill-opacity="0.45" vector-effect="non-scaling-stroke"/><path d="M1.1733 0.5332A1.0862 0.1211 0 0 1 0.5400 0.5170M1.7320 0.7109A1.0900 0.1206 0 0 1 1.4549 0.7187M4.1195 0.7963A1.6880 0.1877 0 0 1 3.9526 0.7608M7.2068 0.7079A1.6880 0.1877 0 0 1 7.1401 0.7468M8.5322 0.4676A1.4463 0.1603 0 0 1 9.3451 0.6129M10.4495 0.3128A1.3333 0.1482 0 0 1 10.0876 0.3673M9.5810 0.1105A1.2143 0.1343 0 0 1 9.6001 0.1363M7.2695 0.0805A1.2143 0.1343 0 0 1 7.4549 0.0477M5.5353 0.0961A1.0913 0.1211 0 0 1 5.6251 0.0678M3.5000 0.1058A1.3333 0.1480 0 0 1 3.7566 0.1275M1.0317 0.3216A1.6883 0.1872 0 0 1 0.9750 0.2927" fill="none" vector-effect="non-scaling-stroke"/></g>
</g>
<g transform="matrix(12.9091,-13.0000,0,52.1300,1451.100,978.690)"><rect x="0" y="0" width="11" height="1.005" fill="#d9d9d9"/>
<g transform="translate(0.1,0.06)" stroke="#2a1a10" stroke-width="1"><path d="M0.9750 0.2927A1.6883 0.1872 0 0 1 1.7114 0.1117A1.6883 0.1872 0 0 1 3.5013 0.1060A1.3333 0.1480 0 0 1 4.4762 0.0291A1.3333 0.1480 0 0 1 5.6140 0.0699A1.0913 0.1211 0 0 1 6.4876 0.0034A1.0913 0.1211 0 0 1 7.4582 0.0505A1.2143 0.1343 0 0 1 8.6995 0.0077A1.2143 0.1343 0 0 1 9.5795 0.1136A1.3333 0.1482 0 0 1 10.4298 0.1921A1.3333 0.1482 0 0 1 10.4546 0.3149A1.6938 0.1878 0 0 1 10.6799 0.5002A1.6938 0.1878 0 0 1 9.3511 0.6152A1.4463 0.1603 0 0 1 8.6012 0.7544A1.4463 0.1603 0 0 1 7.1390 0.7499A1.6880 0.1877 0 0 1 5.7717 0.8812A1.6880 0.1877 0 0 1 4.1201 0.7998A1.9300 0.2148 0 0 1 2.6397 0.8236A1.9300 0.2148 0 0 1 1.4512 0.7225A1.0900 0.1206 0 0 1 0.3512 0.6571A1.0900 0.1206 0 0 1 0.5284 0.5204A1.0862 0.1211 0 0 1 0.0157 0.3903A1.0862 0.1211 0 0 1 0.9659 0.2955Z" fill="#F4A066" fill-opacity="0.45" vector-effect="non-scaling-stroke"/><path d="M1.1733 0.5332A1.0862 0.1211 0 0 1 0.5400 0.5170M1.7320 0.7109A1.0900 0.1206 0 0 1 1.4549 0.7187M4.1195 0.7963A1.6880 0.1877 0 0 1 3.9526 0.7608M7.2068 0.7079A1.6880 0.1877 0 0 1 7.1401 0.7468M8.5322 0.4676A1.4463 0.1603 0 0 1 9.3451 0.6129M10.4495 0.3128A1.3333 0.1482 0 0 1 10.0876 0.3673M9.5810 0.1105A1.2143 0.1343 0 0 1 9.6001 0.1363M7.2695 0.0805A1.2143 0.1343 0 0 1 7.4549 0.0477M5.5353 0.0961A1.0913 0.1211 0 0 1 5.6251 0.0678M3.5000 0.1058A1.3333 0.1480 0 0 1 3.7566 0.1275M1.0317 0.3216A1.6883 0.1872 0 0 1 0.9750 0.2927" fill="none" vector-effect="non-scaling-stroke"/></g>
</g>
<g transform="matrix(12.9091,-13.0000,0,52.1300,1451.100,1030.820)"><rect x="0" y="0" width="11" height="1.005" fill="#bfbfbf"/>
<g transform="translate(0.1,0.06)" stroke="#2a1a10" stroke-width="1"><path d="M0.9750 0.2927A1.6883 0.1872 0 0 1 1.7114 0.1117A1.6883 0.1872 0 0 1 3.5013 0.1060A1.3333 0.1480 0 0 1 4.4762 0.0291A1.3333 0.1480 0 0 1 5.6140 0.0699A1.0913 0.1211 0 0 1 6.4876 0.0034A1.0913 0.1211 0 0 1 7.4582 0.0505A1.2143 0.1343 0 0 1 8.6995 0.0077A1.2143 0.1343 0 0 1 9.5795 0.1136A1.3333 0.1482 0 0 1 10.4298 0.1921A1.3333 0.1482 0 0 1 10.4546 0.3149A1.6938 0.1878 0 0 1 10.6799 0.5002A1.6938 0.1878 0 0 1 9.3511 0.6152A1.4463 0.1603 0 0 1 8.6012 0.7544A1.4463 0.1603 0 0 1 7.1390 0.7499A1.6880 0.1877 0 0 1 5.7717 0.8812A1.6880 0.1877 0 0 1 4.1201 0.7998A1.9300 0.2148 0 0 1 2.6397 0.8236A1.9300 0.2148 0 0 1 1.4512 0.7225A1.0900 0.1206 0 0 1 0.3512 0.6571A1.0900 0.1206 0 0 1 0.5284 0.5204A1.0862 0.1211 0 0 1 0.0157 0.3903A1.0862 0.1211 0 0 1 0.9659 0.2955Z" fill="#F4A066" fill-opacity="0.45" vector-effect="non-scaling-stroke"/><path d="M1.1733 0.5332A1.0862 0.1211 0 0 1 0.5400 0.5170M1.7320 0.7109A1.0900 0.1206 0 0 1 1.4549 0.7187M4.1195 0.7963A1.6880 0.1877 0 0 1 3.9526 0.7608M7.2068 0.7079A1.6880 0.1877 0 0 1 7.1401 0.7468M8.5322 0.4676A1.4463 0.1603 0 0 1 9.3451 0.6129M10.4495 0.3128A1.3333 0.1482 0 0 1 10.0876 0.3673M9.5810 0.1105A1.2143 0.1343 0 0 1 9.6001 0.1363M7.2695 0.0805A1.2143 0.1343 0 0 1 7.4549 0.0477M5.5353 0.0961A1.0913 0.1211 0 0 1 5.6251 0.0678M3.5000 0.1058A1.3333 0.1480 0 0 1 3.7566 0.1275M1.0317 0.3216A1.6883 0.1872 0 0 1 0.9750 0.2927" fill="none" vector-effect="non-scaling-stroke"/></g>
</g>
<g transform="matrix(12.9091,-13.0000,0,52.1300,1451.100,1082.950)"><rect x="0" y="0" width="11" height="1.005" fill="#a6a6a6"/>
<g transform="translate(0.1,0.06)" stroke="#2a1a10" stroke-width="1"><path d="M0.9750 0.2927A1.6883 0.1872 0 0 1 1.7114 0.1117A1.6883 0.1872 0 0 1 3.5013 0.1060A1.3333 0.1480 0 0 1 4.4762 0.0291A1.3333 0.1480 0 0 1 5.6140 0.0699A1.0913 0.1211 0 0 1 6.4876 0.0034A1.0913 0.1211 0 0 1 7.4582 0.0505A1.2143 0.1343 0 0 1 8.6995 0.0077A1.2143 0.1343 0 0 1 9.5795 0.1136A1.3333 0.1482 0 0 1 10.4298 0.1921A1.3333 0.1482 0 0 1 10.4546 0.3149A1.6938 0.1878 0 0 1 10.6799 0.5002A1.6938 0.1878 0 0 1 9.3511 0.6152A1.4463 0.1603 0 0 1 8.6012 0.7544A1.4463 0.1603 0 0 1 7.1390 0.7499A1.6880 0.1877 0 0 1 5.7717 0.8812A1.6880 0.1877 0 0 1 4.1201 0.7998A1.9300 0.2148 0 0 1 2.6397 0.8236A1.9300 0.2148 0 0 1 1.4512 0.7225A1.0900 0.1206 0 0 1 0.3512 0.6571A1.0900 0.1206 0 0 1 0.5284 0.5204A1.0862 0.1211 0 0 1 0.0157 0.3903A1.0862 0.1211 0 0 1 0.9659 0.2955Z" fill="#F4A066" fill-opacity="0.45" vector-effect="non-scaling-stroke"/><path d="M1.1733 0.5332A1.0862 0.1211 0 0 1 0.5400 0.5170M1.7320 0.7109A1.0900 0.1206 0 0 1 1.4549 0.7187M4.1195 0.7963A1.6880 0.1877 0 0 1 3.9526 0.7608M7.2068 0.7079A1.6880 0.1877 0 0 1 7.1401 0.7468M8.5322 0.4676A1.4463 0.1603 0 0 1 9.3451 0.6129M10.4495 0.3128A1.3333 0.1482 0 0 1 10.0876 0.3673M9.5810 0.1105A1.2143 0.1343 0 0 1 9.6001 0.1363M7.2695 0.0805A1.2143 0.1343 0 0 1 7.4549 0.0477M5.5353 0.0961A1.0913 0.1211 0 0 1 5.6251 0.0678M3.5000 0.1058A1.3333 0.1480 0 0 1 3.7566 0.1275M1.0317 0.3216A1.6883 0.1872 0 0 1 0.9750 0.2927" fill="none" vector-effect="non-scaling-stroke"/></g>
</g>
<line x1="1451.1" y1="822.3" x2="1451.1" y2="1135.1" stroke="#111" stroke-width="1.0"/>
<line x1="1464.0" y1="809.3" x2="1464.0" y2="1122.1" stroke="#111" stroke-width="1.0"/>
<line x1="1476.9" y1="796.3" x2="1476.9" y2="1109.1" stroke="#111" stroke-width="1.0"/>
<line x1="1489.8" y1="783.3" x2="1489.8" y2="1096.1" stroke="#111" stroke-width="1.0"/>
<line x1="1502.7" y1="770.3" x2="1502.7" y2="1083.1" stroke="#111" stroke-width="1.0"/>
<line x1="1515.6" y1="757.3" x2="1515.6" y2="1070.1" stroke="#111" stroke-width="1.0"/>
<line x1="1528.6" y1="744.3" x2="1528.6" y2="1057.1" stroke="#111" stroke-width="1.0"/>
<line x1="1541.5" y1="731.3" x2="1541.5" y2="1044.1" stroke="#111" stroke-width="1.0"/>
<line x1="1554.4" y1="718.3" x2="1554.4" y2="1031.1" stroke="#111" stroke-width="1.0"/>
<line x1="1567.3" y1="705.3" x2="1567.3" y2="1018.1" stroke="#111" stroke-width="1.0"/>
<line x1="1580.2" y1="692.3" x2="1580.2" y2="1005.1" stroke="#111" stroke-width="1.0"/>
<line x1="1593.1" y1="679.3" x2="1593.1" y2="992.1" stroke="#111" stroke-width="1.0"/>
<line x1="1451.1" y1="822.3" x2="1593.1" y2="679.3" stroke="#111" stroke-width="1.0"/>
<line x1="1451.1" y1="874.4" x2="1593.1" y2="731.4" stroke="#111" stroke-width="1.0"/>
<line x1="1451.1" y1="926.6" x2="1593.1" y2="783.6" stroke="#111" stroke-width="1.0"/>
<line x1="1451.1" y1="978.7" x2="1593.1" y2="835.7" stroke="#111" stroke-width="1.0"/>
<line x1="1451.1" y1="1030.8" x2="1593.1" y2="887.8" stroke="#111" stroke-width="1.0"/>
<line x1="1451.1" y1="1083.0" x2="1593.1" y2="940.0" stroke="#111" stroke-width="1.0"/>
<line x1="1451.1" y1="1135.1" x2="1593.1" y2="992.1" stroke="#111" stroke-width="1.0"/>
<rect x="929.80" y="822.30" width="52.43" height="312.78" fill="#a6a6a6"/>
<rect x="981.93" y="822.30" width="52.43" height="312.78" fill="#bfbfbf"/>
<rect x="1034.06" y="822.30" width="52.43" height="312.78" fill="#d9d9d9"/>
<rect x="1086.19" y="822.30" width="52.43" height="312.78" fill="#d9d9d9"/>
<rect x="1138.32" y="822.30" width="52.43" height="312.78" fill="#bfbfbf"/>
<rect x="1190.45" y="822.30" width="52.43" height="312.78" fill="#a6a6a6"/>
<rect x="1242.58" y="822.30" width="52.43" height="312.78" fill="#fff"/>
<rect x="1294.71" y="822.30" width="52.43" height="312.78" fill="#fff"/>
<rect x="1346.84" y="822.30" width="52.43" height="312.78" fill="#fff"/>
<rect x="1398.97" y="822.30" width="52.43" height="312.78" fill="#fff"/>
<line x1="929.8" y1="822.3" x2="929.8" y2="1135.1" stroke="#111" stroke-width="1.0"/>
<line x1="981.9" y1="822.3" x2="981.9" y2="1135.1" stroke="#111" stroke-width="1.0"/>
<line x1="1034.1" y1="822.3" x2="1034.1" y2="1135.1" stroke="#111" stroke-width="1.0"/>
<line x1="1086.2" y1="822.3" x2="1086.2" y2="1135.1" stroke="#111" stroke-width="1.0"/>
<line x1="1138.3" y1="822.3" x2="1138.3" y2="1135.1" stroke="#111" stroke-width="1.0"/>
<line x1="1190.5" y1="822.3" x2="1190.5" y2="1135.1" stroke="#111" stroke-width="1.0"/>
<line x1="1242.6" y1="822.3" x2="1242.6" y2="1135.1" stroke="#111" stroke-width="1.0"/>
<line x1="1294.7" y1="822.3" x2="1294.7" y2="1135.1" stroke="#111" stroke-width="1.0"/>
<line x1="1346.8" y1="822.3" x2="1346.8" y2="1135.1" stroke="#111" stroke-width="1.0"/>
<line x1="1399.0" y1="822.3" x2="1399.0" y2="1135.1" stroke="#111" stroke-width="1.0"/>
<line x1="1451.1" y1="822.3" x2="1451.1" y2="1135.1" stroke="#111" stroke-width="1.0"/>
<line x1="929.8" y1="822.3" x2="1451.1" y2="822.3" stroke="#111" stroke-width="1.0"/>
<line x1="929.8" y1="874.4" x2="1451.1" y2="874.4" stroke="#111" stroke-width="1.0"/>
<line x1="929.8" y1="926.6" x2="1451.1" y2="926.6" stroke="#111" stroke-width="1.0"/>
<line x1="929.8" y1="978.7" x2="1451.1" y2="978.7" stroke="#111" stroke-width="1.0"/>
<line x1="929.8" y1="1030.8" x2="1451.1" y2="1030.8" stroke="#111" stroke-width="1.0"/>
<line x1="929.8" y1="1083.0" x2="1451.1" y2="1083.0" stroke="#111" stroke-width="1.0"/>
<line x1="929.8" y1="1135.1" x2="1451.1" y2="1135.1" stroke="#111" stroke-width="1.0"/>
<g transform="translate(957.80,893.20)" stroke="#000" stroke-width="1" stroke-linejoin="round" stroke-linecap="round"><path d="M41.37 58.61A71.64 37.48 0 0 1 72.62 22.37A71.64 37.48 0 0 1 148.58 21.22A56.58 29.64 0 0 1 189.95 5.83A56.58 29.64 0 0 1 238.23 14.00A46.31 24.25 0 0 1 275.30 0.68A46.31 24.25 0 0 1 316.49 10.12A51.53 26.90 0 0 1 369.17 1.53A51.53 26.90 0 0 1 406.51 22.74A56.58 29.66 0 0 1 442.59 38.46A56.58 29.66 0 0 1 443.64 63.06A71.87 37.61 0 0 1 453.20 100.15A71.87 37.61 0 0 1 396.82 123.19A61.37 32.09 0 0 1 364.99 151.05A61.37 32.09 0 0 1 302.94 150.15A71.63 37.59 0 0 1 244.92 176.44A71.63 37.59 0 0 1 174.84 160.15A81.90 43.00 0 0 1 112.02 164.91A81.90 43.00 0 0 1 61.58 144.67A46.25 24.14 0 0 1 14.90 131.58A46.25 24.14 0 0 1 22.42 104.20A46.10 24.25 0 0 1 0.67 78.14A46.10 24.25 0 0 1 40.99 59.16Z" fill="#F4A066" fill-opacity="0.42"/><path d="M49.79 106.77A46.10 24.25 0 0 1 22.91 103.52M73.50 142.34A46.25 24.14 0 0 1 61.74 143.90M174.81 159.44A71.63 37.59 0 0 1 167.73 152.34M305.82 141.74A71.63 37.59 0 0 1 302.99 149.53M362.07 93.62A61.37 32.09 0 0 1 396.56 122.73M443.43 62.62A56.58 29.66 0 0 1 428.07 73.54M406.57 22.13A51.53 26.90 0 0 1 407.38 27.29M308.48 16.12A51.53 26.90 0 0 1 316.35 9.55M234.89 19.25A46.31 24.25 0 0 1 238.70 13.58M148.52 21.18A56.58 29.64 0 0 1 159.41 25.53M43.78 64.40A71.64 37.48 0 0 1 41.38 58.61" fill="none"/></g>
<text x="1181.8" y="991.2" font-size="29.7" text-anchor="middle">Sample</text>
<!-- panel d -->
<text x="0.8" y="1294.3" font-size="43" font-weight="bold">d</text>
<text x="902.0" y="1292.8" font-size="29.7" font-weight="bold" text-anchor="middle" fill="#C00000">Decoded</text>
<text transform="translate(23.9,1464.6) rotate(-90)" font-size="29.7" text-anchor="middle">Sum</text>
<path d="M50.5 1353.7 V1574.5 M35.6 1560.5 L50.5 1575.4 L65.4 1560.5" fill="none" stroke="#000" stroke-width="7" stroke-linecap="round" stroke-linejoin="round"/>
<path d="M97.4 1354.0 l9.6 -9.4 h37.0 l-9.6 9.4 Z" fill="#fff" stroke="#111" stroke-width="1.1" stroke-linejoin="round"/>
<path d="M134.4 1354.0 l9.6 -9.4 h37.0 l-9.6 9.4 Z" fill="#fff" stroke="#111" stroke-width="1.1" stroke-linejoin="round"/>
<path d="M171.4 1354.0 l9.6 -9.4 h37.0 l-9.6 9.4 Z" fill="#fff" stroke="#111" stroke-width="1.1" stroke-linejoin="round"/>
<path d="M208.4 1354.0 l9.6 -9.4 h37.0 l-9.6 9.4 Z" fill="#fff" stroke="#111" stroke-width="1.1" stroke-linejoin="round"/>
<path d="M245.4 1354.0 l9.6 -9.4 h37.0 l-9.6 9.4 Z" fill="#fff" stroke="#111" stroke-width="1.1" stroke-linejoin="round"/>
<path d="M282.4 1354.0 l9.6 -9.4 h37.0 l-9.6 9.4 Z" fill="#fff" stroke="#111" stroke-width="1.1" stroke-linejoin="round"/>
<path d="M319.4 1354.0 l9.6 -9.4 v37.0 l-9.6 9.4 Z" fill="#e6e6e6" stroke="#111" stroke-width="1.1" stroke-linejoin="round"/>
<path d="M319.4 1391.0 l9.6 -9.4 v37.0 l-9.6 9.4 Z" fill="#e6e6e6" stroke="#111" stroke-width="1.1" stroke-linejoin="round"/>
<path d="M319.4 1428.0 l9.6 -9.4 v37.0 l-9.6 9.4 Z" fill="#b3b3b3" stroke="#111" stroke-width="1.1" stroke-linejoin="round"/>
<path d="M319.4 1465.0 l9.6 -9.4 v37.0 l-9.6 9.4 Z" fill="#e6e6e6" stroke="#111" stroke-width="1.1" stroke-linejoin="round"/>
<path d="M319.4 1502.0 l9.6 -9.4 v37.0 l-9.6 9.4 Z" fill="#e6e6e6" stroke="#111" stroke-width="1.1" stroke-linejoin="round"/>
<path d="M319.4 1539.0 l9.6 -9.4 v37.0 l-9.6 9.4 Z" fill="#e6e6e6" stroke="#111" stroke-width="1.1" stroke-linejoin="round"/>
<rect x="97.4" y="1354.0" width="37.0" height="37.0" fill="#fff" stroke="#111" stroke-width="1.1"/>
<rect x="134.4" y="1354.0" width="37.0" height="37.0" fill="#fff" stroke="#111" stroke-width="1.1"/>
<rect x="171.4" y="1354.0" width="37.0" height="37.0" fill="#fff" stroke="#111" stroke-width="1.1"/>
<rect x="208.4" y="1354.0" width="37.0" height="37.0" fill="#fff" stroke="#111" stroke-width="1.1"/>
<rect x="245.4" y="1354.0" width="37.0" height="37.0" fill="#fff" stroke="#111" stroke-width="1.1"/>
<rect x="282.4" y="1354.0" width="37.0" height="37.0" fill="#fff" stroke="#111" stroke-width="1.1"/>
<rect x="97.4" y="1391.0" width="37.0" height="37.0" fill="#fff" stroke="#111" stroke-width="1.1"/>
<rect x="134.4" y="1391.0" width="37.0" height="37.0" fill="#fff" stroke="#111" stroke-width="1.1"/>
<rect x="171.4" y="1391.0" width="37.0" height="37.0" fill="#fff" stroke="#111" stroke-width="1.1"/>
<rect x="208.4" y="1391.0" width="37.0" height="37.0" fill="#fff" stroke="#111" stroke-width="1.1"/>
<rect x="245.4" y="1391.0" width="37.0" height="37.0" fill="#fff" stroke="#111" stroke-width="1.1"/>
<rect x="282.4" y="1391.0" width="37.0" height="37.0" fill="#fff" stroke="#111" stroke-width="1.1"/>
<rect x="97.4" y="1428.0" width="37.0" height="37.0" fill="#d9d9d9" stroke="#111" stroke-width="1.1"/>
<rect x="134.4" y="1428.0" width="37.0" height="37.0" fill="#d9d9d9" stroke="#111" stroke-width="1.1"/>
<rect x="171.4" y="1428.0" width="37.0" height="37.0" fill="#d9d9d9" stroke="#111" stroke-width="1.1"/>
<rect x="208.4" y="1428.0" width="37.0" height="37.0" fill="#d9d9d9" stroke="#111" stroke-width="1.1"/>
<rect x="245.4" y="1428.0" width="37.0" height="37.0" fill="#d9d9d9" stroke="#111" stroke-width="1.1"/>
<rect x="282.4" y="1428.0" width="37.0" height="37.0" fill="#d9d9d9" stroke="#111" stroke-width="1.1"/>
<rect x="97.4" y="1465.0" width="37.0" height="37.0" fill="#fff" stroke="#111" stroke-width="1.1"/>
<rect x="134.4" y="1465.0" width="37.0" height="37.0" fill="#fff" stroke="#111" stroke-width="1.1"/>
<rect x="171.4" y="1465.0" width="37.0" height="37.0" fill="#fff" stroke="#111" stroke-width="1.1"/>
<rect x="208.4" y="1465.0" width="37.0" height="37.0" fill="#fff" stroke="#111" stroke-width="1.1"/>
<rect x="245.4" y="1465.0" width="37.0" height="37.0" fill="#fff" stroke="#111" stroke-width="1.1"/>
<rect x="282.4" y="1465.0" width="37.0" height="37.0" fill="#fff" stroke="#111" stroke-width="1.1"/>
<rect x="97.4" y="1502.0" width="37.0" height="37.0" fill="#fff" stroke="#111" stroke-width="1.1"/>
<rect x="134.4" y="1502.0" width="37.0" height="37.0" fill="#fff" stroke="#111" stroke-width="1.1"/>
<rect x="171.4" y="1502.0" width="37.0" height="37.0" fill="#fff" stroke="#111" stroke-width="1.1"/>
<rect x="208.4" y="1502.0" width="37.0" height="37.0" fill="#fff" stroke="#111" stroke-width="1.1"/>
<rect x="245.4" y="1502.0" width="37.0" height="37.0" fill="#fff" stroke="#111" stroke-width="1.1"/>
<rect x="282.4" y="1502.0" width="37.0" height="37.0" fill="#fff" stroke="#111" stroke-width="1.1"/>
<rect x="97.4" y="1539.0" width="37.0" height="37.0" fill="#fff" stroke="#111" stroke-width="1.1"/>
<rect x="134.4" y="1539.0" width="37.0" height="37.0" fill="#fff" stroke="#111" stroke-width="1.1"/>
<rect x="171.4" y="1539.0" width="37.0" height="37.0" fill="#fff" stroke="#111" stroke-width="1.1"/>
<rect x="208.4" y="1539.0" width="37.0" height="37.0" fill="#fff" stroke="#111" stroke-width="1.1"/>
<rect x="245.4" y="1539.0" width="37.0" height="37.0" fill="#fff" stroke="#111" stroke-width="1.1"/>
<rect x="282.4" y="1539.0" width="37.0" height="37.0" fill="#fff" stroke="#111" stroke-width="1.1"/>
<text x="118.9" y="1382.8" font-size="30.6" text-anchor="middle">0</text>
<text x="155.9" y="1382.8" font-size="30.6" text-anchor="middle">0</text>
<text x="192.9" y="1382.8" font-size="30.6" text-anchor="middle">0</text>
<text x="229.9" y="1382.8" font-size="30.6" text-anchor="middle">0</text>
<text x="266.9" y="1382.8" font-size="30.6" text-anchor="middle">0</text>
<text x="303.9" y="1382.8" font-size="30.6" text-anchor="middle">0</text>
<text x="118.9" y="1419.8" font-size="30.6" text-anchor="middle">0</text>
<text x="155.9" y="1419.8" font-size="30.6" text-anchor="middle">0</text>
<text x="192.9" y="1419.8" font-size="30.6" text-anchor="middle">0</text>
<text x="229.9" y="1419.8" font-size="30.6" text-anchor="middle">0</text>
<text x="266.9" y="1419.8" font-size="30.6" text-anchor="middle">0</text>
<text x="303.9" y="1419.8" font-size="30.6" text-anchor="middle">0</text>
<text x="118.9" y="1456.8" font-size="30.6" text-anchor="middle" fill="#FF0000">1</text>
<text x="155.9" y="1456.8" font-size="30.6" text-anchor="middle" fill="#FF0000">1</text>
<text x="192.9" y="1456.8" font-size="30.6" text-anchor="middle" fill="#FF0000">1</text>
<text x="229.9" y="1456.8" font-size="30.6" text-anchor="middle" fill="#FF0000">1</text>
<text x="266.9" y="1456.8" font-size="30.6" text-anchor="middle" fill="#FF0000">1</text>
<text x="303.9" y="1456.8" font-size="30.6" text-anchor="middle" fill="#FF0000">1</text>
<text x="118.9" y="1493.8" font-size="30.6" text-anchor="middle">0</text>
<text x="155.9" y="1493.8" font-size="30.6" text-anchor="middle">0</text>
<text x="192.9" y="1493.8" font-size="30.6" text-anchor="middle">0</text>
<text x="229.9" y="1493.8" font-size="30.6" text-anchor="middle">0</text>
<text x="266.9" y="1493.8" font-size="30.6" text-anchor="middle">0</text>
<text x="303.9" y="1493.8" font-size="30.6" text-anchor="middle">0</text>
<text x="118.9" y="1530.8" font-size="30.6" text-anchor="middle">0</text>
<text x="155.9" y="1530.8" font-size="30.6" text-anchor="middle">0</text>
<text x="192.9" y="1530.8" font-size="30.6" text-anchor="middle">0</text>
<text x="229.9" y="1530.8" font-size="30.6" text-anchor="middle">0</text>
<text x="266.9" y="1530.8" font-size="30.6" text-anchor="middle">0</text>
<text x="303.9" y="1530.8" font-size="30.6" text-anchor="middle">0</text>
<text x="118.9" y="1567.8" font-size="30.6" text-anchor="middle">0</text>
<text x="155.9" y="1567.8" font-size="30.6" text-anchor="middle">0</text>
<text x="192.9" y="1567.8" font-size="30.6" text-anchor="middle">0</text>
<text x="229.9" y="1567.8" font-size="30.6" text-anchor="middle">0</text>
<text x="266.9" y="1567.8" font-size="30.6" text-anchor="middle">0</text>
<text x="303.9" y="1567.8" font-size="30.6" text-anchor="middle">0</text>
<path d="M671.6 1353.6 l9.6 -9.4 h37.0 l-9.6 9.4 Z" fill="#cfcfcf" stroke="#111" stroke-width="1.1" stroke-linejoin="round"/>
<path d="M708.6 1353.6 l9.6 -9.4 h37.0 l-9.6 9.4 Z" fill="#fff" stroke="#111" stroke-width="1.1" stroke-linejoin="round"/>
<path d="M745.6 1353.6 l9.6 -9.4 h37.0 l-9.6 9.4 Z" fill="#fff" stroke="#111" stroke-width="1.1" stroke-linejoin="round"/>
<path d="M782.6 1353.6 l9.6 -9.4 h37.0 l-9.6 9.4 Z" fill="#fff" stroke="#111" stroke-width="1.1" stroke-linejoin="round"/>
<path d="M819.6 1353.6 l9.6 -9.4 h37.0 l-9.6 9.4 Z" fill="#fff" stroke="#111" stroke-width="1.1" stroke-linejoin="round"/>
<path d="M856.6 1353.6 l9.6 -9.4 h37.0 l-9.6 9.4 Z" fill="#fff" stroke="#111" stroke-width="1.1" stroke-linejoin="round"/>
<path d="M893.6 1353.6 l9.6 -9.4 v37.0 l-9.6 9.4 Z" fill="#e6e6e6" stroke="#111" stroke-width="1.1" stroke-linejoin="round"/>
<path d="M893.6 1390.6 l9.6 -9.4 v37.0 l-9.6 9.4 Z" fill="#e6e6e6" stroke="#111" stroke-width="1.1" stroke-linejoin="round"/>
<path d="M893.6 1427.6 l9.6 -9.4 v37.0 l-9.6 9.4 Z" fill="#e6e6e6" stroke="#111" stroke-width="1.1" stroke-linejoin="round"/>
<path d="M893.6 1464.6 l9.6 -9.4 v37.0 l-9.6 9.4 Z" fill="#e6e6e6" stroke="#111" stroke-width="1.1" stroke-linejoin="round"/>
<path d="M893.6 1501.6 l9.6 -9.4 v37.0 l-9.6 9.4 Z" fill="#e6e6e6" stroke="#111" stroke-width="1.1" stroke-linejoin="round"/>
<path d="M893.6 1538.6 l9.6 -9.4 v37.0 l-9.6 9.4 Z" fill="#808080" stroke="#111" stroke-width="1.1" stroke-linejoin="round"/>
<rect x="671.6" y="1353.6" width="37.0" height="37.0" fill="#a6a6a6" stroke="#111" stroke-width="1.1"/>
<rect x="708.6" y="1353.6" width="37.0" height="37.0" fill="#fff" stroke="#111" stroke-width="1.1"/>
<rect x="745.6" y="1353.6" width="37.0" height="37.0" fill="#fff" stroke="#111" stroke-width="1.1"/>
<rect x="782.6" y="1353.6" width="37.0" height="37.0" fill="#fff" stroke="#111" stroke-width="1.1"/>
<rect x="819.6" y="1353.6" width="37.0" height="37.0" fill="#fff" stroke="#111" stroke-width="1.1"/>
<rect x="856.6" y="1353.6" width="37.0" height="37.0" fill="#fff" stroke="#111" stroke-width="1.1"/>
<rect x="671.6" y="1390.6" width="37.0" height="37.0" fill="#fff" stroke="#111" stroke-width="1.1"/>
<rect x="708.6" y="1390.6" width="37.0" height="37.0" fill="#bfbfbf" stroke="#111" stroke-width="1.1"/>
<rect x="745.6" y="1390.6" width="37.0" height="37.0" fill="#fff" stroke="#111" stroke-width="1.1"/>
<rect x="782.6" y="1390.6" width="37.0" height="37.0" fill="#fff" stroke="#111" stroke-width="1.1"/>
<rect x="819.6" y="1390.6" width="37.0" height="37.0" fill="#fff" stroke="#111" stroke-width="1.1"/>
<rect x="856.6" y="1390.6" width="37.0" height="37.0" fill="#fff" stroke="#111" stroke-width="1.1"/>
<rect x="671.6" y="1427.6" width="37.0" height="37.0" fill="#fff" stroke="#111" stroke-width="1.1"/>
<rect x="708.6" y="1427.6" width="37.0" height="37.0" fill="#fff" stroke="#111" stroke-width="1.1"/>
<rect x="745.6" y="1427.6" width="37.0" height="37.0" fill="#d9d9d9" stroke="#111" stroke-width="1.1"/>
<rect x="782.6" y="1427.6" width="37.0" height="37.0" fill="#fff" stroke="#111" stroke-width="1.1"/>
<rect x="819.6" y="1427.6" width="37.0" height="37.0" fill="#fff" stroke="#111" stroke-width="1.1"/>
<rect x="856.6" y="1427.6" width="37.0" height="37.0" fill="#fff" stroke="#111" stroke-width="1.1"/>
<rect x="671.6" y="1464.6" width="37.0" height="37.0" fill="#fff" stroke="#111" stroke-width="1.1"/>
<rect x="708.6" y="1464.6" width="37.0" height="37.0" fill="#fff" stroke="#111" stroke-width="1.1"/>
<rect x="745.6" y="1464.6" width="37.0" height="37.0" fill="#fff" stroke="#111" stroke-width="1.1"/>
<rect x="782.6" y="1464.6" width="37.0" height="37.0" fill="#d9d9d9" stroke="#111" stroke-width="1.1"/>
<rect x="819.6" y="1464.6" width="37.0" height="37.0" fill="#fff" stroke="#111" stroke-width="1.1"/>
<rect x="856.6" y="1464.6" width="37.0" height="37.0" fill="#fff" stroke="#111" stroke-width="1.1"/>
<rect x="671.6" y="1501.6" width="37.0" height="37.0" fill="#fff" stroke="#111" stroke-width="1.1"/>
<rect x="708.6" y="1501.6" width="37.0" height="37.0" fill="#fff" stroke="#111" stroke-width="1.1"/>
<rect x="745.6" y="1501.6" width="37.0" height="37.0" fill="#fff" stroke="#111" stroke-width="1.1"/>
<rect x="782.6" y="1501.6" width="37.0" height="37.0" fill="#fff" stroke="#111" stroke-width="1.1"/>
<rect x="819.6" y="1501.6" width="37.0" height="37.0" fill="#bfbfbf" stroke="#111" stroke-width="1.1"/>
<rect x="856.6" y="1501.6" width="37.0" height="37.0" fill="#fff" stroke="#111" stroke-width="1.1"/>
<rect x="671.6" y="1538.6" width="37.0" height="37.0" fill="#fff" stroke="#111" stroke-width="1.1"/>
<rect x="708.6" y="1538.6" width="37.0" height="37.0" fill="#fff" stroke="#111" stroke-width="1.1"/>
<rect x="745.6" y="1538.6" width="37.0" height="37.0" fill="#fff" stroke="#111" stroke-width="1.1"/>
<rect x="782.6" y="1538.6" width="37.0" height="37.0" fill="#fff" stroke="#111" stroke-width="1.1"/>
<rect x="819.6" y="1538.6" width="37.0" height="37.0" fill="#fff" stroke="#111" stroke-width="1.1"/>
<rect x="856.6" y="1538.6" width="37.0" height="37.0" fill="#a6a6a6" stroke="#111" stroke-width="1.1"/>
<text x="693.1" y="1382.4" font-size="30.6" text-anchor="middle" fill="#FF0000">1</text>
<text x="730.1" y="1382.4" font-size="30.6" text-anchor="middle">0</text>
<text x="767.1" y="1382.4" font-size="30.6" text-anchor="middle">0</text>
<text x="804.1" y="1382.4" font-size="30.6" text-anchor="middle">0</text>
<text x="841.1" y="1382.4" font-size="30.6" text-anchor="middle">0</text>
<text x="878.1" y="1382.4" font-size="30.6" text-anchor="middle">0</text>
<text x="693.1" y="1419.4" font-size="30.6" text-anchor="middle">0</text>
<text x="730.1" y="1419.4" font-size="30.6" text-anchor="middle" fill="#FF0000">1</text>
<text x="767.1" y="1419.4" font-size="30.6" text-anchor="middle">0</text>
<text x="804.1" y="1419.4" font-size="30.6" text-anchor="middle">0</text>
<text x="841.1" y="1419.4" font-size="30.6" text-anchor="middle">0</text>
<text x="878.1" y="1419.4" font-size="30.6" text-anchor="middle">0</text>
<text x="693.1" y="1456.4" font-size="30.6" text-anchor="middle">0</text>
<text x="730.1" y="1456.4" font-size="30.6" text-anchor="middle">0</text>
<text x="767.1" y="1456.4" font-size="30.6" text-anchor="middle" fill="#FF0000">1</text>
<text x="804.1" y="1456.4" font-size="30.6" text-anchor="middle">0</text>
<text x="841.1" y="1456.4" font-size="30.6" text-anchor="middle">0</text>
<text x="878.1" y="1456.4" font-size="30.6" text-anchor="middle">0</text>
<text x="693.1" y="1493.4" font-size="30.6" text-anchor="middle">0</text>
<text x="730.1" y="1493.4" font-size="30.6" text-anchor="middle">0</text>
<text x="767.1" y="1493.4" font-size="30.6" text-anchor="middle">0</text>
<text x="804.1" y="1493.4" font-size="30.6" text-anchor="middle" fill="#FF0000">1</text>
<text x="841.1" y="1493.4" font-size="30.6" text-anchor="middle">0</text>
<text x="878.1" y="1493.4" font-size="30.6" text-anchor="middle">0</text>
<text x="693.1" y="1530.4" font-size="30.6" text-anchor="middle">0</text>
<text x="730.1" y="1530.4" font-size="30.6" text-anchor="middle">0</text>
<text x="767.1" y="1530.4" font-size="30.6" text-anchor="middle">0</text>
<text x="804.1" y="1530.4" font-size="30.6" text-anchor="middle">0</text>
<text x="841.1" y="1530.4" font-size="30.6" text-anchor="middle" fill="#FF0000">1</text>
<text x="878.1" y="1530.4" font-size="30.6" text-anchor="middle">0</text>
<text x="693.1" y="1567.4" font-size="30.6" text-anchor="middle">0</text>
<text x="730.1" y="1567.4" font-size="30.6" text-anchor="middle">0</text>
<text x="767.1" y="1567.4" font-size="30.6" text-anchor="middle">0</text>
<text x="804.1" y="1567.4" font-size="30.6" text-anchor="middle">0</text>
<text x="841.1" y="1567.4" font-size="30.6" text-anchor="middle">0</text>
<text x="878.1" y="1567.4" font-size="30.6" text-anchor="middle" fill="#FF0000">1</text>
<path d="M1228.5 1353.8 l9.6 -9.4 h37.0 l-9.6 9.4 Z" fill="#cfcfcf" stroke="#111" stroke-width="1.1" stroke-linejoin="round"/>
<path d="M1265.5 1353.8 l9.6 -9.4 h37.0 l-9.6 9.4 Z" fill="#cfcfcf" stroke="#111" stroke-width="1.1" stroke-linejoin="round"/>
<path d="M1302.5 1353.8 l9.6 -9.4 h37.0 l-9.6 9.4 Z" fill="#cfcfcf" stroke="#111" stroke-width="1.1" stroke-linejoin="round"/>
<path d="M1339.5 1353.8 l9.6 -9.4 h37.0 l-9.6 9.4 Z" fill="#cfcfcf" stroke="#111" stroke-width="1.1" stroke-linejoin="round"/>
<path d="M1376.5 1353.8 l9.6 -9.4 h37.0 l-9.6 9.4 Z" fill="#cfcfcf" stroke="#111" stroke-width="1.1" stroke-linejoin="round"/>
<path d="M1413.5 1353.8 l9.6 -9.4 h37.0 l-9.6 9.4 Z" fill="#cfcfcf" stroke="#111" stroke-width="1.1" stroke-linejoin="round"/>
<path d="M1450.5 1353.8 l9.6 -9.4 v37.0 l-9.6 9.4 Z" fill="#808080" stroke="#111" stroke-width="1.1" stroke-linejoin="round"/>
<path d="M1450.5 1390.8 l9.6 -9.4 v37.0 l-9.6 9.4 Z" fill="#999" stroke="#111" stroke-width="1.1" stroke-linejoin="round"/>
<path d="M1450.5 1427.8 l9.6 -9.4 v37.0 l-9.6 9.4 Z" fill="#b3b3b3" stroke="#111" stroke-width="1.1" stroke-linejoin="round"/>
<path d="M1450.5 1464.8 l9.6 -9.4 v37.0 l-9.6 9.4 Z" fill="#b3b3b3" stroke="#111" stroke-width="1.1" stroke-linejoin="round"/>
<path d="M1450.5 1501.8 l9.6 -9.4 v37.0 l-9.6 9.4 Z" fill="#999" stroke="#111" stroke-width="1.1" stroke-linejoin="round"/>
<path d="M1450.5 1538.8 l9.6 -9.4 v37.0 l-9.6 9.4 Z" fill="#808080" stroke="#111" stroke-width="1.1" stroke-linejoin="round"/>
<rect x="1228.5" y="1353.8" width="37.0" height="37.0" fill="#a6a6a6" stroke="#111" stroke-width="1.1"/>
<rect x="1265.5" y="1353.8" width="37.0" height="37.0" fill="#a6a6a6" stroke="#111" stroke-width="1.1"/>
<rect x="1302.5" y="1353.8" width="37.0" height="37.0" fill="#a6a6a6" stroke="#111" stroke-width="1.1"/>
<rect x="1339.5" y="1353.8" width="37.0" height="37.0" fill="#a6a6a6" stroke="#111" stroke-width="1.1"/>
<rect x="1376.5" y="1353.8" width="37.0" height="37.0" fill="#a6a6a6" stroke="#111" stroke-width="1.1"/>
<rect x="1413.5" y="1353.8" width="37.0" height="37.0" fill="#a6a6a6" stroke="#111" stroke-width="1.1"/>
<rect x="1228.5" y="1390.8" width="37.0" height="37.0" fill="#bfbfbf" stroke="#111" stroke-width="1.1"/>
<rect x="1265.5" y="1390.8" width="37.0" height="37.0" fill="#bfbfbf" stroke="#111" stroke-width="1.1"/>
<rect x="1302.5" y="1390.8" width="37.0" height="37.0" fill="#bfbfbf" stroke="#111" stroke-width="1.1"/>
<rect x="1339.5" y="1390.8" width="37.0" height="37.0" fill="#bfbfbf" stroke="#111" stroke-width="1.1"/>
<rect x="1376.5" y="1390.8" width="37.0" height="37.0" fill="#bfbfbf" stroke="#111" stroke-width="1.1"/>
<rect x="1413.5" y="1390.8" width="37.0" height="37.0" fill="#bfbfbf" stroke="#111" stroke-width="1.1"/>
<rect x="1228.5" y="1427.8" width="37.0" height="37.0" fill="#d9d9d9" stroke="#111" stroke-width="1.1"/>
<rect x="1265.5" y="1427.8" width="37.0" height="37.0" fill="#d9d9d9" stroke="#111" stroke-width="1.1"/>
<rect x="1302.5" y="1427.8" width="37.0" height="37.0" fill="#d9d9d9" stroke="#111" stroke-width="1.1"/>
<rect x="1339.5" y="1427.8" width="37.0" height="37.0" fill="#d9d9d9" stroke="#111" stroke-width="1.1"/>
<rect x="1376.5" y="1427.8" width="37.0" height="37.0" fill="#d9d9d9" stroke="#111" stroke-width="1.1"/>
<rect x="1413.5" y="1427.8" width="37.0" height="37.0" fill="#d9d9d9" stroke="#111" stroke-width="1.1"/>
<rect x="1228.5" y="1464.8" width="37.0" height="37.0" fill="#d9d9d9" stroke="#111" stroke-width="1.1"/>
<rect x="1265.5" y="1464.8" width="37.0" height="37.0" fill="#d9d9d9" stroke="#111" stroke-width="1.1"/>
<rect x="1302.5" y="1464.8" width="37.0" height="37.0" fill="#d9d9d9" stroke="#111" stroke-width="1.1"/>
<rect x="1339.5" y="1464.8" width="37.0" height="37.0" fill="#d9d9d9" stroke="#111" stroke-width="1.1"/>
<rect x="1376.5" y="1464.8" width="37.0" height="37.0" fill="#d9d9d9" stroke="#111" stroke-width="1.1"/>
<rect x="1413.5" y="1464.8" width="37.0" height="37.0" fill="#d9d9d9" stroke="#111" stroke-width="1.1"/>
<rect x="1228.5" y="1501.8" width="37.0" height="37.0" fill="#bfbfbf" stroke="#111" stroke-width="1.1"/>
<rect x="1265.5" y="1501.8" width="37.0" height="37.0" fill="#bfbfbf" stroke="#111" stroke-width="1.1"/>
<rect x="1302.5" y="1501.8" width="37.0" height="37.0" fill="#bfbfbf" stroke="#111" stroke-width="1.1"/>
<rect x="1339.5" y="1501.8" width="37.0" height="37.0" fill="#bfbfbf" stroke="#111" stroke-width="1.1"/>
<rect x="1376.5" y="1501.8" width="37.0" height="37.0" fill="#bfbfbf" stroke="#111" stroke-width="1.1"/>
<rect x="1413.5" y="1501.8" width="37.0" height="37.0" fill="#bfbfbf" stroke="#111" stroke-width="1.1"/>
<rect x="1228.5" y="1538.8" width="37.0" height="37.0" fill="#a6a6a6" stroke="#111" stroke-width="1.1"/>
<rect x="1265.5" y="1538.8" width="37.0" height="37.0" fill="#a6a6a6" stroke="#111" stroke-width="1.1"/>
<rect x="1302.5" y="1538.8" width="37.0" height="37.0" fill="#a6a6a6" stroke="#111" stroke-width="1.1"/>
<rect x="1339.5" y="1538.8" width="37.0" height="37.0" fill="#a6a6a6" stroke="#111" stroke-width="1.1"/>
<rect x="1376.5" y="1538.8" width="37.0" height="37.0" fill="#a6a6a6" stroke="#111" stroke-width="1.1"/>
<rect x="1413.5" y="1538.8" width="37.0" height="37.0" fill="#a6a6a6" stroke="#111" stroke-width="1.1"/>
<text x="1244.7" y="1383.4" font-size="32" text-anchor="middle" fill="#0070C0" stroke="#0070C0" stroke-width="0.7">-1</text>
<text x="1281.7" y="1383.4" font-size="32" text-anchor="middle" fill="#0070C0" stroke="#0070C0" stroke-width="0.7">-1</text>
<text x="1318.7" y="1383.4" font-size="32" text-anchor="middle" fill="#0070C0" stroke="#0070C0" stroke-width="0.7">-1</text>
<text x="1355.7" y="1383.4" font-size="32" text-anchor="middle" fill="#0070C0" stroke="#0070C0" stroke-width="0.7">-1</text>
<text x="1392.7" y="1383.4" font-size="32" text-anchor="middle" fill="#0070C0" stroke="#0070C0" stroke-width="0.7">-1</text>
<text x="1429.7" y="1383.4" font-size="32" text-anchor="middle" fill="#0070C0" stroke="#0070C0" stroke-width="0.7">-1</text>
<text x="1244.7" y="1420.4" font-size="32" text-anchor="middle" fill="#0070C0" stroke="#0070C0" stroke-width="0.7">-1</text>
<text x="1281.7" y="1420.4" font-size="32" text-anchor="middle" fill="#0070C0" stroke="#0070C0" stroke-width="0.7">-1</text>
<text x="1318.7" y="1420.4" font-size="32" text-anchor="middle" fill="#0070C0" stroke="#0070C0" stroke-width="0.7">-1</text>
<text x="1355.7" y="1420.4" font-size="32" text-anchor="middle" fill="#0070C0" stroke="#0070C0" stroke-width="0.7">-1</text>
<text x="1392.7" y="1420.4" font-size="32" text-anchor="middle" fill="#0070C0" stroke="#0070C0" stroke-width="0.7">-1</text>
<text x="1429.7" y="1420.4" font-size="32" text-anchor="middle" fill="#0070C0" stroke="#0070C0" stroke-width="0.7">-1</text>
<text x="1250.0" y="1456.6" font-size="30.6" text-anchor="middle" fill="#FF0000">2</text>
<text x="1287.0" y="1456.6" font-size="30.6" text-anchor="middle" fill="#FF0000">2</text>
<text x="1324.0" y="1456.6" font-size="30.6" text-anchor="middle" fill="#FF0000">2</text>
<text x="1361.0" y="1456.6" font-size="30.6" text-anchor="middle" fill="#FF0000">2</text>
<text x="1398.0" y="1456.6" font-size="30.6" text-anchor="middle" fill="#FF0000">2</text>
<text x="1435.0" y="1456.6" font-size="30.6" text-anchor="middle" fill="#FF0000">2</text>
<text x="1250.0" y="1493.6" font-size="30.6" text-anchor="middle" fill="#FF0000">2</text>
<text x="1287.0" y="1493.6" font-size="30.6" text-anchor="middle" fill="#FF0000">2</text>
<text x="1324.0" y="1493.6" font-size="30.6" text-anchor="middle" fill="#FF0000">2</text>
<text x="1361.0" y="1493.6" font-size="30.6" text-anchor="middle" fill="#FF0000">2</text>
<text x="1398.0" y="1493.6" font-size="30.6" text-anchor="middle" fill="#FF0000">2</text>
<text x="1435.0" y="1493.6" font-size="30.6" text-anchor="middle" fill="#FF0000">2</text>
<text x="1244.7" y="1531.4" font-size="32" text-anchor="middle" fill="#0070C0" stroke="#0070C0" stroke-width="0.7">-1</text>
<text x="1281.7" y="1531.4" font-size="32" text-anchor="middle" fill="#0070C0" stroke="#0070C0" stroke-width="0.7">-1</text>
<text x="1318.7" y="1531.4" font-size="32" text-anchor="middle" fill="#0070C0" stroke="#0070C0" stroke-width="0.7">-1</text>
<text x="1355.7" y="1531.4" font-size="32" text-anchor="middle" fill="#0070C0" stroke="#0070C0" stroke-width="0.7">-1</text>
<text x="1392.7" y="1531.4" font-size="32" text-anchor="middle" fill="#0070C0" stroke="#0070C0" stroke-width="0.7">-1</text>
<text x="1429.7" y="1531.4" font-size="32" text-anchor="middle" fill="#0070C0" stroke="#0070C0" stroke-width="0.7">-1</text>
<text x="1244.7" y="1568.4" font-size="32" text-anchor="middle" fill="#0070C0" stroke="#0070C0" stroke-width="0.7">-1</text>
<text x="1281.7" y="1568.4" font-size="32" text-anchor="middle" fill="#0070C0" stroke="#0070C0" stroke-width="0.7">-1</text>
<text x="1318.7" y="1568.4" font-size="32" text-anchor="middle" fill="#0070C0" stroke="#0070C0" stroke-width="0.7">-1</text>
<text x="1355.7" y="1568.4" font-size="32" text-anchor="middle" fill="#0070C0" stroke="#0070C0" stroke-width="0.7">-1</text>
<text x="1392.7" y="1568.4" font-size="32" text-anchor="middle" fill="#0070C0" stroke="#0070C0" stroke-width="0.7">-1</text>
<text x="1429.7" y="1568.4" font-size="32" text-anchor="middle" fill="#0070C0" stroke="#0070C0" stroke-width="0.7">-1</text>
<path d="M96.9 1648.0 l9.6 -9.4 h37.0 l-9.6 9.4 Z" fill="#cfcfcf" stroke="#111" stroke-width="1.1" stroke-linejoin="round"/>
<path d="M133.9 1648.0 l9.6 -9.4 h37.0 l-9.6 9.4 Z" fill="#fff" stroke="#111" stroke-width="1.1" stroke-linejoin="round"/>
<path d="M170.9 1648.0 l9.6 -9.4 h37.0 l-9.6 9.4 Z" fill="#fff" stroke="#111" stroke-width="1.1" stroke-linejoin="round"/>
<path d="M207.9 1648.0 l9.6 -9.4 h37.0 l-9.6 9.4 Z" fill="#fff" stroke="#111" stroke-width="1.1" stroke-linejoin="round"/>
<path d="M244.9 1648.0 l9.6 -9.4 h37.0 l-9.6 9.4 Z" fill="#cfcfcf" stroke="#111" stroke-width="1.1" stroke-linejoin="round"/>
<path d="M281.9 1648.0 l9.6 -9.4 h37.0 l-9.6 9.4 Z" fill="#cfcfcf" stroke="#111" stroke-width="1.1" stroke-linejoin="round"/>
<path d="M318.9 1648.0 l9.6 -9.4 v37.0 l-9.6 9.4 Z" fill="#808080" stroke="#111" stroke-width="1.1" stroke-linejoin="round"/>
<path d="M318.9 1685.0 l9.6 -9.4 v37.0 l-9.6 9.4 Z" fill="#999" stroke="#111" stroke-width="1.1" stroke-linejoin="round"/>
<path d="M318.9 1722.0 l9.6 -9.4 v37.0 l-9.6 9.4 Z" fill="#e6e6e6" stroke="#111" stroke-width="1.1" stroke-linejoin="round"/>
<path d="M318.9 1759.0 l9.6 -9.4 v37.0 l-9.6 9.4 Z" fill="#e6e6e6" stroke="#111" stroke-width="1.1" stroke-linejoin="round"/>
<path d="M318.9 1796.0 l9.6 -9.4 v37.0 l-9.6 9.4 Z" fill="#e6e6e6" stroke="#111" stroke-width="1.1" stroke-linejoin="round"/>
<path d="M318.9 1833.0 l9.6 -9.4 v37.0 l-9.6 9.4 Z" fill="#808080" stroke="#111" stroke-width="1.1" stroke-linejoin="round"/>
<rect x="96.9" y="1648.0" width="37.0" height="37.0" fill="#a6a6a6" stroke="#111" stroke-width="1.1"/>
<rect x="133.9" y="1648.0" width="37.0" height="37.0" fill="#fff" stroke="#111" stroke-width="1.1"/>
<rect x="170.9" y="1648.0" width="37.0" height="37.0" fill="#fff" stroke="#111" stroke-width="1.1"/>
<rect x="207.9" y="1648.0" width="37.0" height="37.0" fill="#fff" stroke="#111" stroke-width="1.1"/>
<rect x="244.9" y="1648.0" width="37.0" height="37.0" fill="#a6a6a6" stroke="#111" stroke-width="1.1"/>
<rect x="281.9" y="1648.0" width="37.0" height="37.0" fill="#a6a6a6" stroke="#111" stroke-width="1.1"/>
<rect x="96.9" y="1685.0" width="37.0" height="37.0" fill="#bfbfbf" stroke="#111" stroke-width="1.1"/>
<rect x="133.9" y="1685.0" width="37.0" height="37.0" fill="#bfbfbf" stroke="#111" stroke-width="1.1"/>
<rect x="170.9" y="1685.0" width="37.0" height="37.0" fill="#fff" stroke="#111" stroke-width="1.1"/>
<rect x="207.9" y="1685.0" width="37.0" height="37.0" fill="#fff" stroke="#111" stroke-width="1.1"/>
<rect x="244.9" y="1685.0" width="37.0" height="37.0" fill="#fff" stroke="#111" stroke-width="1.1"/>
<rect x="281.9" y="1685.0" width="37.0" height="37.0" fill="#bfbfbf" stroke="#111" stroke-width="1.1"/>
<rect x="96.9" y="1722.0" width="37.0" height="37.0" fill="#d9d9d9" stroke="#111" stroke-width="1.1"/>
<rect x="133.9" y="1722.0" width="37.0" height="37.0" fill="#d9d9d9" stroke="#111" stroke-width="1.1"/>
<rect x="170.9" y="1722.0" width="37.0" height="37.0" fill="#d9d9d9" stroke="#111" stroke-width="1.1"/>
<rect x="207.9" y="1722.0" width="37.0" height="37.0" fill="#fff" stroke="#111" stroke-width="1.1"/>
<rect x="244.9" y="1722.0" width="37.0" height="37.0" fill="#fff" stroke="#111" stroke-width="1.1"/>
<rect x="281.9" y="1722.0" width="37.0" height="37.0" fill="#fff" stroke="#111" stroke-width="1.1"/>
<rect x="96.9" y="1759.0" width="37.0" height="37.0" fill="#fff" stroke="#111" stroke-width="1.1"/>
<rect x="133.9" y="1759.0" width="37.0" height="37.0" fill="#d9d9d9" stroke="#111" stroke-width="1.1"/>
<rect x="170.9" y="1759.0" width="37.0" height="37.0" fill="#d9d9d9" stroke="#111" stroke-width="1.1"/>
<rect x="207.9" y="1759.0" width="37.0" height="37.0" fill="#d9d9d9" stroke="#111" stroke-width="1.1"/>
<rect x="244.9" y="1759.0" width="37.0" height="37.0" fill="#fff" stroke="#111" stroke-width="1.1"/>
<rect x="281.9" y="1759.0" width="37.0" height="37.0" fill="#fff" stroke="#111" stroke-width="1.1"/>
<rect x="96.9" y="1796.0" width="37.0" height="37.0" fill="#fff" stroke="#111" stroke-width="1.1"/>
<rect x="133.9" y="1796.0" width="37.0" height="37.0" fill="#fff" stroke="#111" stroke-width="1.1"/>
<rect x="170.9" y="1796.0" width="37.0" height="37.0" fill="#bfbfbf" stroke="#111" stroke-width="1.1"/>
<rect x="207.9" y="1796.0" width="37.0" height="37.0" fill="#bfbfbf" stroke="#111" stroke-width="1.1"/>
<rect x="244.9" y="1796.0" width="37.0" height="37.0" fill="#bfbfbf" stroke="#111" stroke-width="1.1"/>
<rect x="281.9" y="1796.0" width="37.0" height="37.0" fill="#fff" stroke="#111" stroke-width="1.1"/>
<rect x="96.9" y="1833.0" width="37.0" height="37.0" fill="#fff" stroke="#111" stroke-width="1.1"/>
<rect x="133.9" y="1833.0" width="37.0" height="37.0" fill="#fff" stroke="#111" stroke-width="1.1"/>
<rect x="170.9" y="1833.0" width="37.0" height="37.0" fill="#fff" stroke="#111" stroke-width="1.1"/>
<rect x="207.9" y="1833.0" width="37.0" height="37.0" fill="#a6a6a6" stroke="#111" stroke-width="1.1"/>
<rect x="244.9" y="1833.0" width="37.0" height="37.0" fill="#a6a6a6" stroke="#111" stroke-width="1.1"/>
<rect x="281.9" y="1833.0" width="37.0" height="37.0" fill="#a6a6a6" stroke="#111" stroke-width="1.1"/>
<text x="118.4" y="1676.8" font-size="30.6" text-anchor="middle" fill="#FF0000">1</text>
<text x="155.4" y="1676.8" font-size="30.6" text-anchor="middle">0</text>
<text x="192.4" y="1676.8" font-size="30.6" text-anchor="middle">0</text>
<text x="229.4" y="1676.8" font-size="30.6" text-anchor="middle">0</text>
<text x="266.4" y="1676.8" font-size="30.6" text-anchor="middle" fill="#FF0000">1</text>
<text x="303.4" y="1676.8" font-size="30.6" text-anchor="middle" fill="#FF0000">1</text>
<text x="118.4" y="1713.8" font-size="30.6" text-anchor="middle" fill="#FF0000">1</text>
<text x="155.4" y="1713.8" font-size="30.6" text-anchor="middle" fill="#FF0000">1</text>
<text x="192.4" y="1713.8" font-size="30.6" text-anchor="middle">0</text>
<text x="229.4" y="1713.8" font-size="30.6" text-anchor="middle">0</text>
<text x="266.4" y="1713.8" font-size="30.6" text-anchor="middle">0</text>
<text x="303.4" y="1713.8" font-size="30.6" text-anchor="middle" fill="#FF0000">1</text>
<text x="118.4" y="1750.8" font-size="30.6" text-anchor="middle" fill="#FF0000">1</text>
<text x="155.4" y="1750.8" font-size="30.6" text-anchor="middle" fill="#FF0000">1</text>
<text x="192.4" y="1750.8" font-size="30.6" text-anchor="middle" fill="#FF0000">1</text>
<text x="229.4" y="1750.8" font-size="30.6" text-anchor="middle">0</text>
<text x="266.4" y="1750.8" font-size="30.6" text-anchor="middle">0</text>
<text x="303.4" y="1750.8" font-size="30.6" text-anchor="middle">0</text>
<text x="118.4" y="1787.8" font-size="30.6" text-anchor="middle">0</text>
<text x="155.4" y="1787.8" font-size="30.6" text-anchor="middle" fill="#FF0000">1</text>
<text x="192.4" y="1787.8" font-size="30.6" text-anchor="middle" fill="#FF0000">1</text>
<text x="229.4" y="1787.8" font-size="30.6" text-anchor="middle" fill="#FF0000">1</text>
<text x="266.4" y="1787.8" font-size="30.6" text-anchor="middle">0</text>
<text x="303.4" y="1787.8" font-size="30.6" text-anchor="middle">0</text>
<text x="118.4" y="1824.8" font-size="30.6" text-anchor="middle">0</text>
<text x="155.4" y="1824.8" font-size="30.6" text-anchor="middle">0</text>
<text x="192.4" y="1824.8" font-size="30.6" text-anchor="middle" fill="#FF0000">1</text>
<text x="229.4" y="1824.8" font-size="30.6" text-anchor="middle" fill="#FF0000">1</text>
<text x="266.4" y="1824.8" font-size="30.6" text-anchor="middle" fill="#FF0000">1</text>
<text x="303.4" y="1824.8" font-size="30.6" text-anchor="middle">0</text>
<text x="118.4" y="1861.8" font-size="30.6" text-anchor="middle">0</text>
<text x="155.4" y="1861.8" font-size="30.6" text-anchor="middle">0</text>
<text x="192.4" y="1861.8" font-size="30.6" text-anchor="middle">0</text>
<text x="229.4" y="1861.8" font-size="30.6" text-anchor="middle" fill="#FF0000">1</text>
<text x="266.4" y="1861.8" font-size="30.6" text-anchor="middle" fill="#FF0000">1</text>
<text x="303.4" y="1861.8" font-size="30.6" text-anchor="middle" fill="#FF0000">1</text>
<path d="M671.8 1648.0 l9.6 -9.4 h37.0 l-9.6 9.4 Z" fill="#fff" stroke="#111" stroke-width="1.1" stroke-linejoin="round"/>
<path d="M708.8 1648.0 l9.6 -9.4 h37.0 l-9.6 9.4 Z" fill="#fff" stroke="#111" stroke-width="1.1" stroke-linejoin="round"/>
<path d="M745.8 1648.0 l9.6 -9.4 h37.0 l-9.6 9.4 Z" fill="#cfcfcf" stroke="#111" stroke-width="1.1" stroke-linejoin="round"/>
<path d="M782.8 1648.0 l9.6 -9.4 h37.0 l-9.6 9.4 Z" fill="#cfcfcf" stroke="#111" stroke-width="1.1" stroke-linejoin="round"/>
<path d="M819.8 1648.0 l9.6 -9.4 h37.0 l-9.6 9.4 Z" fill="#cfcfcf" stroke="#111" stroke-width="1.1" stroke-linejoin="round"/>
<path d="M856.8 1648.0 l9.6 -9.4 h37.0 l-9.6 9.4 Z" fill="#fff" stroke="#111" stroke-width="1.1" stroke-linejoin="round"/>
<path d="M893.8 1648.0 l9.6 -9.4 v37.0 l-9.6 9.4 Z" fill="#e6e6e6" stroke="#111" stroke-width="1.1" stroke-linejoin="round"/>
<path d="M893.8 1685.0 l9.6 -9.4 v37.0 l-9.6 9.4 Z" fill="#999" stroke="#111" stroke-width="1.1" stroke-linejoin="round"/>
<path d="M893.8 1722.0 l9.6 -9.4 v37.0 l-9.6 9.4 Z" fill="#b3b3b3" stroke="#111" stroke-width="1.1" stroke-linejoin="round"/>
<path d="M893.8 1759.0 l9.6 -9.4 v37.0 l-9.6 9.4 Z" fill="#b3b3b3" stroke="#111" stroke-width="1.1" stroke-linejoin="round"/>
<path d="M893.8 1796.0 l9.6 -9.4 v37.0 l-9.6 9.4 Z" fill="#e6e6e6" stroke="#111" stroke-width="1.1" stroke-linejoin="round"/>
<path d="M893.8 1833.0 l9.6 -9.4 v37.0 l-9.6 9.4 Z" fill="#e6e6e6" stroke="#111" stroke-width="1.1" stroke-linejoin="round"/>
<rect x="671.8" y="1648.0" width="37.0" height="37.0" fill="#fff" stroke="#111" stroke-width="1.1"/>
<rect x="708.8" y="1648.0" width="37.0" height="37.0" fill="#fff" stroke="#111" stroke-width="1.1"/>
<rect x="745.8" y="1648.0" width="37.0" height="37.0" fill="#a6a6a6" stroke="#111" stroke-width="1.1"/>
<rect x="782.8" y="1648.0" width="37.0" height="37.0" fill="#a6a6a6" stroke="#111" stroke-width="1.1"/>
<rect x="819.8" y="1648.0" width="37.0" height="37.0" fill="#a6a6a6" stroke="#111" stroke-width="1.1"/>
<rect x="856.8" y="1648.0" width="37.0" height="37.0" fill="#fff" stroke="#111" stroke-width="1.1"/>
<rect x="671.8" y="1685.0" width="37.0" height="37.0" fill="#fff" stroke="#111" stroke-width="1.1"/>
<rect x="708.8" y="1685.0" width="37.0" height="37.0" fill="#fff" stroke="#111" stroke-width="1.1"/>
<rect x="745.8" y="1685.0" width="37.0" height="37.0" fill="#fff" stroke="#111" stroke-width="1.1"/>
<rect x="782.8" y="1685.0" width="37.0" height="37.0" fill="#bfbfbf" stroke="#111" stroke-width="1.1"/>
<rect x="819.8" y="1685.0" width="37.0" height="37.0" fill="#bfbfbf" stroke="#111" stroke-width="1.1"/>
<rect x="856.8" y="1685.0" width="37.0" height="37.0" fill="#bfbfbf" stroke="#111" stroke-width="1.1"/>
<rect x="671.8" y="1722.0" width="37.0" height="37.0" fill="#d9d9d9" stroke="#111" stroke-width="1.1"/>
<rect x="708.8" y="1722.0" width="37.0" height="37.0" fill="#fff" stroke="#111" stroke-width="1.1"/>
<rect x="745.8" y="1722.0" width="37.0" height="37.0" fill="#fff" stroke="#111" stroke-width="1.1"/>
<rect x="782.8" y="1722.0" width="37.0" height="37.0" fill="#fff" stroke="#111" stroke-width="1.1"/>
<rect x="819.8" y="1722.0" width="37.0" height="37.0" fill="#d9d9d9" stroke="#111" stroke-width="1.1"/>
<rect x="856.8" y="1722.0" width="37.0" height="37.0" fill="#d9d9d9" stroke="#111" stroke-width="1.1"/>
<rect x="671.8" y="1759.0" width="37.0" height="37.0" fill="#d9d9d9" stroke="#111" stroke-width="1.1"/>
<rect x="708.8" y="1759.0" width="37.0" height="37.0" fill="#d9d9d9" stroke="#111" stroke-width="1.1"/>
<rect x="745.8" y="1759.0" width="37.0" height="37.0" fill="#fff" stroke="#111" stroke-width="1.1"/>
<rect x="782.8" y="1759.0" width="37.0" height="37.0" fill="#fff" stroke="#111" stroke-width="1.1"/>
<rect x="819.8" y="1759.0" width="37.0" height="37.0" fill="#fff" stroke="#111" stroke-width="1.1"/>
<rect x="856.8" y="1759.0" width="37.0" height="37.0" fill="#d9d9d9" stroke="#111" stroke-width="1.1"/>
<rect x="671.8" y="1796.0" width="37.0" height="37.0" fill="#bfbfbf" stroke="#111" stroke-width="1.1"/>
<rect x="708.8" y="1796.0" width="37.0" height="37.0" fill="#bfbfbf" stroke="#111" stroke-width="1.1"/>
<rect x="745.8" y="1796.0" width="37.0" height="37.0" fill="#bfbfbf" stroke="#111" stroke-width="1.1"/>
<rect x="782.8" y="1796.0" width="37.0" height="37.0" fill="#fff" stroke="#111" stroke-width="1.1"/>
<rect x="819.8" y="1796.0" width="37.0" height="37.0" fill="#fff" stroke="#111" stroke-width="1.1"/>
<rect x="856.8" y="1796.0" width="37.0" height="37.0" fill="#fff" stroke="#111" stroke-width="1.1"/>
<rect x="671.8" y="1833.0" width="37.0" height="37.0" fill="#fff" stroke="#111" stroke-width="1.1"/>
<rect x="708.8" y="1833.0" width="37.0" height="37.0" fill="#a6a6a6" stroke="#111" stroke-width="1.1"/>
<rect x="745.8" y="1833.0" width="37.0" height="37.0" fill="#a6a6a6" stroke="#111" stroke-width="1.1"/>
<rect x="782.8" y="1833.0" width="37.0" height="37.0" fill="#a6a6a6" stroke="#111" stroke-width="1.1"/>
<rect x="819.8" y="1833.0" width="37.0" height="37.0" fill="#fff" stroke="#111" stroke-width="1.1"/>
<rect x="856.8" y="1833.0" width="37.0" height="37.0" fill="#fff" stroke="#111" stroke-width="1.1"/>
<text x="693.3" y="1676.8" font-size="30.6" text-anchor="middle">0</text>
<text x="730.3" y="1676.8" font-size="30.6" text-anchor="middle">0</text>
<text x="767.3" y="1676.8" font-size="30.6" text-anchor="middle" fill="#FF0000">1</text>
<text x="804.3" y="1676.8" font-size="30.6" text-anchor="middle" fill="#FF0000">1</text>
<text x="841.3" y="1676.8" font-size="30.6" text-anchor="middle" fill="#FF0000">1</text>
<text x="878.3" y="1676.8" font-size="30.6" text-anchor="middle">0</text>
<text x="693.3" y="1713.8" font-size="30.6" text-anchor="middle">0</text>
<text x="730.3" y="1713.8" font-size="30.6" text-anchor="middle">0</text>
<text x="767.3" y="1713.8" font-size="30.6" text-anchor="middle">0</text>
<text x="804.3" y="1713.8" font-size="30.6" text-anchor="middle" fill="#FF0000">1</text>
<text x="841.3" y="1713.8" font-size="30.6" text-anchor="middle" fill="#FF0000">1</text>
<text x="878.3" y="1713.8" font-size="30.6" text-anchor="middle" fill="#FF0000">1</text>
<text x="693.3" y="1750.8" font-size="30.6" text-anchor="middle" fill="#FF0000">1</text>
<text x="730.3" y="1750.8" font-size="30.6" text-anchor="middle">0</text>
<text x="767.3" y="1750.8" font-size="30.6" text-anchor="middle">0</text>
<text x="804.3" y="1750.8" font-size="30.6" text-anchor="middle">0</text>
<text x="841.3" y="1750.8" font-size="30.6" text-anchor="middle" fill="#FF0000">1</text>
<text x="878.3" y="1750.8" font-size="30.6" text-anchor="middle" fill="#FF0000">1</text>
<text x="693.3" y="1787.8" font-size="30.6" text-anchor="middle" fill="#FF0000">1</text>
<text x="730.3" y="1787.8" font-size="30.6" text-anchor="middle" fill="#FF0000">1</text>
<text x="767.3" y="1787.8" font-size="30.6" text-anchor="middle">0</text>
<text x="804.3" y="1787.8" font-size="30.6" text-anchor="middle">0</text>
<text x="841.3" y="1787.8" font-size="30.6" text-anchor="middle">0</text>
<text x="878.3" y="1787.8" font-size="30.6" text-anchor="middle" fill="#FF0000">1</text>
<text x="693.3" y="1824.8" font-size="30.6" text-anchor="middle" fill="#FF0000">1</text>
<text x="730.3" y="1824.8" font-size="30.6" text-anchor="middle" fill="#FF0000">1</text>
<text x="767.3" y="1824.8" font-size="30.6" text-anchor="middle" fill="#FF0000">1</text>
<text x="804.3" y="1824.8" font-size="30.6" text-anchor="middle">0</text>
<text x="841.3" y="1824.8" font-size="30.6" text-anchor="middle">0</text>
<text x="878.3" y="1824.8" font-size="30.6" text-anchor="middle">0</text>
<text x="693.3" y="1861.8" font-size="30.6" text-anchor="middle">0</text>
<text x="730.3" y="1861.8" font-size="30.6" text-anchor="middle" fill="#FF0000">1</text>
<text x="767.3" y="1861.8" font-size="30.6" text-anchor="middle" fill="#FF0000">1</text>
<text x="804.3" y="1861.8" font-size="30.6" text-anchor="middle" fill="#FF0000">1</text>
<text x="841.3" y="1861.8" font-size="30.6" text-anchor="middle">0</text>
<text x="878.3" y="1861.8" font-size="30.6" text-anchor="middle">0</text>
<path d="M1228.5 1648.3 l9.6 -9.4 h37.0 l-9.6 9.4 Z" fill="#cfcfcf" stroke="#111" stroke-width="1.1" stroke-linejoin="round"/>
<path d="M1265.5 1648.3 l9.6 -9.4 h37.0 l-9.6 9.4 Z" fill="#cfcfcf" stroke="#111" stroke-width="1.1" stroke-linejoin="round"/>
<path d="M1302.5 1648.3 l9.6 -9.4 h37.0 l-9.6 9.4 Z" fill="#cfcfcf" stroke="#111" stroke-width="1.1" stroke-linejoin="round"/>
<path d="M1339.5 1648.3 l9.6 -9.4 h37.0 l-9.6 9.4 Z" fill="#fff" stroke="#111" stroke-width="1.1" stroke-linejoin="round"/>
<path d="M1376.5 1648.3 l9.6 -9.4 h37.0 l-9.6 9.4 Z" fill="#fff" stroke="#111" stroke-width="1.1" stroke-linejoin="round"/>
<path d="M1413.5 1648.3 l9.6 -9.4 h37.0 l-9.6 9.4 Z" fill="#fff" stroke="#111" stroke-width="1.1" stroke-linejoin="round"/>
<path d="M1450.5 1648.3 l9.6 -9.4 v37.0 l-9.6 9.4 Z" fill="#e6e6e6" stroke="#111" stroke-width="1.1" stroke-linejoin="round"/>
<path d="M1450.5 1685.3 l9.6 -9.4 v37.0 l-9.6 9.4 Z" fill="#e6e6e6" stroke="#111" stroke-width="1.1" stroke-linejoin="round"/>
<path d="M1450.5 1722.3 l9.6 -9.4 v37.0 l-9.6 9.4 Z" fill="#e6e6e6" stroke="#111" stroke-width="1.1" stroke-linejoin="round"/>
<path d="M1450.5 1759.3 l9.6 -9.4 v37.0 l-9.6 9.4 Z" fill="#b3b3b3" stroke="#111" stroke-width="1.1" stroke-linejoin="round"/>
<path d="M1450.5 1796.3 l9.6 -9.4 v37.0 l-9.6 9.4 Z" fill="#999" stroke="#111" stroke-width="1.1" stroke-linejoin="round"/>
<path d="M1450.5 1833.3 l9.6 -9.4 v37.0 l-9.6 9.4 Z" fill="#808080" stroke="#111" stroke-width="1.1" stroke-linejoin="round"/>
<rect x="1228.5" y="1648.3" width="37.0" height="37.0" fill="#a6a6a6" stroke="#111" stroke-width="1.1"/>
<rect x="1265.5" y="1648.3" width="37.0" height="37.0" fill="#a6a6a6" stroke="#111" stroke-width="1.1"/>
<rect x="1302.5" y="1648.3" width="37.0" height="37.0" fill="#a6a6a6" stroke="#111" stroke-width="1.1"/>
<rect x="1339.5" y="1648.3" width="37.0" height="37.0" fill="#fff" stroke="#111" stroke-width="1.1"/>
<rect x="1376.5" y="1648.3" width="37.0" height="37.0" fill="#fff" stroke="#111" stroke-width="1.1"/>
<rect x="1413.5" y="1648.3" width="37.0" height="37.0" fill="#fff" stroke="#111" stroke-width="1.1"/>
<rect x="1228.5" y="1685.3" width="37.0" height="37.0" fill="#fff" stroke="#111" stroke-width="1.1"/>
<rect x="1265.5" y="1685.3" width="37.0" height="37.0" fill="#bfbfbf" stroke="#111" stroke-width="1.1"/>
<rect x="1302.5" y="1685.3" width="37.0" height="37.0" fill="#bfbfbf" stroke="#111" stroke-width="1.1"/>
<rect x="1339.5" y="1685.3" width="37.0" height="37.0" fill="#bfbfbf" stroke="#111" stroke-width="1.1"/>
<rect x="1376.5" y="1685.3" width="37.0" height="37.0" fill="#fff" stroke="#111" stroke-width="1.1"/>
<rect x="1413.5" y="1685.3" width="37.0" height="37.0" fill="#fff" stroke="#111" stroke-width="1.1"/>
<rect x="1228.5" y="1722.3" width="37.0" height="37.0" fill="#fff" stroke="#111" stroke-width="1.1"/>
<rect x="1265.5" y="1722.3" width="37.0" height="37.0" fill="#fff" stroke="#111" stroke-width="1.1"/>
<rect x="1302.5" y="1722.3" width="37.0" height="37.0" fill="#d9d9d9" stroke="#111" stroke-width="1.1"/>
<rect x="1339.5" y="1722.3" width="37.0" height="37.0" fill="#d9d9d9" stroke="#111" stroke-width="1.1"/>
<rect x="1376.5" y="1722.3" width="37.0" height="37.0" fill="#d9d9d9" stroke="#111" stroke-width="1.1"/>
<rect x="1413.5" y="1722.3" width="37.0" height="37.0" fill="#fff" stroke="#111" stroke-width="1.1"/>
<rect x="1228.5" y="1759.3" width="37.0" height="37.0" fill="#fff" stroke="#111" stroke-width="1.1"/>
<rect x="1265.5" y="1759.3" width="37.0" height="37.0" fill="#fff" stroke="#111" stroke-width="1.1"/>
<rect x="1302.5" y="1759.3" width="37.0" height="37.0" fill="#fff" stroke="#111" stroke-width="1.1"/>
<rect x="1339.5" y="1759.3" width="37.0" height="37.0" fill="#d9d9d9" stroke="#111" stroke-width="1.1"/>
<rect x="1376.5" y="1759.3" width="37.0" height="37.0" fill="#d9d9d9" stroke="#111" stroke-width="1.1"/>
<rect x="1413.5" y="1759.3" width="37.0" height="37.0" fill="#d9d9d9" stroke="#111" stroke-width="1.1"/>
<rect x="1228.5" y="1796.3" width="37.0" height="37.0" fill="#bfbfbf" stroke="#111" stroke-width="1.1"/>
<rect x="1265.5" y="1796.3" width="37.0" height="37.0" fill="#fff" stroke="#111" stroke-width="1.1"/>
<rect x="1302.5" y="1796.3" width="37.0" height="37.0" fill="#fff" stroke="#111" stroke-width="1.1"/>
<rect x="1339.5" y="1796.3" width="37.0" height="37.0" fill="#fff" stroke="#111" stroke-width="1.1"/>
<rect x="1376.5" y="1796.3" width="37.0" height="37.0" fill="#bfbfbf" stroke="#111" stroke-width="1.1"/>
<rect x="1413.5" y="1796.3" width="37.0" height="37.0" fill="#bfbfbf" stroke="#111" stroke-width="1.1"/>
<rect x="1228.5" y="1833.3" width="37.0" height="37.0" fill="#a6a6a6" stroke="#111" stroke-width="1.1"/>
<rect x="1265.5" y="1833.3" width="37.0" height="37.0" fill="#a6a6a6" stroke="#111" stroke-width="1.1"/>
<rect x="1302.5" y="1833.3" width="37.0" height="37.0" fill="#fff" stroke="#111" stroke-width="1.1"/>
<rect x="1339.5" y="1833.3" width="37.0" height="37.0" fill="#fff" stroke="#111" stroke-width="1.1"/>
<rect x="1376.5" y="1833.3" width="37.0" height="37.0" fill="#fff" stroke="#111" stroke-width="1.1"/>
<rect x="1413.5" y="1833.3" width="37.0" height="37.0" fill="#a6a6a6" stroke="#111" stroke-width="1.1"/>
<text x="1250.0" y="1677.1" font-size="30.6" text-anchor="middle" fill="#FF0000">1</text>
<text x="1287.0" y="1677.1" font-size="30.6" text-anchor="middle" fill="#FF0000">1</text>
<text x="1324.0" y="1677.1" font-size="30.6" text-anchor="middle" fill="#FF0000">1</text>
<text x="1361.0" y="1677.1" font-size="30.6" text-anchor="middle">0</text>
<text x="1398.0" y="1677.1" font-size="30.6" text-anchor="middle">0</text>
<text x="1435.0" y="1677.1" font-size="30.6" text-anchor="middle">0</text>
<text x="1250.0" y="1714.1" font-size="30.6" text-anchor="middle">0</text>
<text x="1287.0" y="1714.1" font-size="30.6" text-anchor="middle" fill="#FF0000">1</text>
<text x="1324.0" y="1714.1" font-size="30.6" text-anchor="middle" fill="#FF0000">1</text>
<text x="1361.0" y="1714.1" font-size="30.6" text-anchor="middle" fill="#FF0000">1</text>
<text x="1398.0" y="1714.1" font-size="30.6" text-anchor="middle">0</text>
<text x="1435.0" y="1714.1" font-size="30.6" text-anchor="middle">0</text>
<text x="1250.0" y="1751.1" font-size="30.6" text-anchor="middle">0</text>
<text x="1287.0" y="1751.1" font-size="30.6" text-anchor="middle">0</text>
<text x="1324.0" y="1751.1" font-size="30.6" text-anchor="middle" fill="#FF0000">1</text>
<text x="1361.0" y="1751.1" font-size="30.6" text-anchor="middle" fill="#FF0000">1</text>
<text x="1398.0" y="1751.1" font-size="30.6" text-anchor="middle" fill="#FF0000">1</text>
<text x="1435.0" y="1751.1" font-size="30.6" text-anchor="middle">0</text>
<text x="1250.0" y="1788.1" font-size="30.6" text-anchor="middle">0</text>
<text x="1287.0" y="1788.1" font-size="30.6" text-anchor="middle">0</text>
<text x="1324.0" y="1788.1" font-size="30.6" text-anchor="middle">0</text>
<text x="1361.0" y="1788.1" font-size="30.6" text-anchor="middle" fill="#FF0000">1</text>
<text x="1398.0" y="1788.1" font-size="30.6" text-anchor="middle" fill="#FF0000">1</text>
<text x="1435.0" y="1788.1" font-size="30.6" text-anchor="middle" fill="#FF0000">1</text>
<text x="1250.0" y="1825.1" font-size="30.6" text-anchor="middle" fill="#FF0000">1</text>
<text x="1287.0" y="1825.1" font-size="30.6" text-anchor="middle">0</text>
<text x="1324.0" y="1825.1" font-size="30.6" text-anchor="middle">0</text>
<text x="1361.0" y="1825.1" font-size="30.6" text-anchor="middle">0</text>
<text x="1398.0" y="1825.1" font-size="30.6" text-anchor="middle" fill="#FF0000">1</text>
<text x="1435.0" y="1825.1" font-size="30.6" text-anchor="middle" fill="#FF0000">1</text>
<text x="1250.0" y="1862.1" font-size="30.6" text-anchor="middle" fill="#FF0000">1</text>
<text x="1287.0" y="1862.1" font-size="30.6" text-anchor="middle" fill="#FF0000">1</text>
<text x="1324.0" y="1862.1" font-size="30.6" text-anchor="middle">0</text>
<text x="1361.0" y="1862.1" font-size="30.6" text-anchor="middle">0</text>
<text x="1398.0" y="1862.1" font-size="30.6" text-anchor="middle">0</text>
<text x="1435.0" y="1862.1" font-size="30.6" text-anchor="middle" fill="#FF0000">1</text>
<rect x="346.0" y="1432.2" width="46.33" height="46.3" fill="#bfbfbf" stroke="#222" stroke-width="1"/>
<rect x="392.3" y="1432.2" width="46.33" height="46.3" fill="#bfbfbf" stroke="#222" stroke-width="1"/>
<rect x="438.7" y="1432.2" width="46.33" height="46.3" fill="#bfbfbf" stroke="#222" stroke-width="1"/>
<rect x="485.0" y="1432.2" width="46.33" height="46.3" fill="#bfbfbf" stroke="#222" stroke-width="1"/>
<rect x="531.3" y="1432.2" width="46.33" height="46.3" fill="#bfbfbf" stroke="#222" stroke-width="1"/>
<rect x="577.7" y="1432.2" width="46.33" height="46.3" fill="#bfbfbf" stroke="#222" stroke-width="1"/>
<g transform="translate(346.80,1432.50)" stroke="#2a1a10" stroke-width="1" stroke-linejoin="round" stroke-linecap="round"><path d="M24.72 15.93A42.80 10.19 0 0 1 43.39 6.08A42.80 10.19 0 0 1 88.76 5.77A33.80 8.06 0 0 1 113.48 1.58A33.80 8.06 0 0 1 142.33 3.81A27.67 6.59 0 0 1 164.47 0.19A27.67 6.59 0 0 1 189.08 2.75A30.78 7.31 0 0 1 220.55 0.42A30.78 7.31 0 0 1 242.86 6.18A33.80 8.06 0 0 1 264.41 10.46A33.80 8.06 0 0 1 265.04 17.14A42.94 10.22 0 0 1 270.75 27.23A42.94 10.22 0 0 1 237.07 33.49A36.67 8.72 0 0 1 218.06 41.06A36.67 8.72 0 0 1 180.99 40.82A42.79 10.22 0 0 1 146.32 47.96A42.79 10.22 0 0 1 104.45 43.54A48.93 11.69 0 0 1 66.92 44.83A48.93 11.69 0 0 1 36.79 39.33A27.63 6.56 0 0 1 8.90 35.77A27.63 6.56 0 0 1 13.40 28.33A27.54 6.59 0 0 1 0.40 21.24A27.54 6.59 0 0 1 24.49 16.08Z" fill="#F1975B" fill-opacity="0.5"/><path d="M29.74 29.02A27.54 6.59 0 0 1 13.69 28.14M43.91 38.70A27.63 6.56 0 0 1 36.89 39.12M104.44 43.34A42.79 10.22 0 0 1 100.20 41.41M182.70 38.53A42.79 10.22 0 0 1 181.01 40.65M216.31 25.45A36.67 8.72 0 0 1 236.92 33.36M264.91 17.02A33.80 8.06 0 0 1 255.74 19.99M242.90 6.02A30.78 7.31 0 0 1 243.38 7.42M184.30 4.38A30.78 7.31 0 0 1 189.00 2.60M140.33 5.23A27.67 6.59 0 0 1 142.61 3.69M88.73 5.76A33.80 8.06 0 0 1 95.24 6.94M26.16 17.51A42.80 10.19 0 0 1 24.72 15.93" fill="none"/></g>
<line x1="392.3" y1="1432.2" x2="392.3" y2="1478.5" stroke="#3a2a20" stroke-width="0.9" stroke-opacity="0.75"/>
<line x1="438.7" y1="1432.2" x2="438.7" y2="1478.5" stroke="#3a2a20" stroke-width="0.9" stroke-opacity="0.75"/>
<line x1="485.0" y1="1432.2" x2="485.0" y2="1478.5" stroke="#3a2a20" stroke-width="0.9" stroke-opacity="0.75"/>
<line x1="531.3" y1="1432.2" x2="531.3" y2="1478.5" stroke="#3a2a20" stroke-width="0.9" stroke-opacity="0.75"/>
<line x1="577.7" y1="1432.2" x2="577.7" y2="1478.5" stroke="#3a2a20" stroke-width="0.9" stroke-opacity="0.75"/>
<rect x="926.3" y="1440.4" width="46.38" height="46.7" fill="#808080" stroke="#222" stroke-width="1"/>
<rect x="972.7" y="1440.4" width="46.38" height="46.7" fill="#a0a0a0" stroke="#222" stroke-width="1"/>
<rect x="1019.1" y="1440.4" width="46.38" height="46.7" fill="#bababa" stroke="#222" stroke-width="1"/>
<rect x="1065.5" y="1440.4" width="46.38" height="46.7" fill="#bababa" stroke="#222" stroke-width="1"/>
<rect x="1111.8" y="1440.4" width="46.38" height="46.7" fill="#a0a0a0" stroke="#222" stroke-width="1"/>
<rect x="1158.2" y="1440.4" width="46.38" height="46.7" fill="#808080" stroke="#222" stroke-width="1"/>
<g transform="translate(927.10,1440.70)" stroke="#2a1a10" stroke-width="1" stroke-linejoin="round" stroke-linecap="round"><path d="M24.75 16.07A42.85 10.27 0 0 1 43.43 6.13A42.85 10.27 0 0 1 88.86 5.82A33.84 8.12 0 0 1 113.60 1.60A33.84 8.12 0 0 1 142.48 3.84A27.70 6.65 0 0 1 164.65 0.19A27.70 6.65 0 0 1 189.29 2.77A30.82 7.37 0 0 1 220.79 0.42A30.82 7.37 0 0 1 243.12 6.23A33.84 8.13 0 0 1 264.70 10.54A33.84 8.13 0 0 1 265.33 17.28A42.99 10.31 0 0 1 271.05 27.45A42.99 10.31 0 0 1 237.33 33.77A36.71 8.80 0 0 1 218.30 41.41A36.71 8.80 0 0 1 181.19 41.16A42.84 10.30 0 0 1 146.48 48.36A42.84 10.30 0 0 1 104.57 43.90A48.98 11.79 0 0 1 66.99 45.20A48.98 11.79 0 0 1 36.83 39.66A27.66 6.62 0 0 1 8.91 36.07A27.66 6.62 0 0 1 13.41 28.56A27.57 6.65 0 0 1 0.40 21.42A27.57 6.65 0 0 1 24.51 16.22Z" fill="#F1975B" fill-opacity="0.5"/><path d="M29.78 29.27A27.57 6.65 0 0 1 13.70 28.38M43.96 39.02A27.66 6.62 0 0 1 36.93 39.45M104.55 43.70A42.84 10.30 0 0 1 100.31 41.76M182.90 38.85A42.84 10.30 0 0 1 181.21 40.99M216.55 25.66A36.71 8.80 0 0 1 237.18 33.64M265.20 17.17A33.84 8.13 0 0 1 256.02 20.16M243.16 6.07A30.82 7.37 0 0 1 243.65 7.48M184.50 4.42A30.82 7.37 0 0 1 189.20 2.62M140.48 5.28A27.70 6.65 0 0 1 142.76 3.72M88.83 5.80A33.84 8.12 0 0 1 95.34 7.00M26.19 17.65A42.85 10.27 0 0 1 24.75 16.07" fill="none"/></g>
<line x1="972.7" y1="1440.4" x2="972.7" y2="1487.1" stroke="#3a2a20" stroke-width="0.9" stroke-opacity="0.75"/>
<line x1="1019.1" y1="1440.4" x2="1019.1" y2="1487.1" stroke="#3a2a20" stroke-width="0.9" stroke-opacity="0.75"/>
<line x1="1065.5" y1="1440.4" x2="1065.5" y2="1487.1" stroke="#3a2a20" stroke-width="0.9" stroke-opacity="0.75"/>
<line x1="1111.8" y1="1440.4" x2="1111.8" y2="1487.1" stroke="#3a2a20" stroke-width="0.9" stroke-opacity="0.75"/>
<line x1="1158.2" y1="1440.4" x2="1158.2" y2="1487.1" stroke="#3a2a20" stroke-width="0.9" stroke-opacity="0.75"/>
<rect x="1475.8" y="1442.7" width="46.27" height="46.0" fill="#fff" stroke="#333" stroke-width="1"/>
<rect x="1522.1" y="1442.7" width="46.27" height="46.0" fill="#fff" stroke="#333" stroke-width="1"/>
<rect x="1568.3" y="1442.7" width="46.27" height="46.0" fill="#fff" stroke="#333" stroke-width="1"/>
<rect x="1614.6" y="1442.7" width="46.27" height="46.0" fill="#fff" stroke="#333" stroke-width="1"/>
<rect x="1660.9" y="1442.7" width="46.27" height="46.0" fill="#fff" stroke="#333" stroke-width="1"/>
<rect x="1707.1" y="1442.7" width="46.27" height="46.0" fill="#fff" stroke="#333" stroke-width="1"/>
<g transform="translate(1476.60,1443.00)" stroke="#2a1a10" stroke-width="1" stroke-linejoin="round" stroke-linecap="round"><path d="M24.68 15.83A42.74 10.13 0 0 1 43.32 6.04A42.74 10.13 0 0 1 88.63 5.73A33.75 8.01 0 0 1 113.31 1.57A33.75 8.01 0 0 1 142.12 3.78A27.62 6.55 0 0 1 164.23 0.18A27.62 6.55 0 0 1 188.80 2.73A30.74 7.27 0 0 1 220.23 0.41A30.74 7.27 0 0 1 242.50 6.14A33.75 8.01 0 0 1 264.03 10.39A33.75 8.01 0 0 1 264.66 17.03A42.88 10.16 0 0 1 270.36 27.06A42.88 10.16 0 0 1 236.72 33.28A36.61 8.67 0 0 1 217.74 40.81A36.61 8.67 0 0 1 180.72 40.56A42.73 10.15 0 0 1 146.11 47.66A42.73 10.15 0 0 1 104.30 43.26A48.86 11.62 0 0 1 66.82 44.55A48.86 11.62 0 0 1 36.74 39.08A27.59 6.52 0 0 1 8.89 35.55A27.59 6.52 0 0 1 13.38 28.15A27.50 6.55 0 0 1 0.40 21.11A27.50 6.55 0 0 1 24.45 15.98Z" fill="#ED7D31" fill-opacity="0.3"/><path d="M29.70 28.84A27.50 6.55 0 0 1 13.67 27.96M43.85 38.45A27.59 6.52 0 0 1 36.83 38.87M104.28 43.07A42.73 10.15 0 0 1 100.06 41.15M182.44 38.29A42.73 10.15 0 0 1 180.75 40.39M215.99 25.29A36.61 8.67 0 0 1 236.57 33.15M264.53 16.92A33.75 8.01 0 0 1 255.36 19.87M242.54 5.98A30.74 7.27 0 0 1 243.02 7.37M184.03 4.35A30.74 7.27 0 0 1 188.72 2.58M140.12 5.20A27.62 6.55 0 0 1 142.40 3.67M88.60 5.72A33.75 8.01 0 0 1 95.10 6.90M26.12 17.40A42.74 10.13 0 0 1 24.68 15.83" fill="none"/></g>
<line x1="1522.1" y1="1442.7" x2="1522.1" y2="1488.7" stroke="#3a2a20" stroke-width="0.9" stroke-opacity="0.75"/>
<line x1="1568.3" y1="1442.7" x2="1568.3" y2="1488.7" stroke="#3a2a20" stroke-width="0.9" stroke-opacity="0.75"/>
<line x1="1614.6" y1="1442.7" x2="1614.6" y2="1488.7" stroke="#3a2a20" stroke-width="0.9" stroke-opacity="0.75"/>
<line x1="1660.9" y1="1442.7" x2="1660.9" y2="1488.7" stroke="#3a2a20" stroke-width="0.9" stroke-opacity="0.75"/>
<line x1="1707.1" y1="1442.7" x2="1707.1" y2="1488.7" stroke="#3a2a20" stroke-width="0.9" stroke-opacity="0.75"/>
<rect x="350.5" y="1728.9" width="46.38" height="46.6" fill="#999" stroke="#222" stroke-width="1"/>
<rect x="396.9" y="1728.9" width="46.38" height="46.6" fill="#c8c8c8" stroke="#222" stroke-width="1"/>
<rect x="443.3" y="1728.9" width="46.38" height="46.6" fill="#c0c0c0" stroke="#222" stroke-width="1"/>
<rect x="489.6" y="1728.9" width="46.38" height="46.6" fill="#a0a0a0" stroke="#222" stroke-width="1"/>
<rect x="536.0" y="1728.9" width="46.38" height="46.6" fill="#8c8c8c" stroke="#222" stroke-width="1"/>
<rect x="582.4" y="1728.9" width="46.38" height="46.6" fill="#808080" stroke="#222" stroke-width="1"/>
<g transform="translate(351.30,1729.20)" stroke="#2a1a10" stroke-width="1" stroke-linejoin="round" stroke-linecap="round"><path d="M24.75 16.03A42.85 10.25 0 0 1 43.43 6.12A42.85 10.25 0 0 1 88.86 5.80A33.84 8.11 0 0 1 113.60 1.59A33.84 8.11 0 0 1 142.48 3.83A27.70 6.63 0 0 1 164.65 0.19A27.70 6.63 0 0 1 189.29 2.77A30.82 7.36 0 0 1 220.79 0.42A30.82 7.36 0 0 1 243.12 6.22A33.84 8.11 0 0 1 264.70 10.52A33.84 8.11 0 0 1 265.33 17.25A42.99 10.29 0 0 1 271.05 27.40A42.99 10.29 0 0 1 237.33 33.70A36.71 8.78 0 0 1 218.30 41.32A36.71 8.78 0 0 1 181.19 41.07A42.84 10.28 0 0 1 146.48 48.26A42.84 10.28 0 0 1 104.57 43.81A48.98 11.76 0 0 1 66.99 45.11A48.98 11.76 0 0 1 36.83 39.58A27.66 6.60 0 0 1 8.91 35.99A27.66 6.60 0 0 1 13.41 28.51A27.57 6.63 0 0 1 0.40 21.38A27.57 6.63 0 0 1 24.51 16.18Z" fill="#F1975B" fill-opacity="0.5"/><path d="M29.78 29.21A27.57 6.63 0 0 1 13.70 28.32M43.96 38.94A27.66 6.60 0 0 1 36.93 39.36M104.55 43.61A42.84 10.28 0 0 1 100.31 41.67M182.90 38.77A42.84 10.28 0 0 1 181.21 40.90M216.55 25.61A36.71 8.78 0 0 1 237.18 33.57M265.20 17.13A33.84 8.11 0 0 1 256.02 20.12M243.16 6.05A30.82 7.36 0 0 1 243.65 7.46M184.50 4.41A30.82 7.36 0 0 1 189.20 2.61M140.48 5.27A27.70 6.63 0 0 1 142.76 3.72M88.83 5.79A33.84 8.11 0 0 1 95.34 6.98M26.19 17.62A42.85 10.25 0 0 1 24.75 16.03" fill="none"/></g>
<line x1="396.9" y1="1728.9" x2="396.9" y2="1775.5" stroke="#3a2a20" stroke-width="0.9" stroke-opacity="0.75"/>
<line x1="443.3" y1="1728.9" x2="443.3" y2="1775.5" stroke="#3a2a20" stroke-width="0.9" stroke-opacity="0.75"/>
<line x1="489.6" y1="1728.9" x2="489.6" y2="1775.5" stroke="#3a2a20" stroke-width="0.9" stroke-opacity="0.75"/>
<line x1="536.0" y1="1728.9" x2="536.0" y2="1775.5" stroke="#3a2a20" stroke-width="0.9" stroke-opacity="0.75"/>
<line x1="582.4" y1="1728.9" x2="582.4" y2="1775.5" stroke="#3a2a20" stroke-width="0.9" stroke-opacity="0.75"/>
<rect x="919.7" y="1729.0" width="46.38" height="46.7" fill="#bfbfbf" stroke="#222" stroke-width="1"/>
<rect x="966.1" y="1729.0" width="46.38" height="46.7" fill="#a0a0a0" stroke="#222" stroke-width="1"/>
<rect x="1012.5" y="1729.0" width="46.38" height="46.7" fill="#8c8c8c" stroke="#222" stroke-width="1"/>
<rect x="1058.9" y="1729.0" width="46.38" height="46.7" fill="#8c8c8c" stroke="#222" stroke-width="1"/>
<rect x="1105.2" y="1729.0" width="46.38" height="46.7" fill="#a0a0a0" stroke="#222" stroke-width="1"/>
<rect x="1151.6" y="1729.0" width="46.38" height="46.7" fill="#bfbfbf" stroke="#222" stroke-width="1"/>
<g transform="translate(920.50,1729.30)" stroke="#2a1a10" stroke-width="1" stroke-linejoin="round" stroke-linecap="round"><path d="M24.75 16.07A42.85 10.27 0 0 1 43.43 6.13A42.85 10.27 0 0 1 88.86 5.82A33.84 8.12 0 0 1 113.60 1.60A33.84 8.12 0 0 1 142.48 3.84A27.70 6.65 0 0 1 164.65 0.19A27.70 6.65 0 0 1 189.29 2.77A30.82 7.37 0 0 1 220.79 0.42A30.82 7.37 0 0 1 243.12 6.23A33.84 8.13 0 0 1 264.70 10.54A33.84 8.13 0 0 1 265.33 17.28A42.99 10.31 0 0 1 271.05 27.45A42.99 10.31 0 0 1 237.33 33.77A36.71 8.80 0 0 1 218.30 41.41A36.71 8.80 0 0 1 181.19 41.16A42.84 10.30 0 0 1 146.48 48.36A42.84 10.30 0 0 1 104.57 43.90A48.98 11.79 0 0 1 66.99 45.20A48.98 11.79 0 0 1 36.83 39.66A27.66 6.62 0 0 1 8.91 36.07A27.66 6.62 0 0 1 13.41 28.56A27.57 6.65 0 0 1 0.40 21.42A27.57 6.65 0 0 1 24.51 16.22Z" fill="#F1975B" fill-opacity="0.5"/><path d="M29.78 29.27A27.57 6.65 0 0 1 13.70 28.38M43.96 39.02A27.66 6.62 0 0 1 36.93 39.45M104.55 43.70A42.84 10.30 0 0 1 100.31 41.76M182.90 38.85A42.84 10.30 0 0 1 181.21 40.99M216.55 25.66A36.71 8.80 0 0 1 237.18 33.64M265.20 17.17A33.84 8.13 0 0 1 256.02 20.16M243.16 6.07A30.82 7.37 0 0 1 243.65 7.48M184.50 4.42A30.82 7.37 0 0 1 189.20 2.62M140.48 5.28A27.70 6.65 0 0 1 142.76 3.72M88.83 5.80A33.84 8.12 0 0 1 95.34 7.00M26.19 17.65A42.85 10.27 0 0 1 24.75 16.07" fill="none"/></g>
<line x1="966.1" y1="1729.0" x2="966.1" y2="1775.7" stroke="#3a2a20" stroke-width="0.9" stroke-opacity="0.75"/>
<line x1="1012.5" y1="1729.0" x2="1012.5" y2="1775.7" stroke="#3a2a20" stroke-width="0.9" stroke-opacity="0.75"/>
<line x1="1058.9" y1="1729.0" x2="1058.9" y2="1775.7" stroke="#3a2a20" stroke-width="0.9" stroke-opacity="0.75"/>
<line x1="1105.2" y1="1729.0" x2="1105.2" y2="1775.7" stroke="#3a2a20" stroke-width="0.9" stroke-opacity="0.75"/>
<line x1="1151.6" y1="1729.0" x2="1151.6" y2="1775.7" stroke="#3a2a20" stroke-width="0.9" stroke-opacity="0.75"/>
<rect x="1476.7" y="1729.2" width="46.38" height="46.3" fill="#808080" stroke="#222" stroke-width="1"/>
<rect x="1523.1" y="1729.2" width="46.38" height="46.3" fill="#8c8c8c" stroke="#222" stroke-width="1"/>
<rect x="1569.5" y="1729.2" width="46.38" height="46.3" fill="#a0a0a0" stroke="#222" stroke-width="1"/>
<rect x="1615.9" y="1729.2" width="46.38" height="46.3" fill="#c0c0c0" stroke="#222" stroke-width="1"/>
<rect x="1662.2" y="1729.2" width="46.38" height="46.3" fill="#c0c0c0" stroke="#222" stroke-width="1"/>
<rect x="1708.6" y="1729.2" width="46.38" height="46.3" fill="#999" stroke="#222" stroke-width="1"/>
<g transform="translate(1477.50,1729.50)" stroke="#2a1a10" stroke-width="1" stroke-linejoin="round" stroke-linecap="round"><path d="M24.75 15.93A42.85 10.19 0 0 1 43.43 6.08A42.85 10.19 0 0 1 88.86 5.77A33.84 8.06 0 0 1 113.60 1.58A33.84 8.06 0 0 1 142.48 3.81A27.70 6.59 0 0 1 164.65 0.19A27.70 6.59 0 0 1 189.29 2.75A30.82 7.31 0 0 1 220.79 0.42A30.82 7.31 0 0 1 243.12 6.18A33.84 8.06 0 0 1 264.70 10.46A33.84 8.06 0 0 1 265.33 17.14A42.99 10.22 0 0 1 271.05 27.23A42.99 10.22 0 0 1 237.33 33.49A36.71 8.72 0 0 1 218.30 41.06A36.71 8.72 0 0 1 181.19 40.82A42.84 10.22 0 0 1 146.48 47.96A42.84 10.22 0 0 1 104.57 43.54A48.98 11.69 0 0 1 66.99 44.83A48.98 11.69 0 0 1 36.83 39.33A27.66 6.56 0 0 1 8.91 35.77A27.66 6.56 0 0 1 13.41 28.33A27.57 6.59 0 0 1 0.40 21.24A27.57 6.59 0 0 1 24.51 16.08Z" fill="#F1975B" fill-opacity="0.5"/><path d="M29.78 29.02A27.57 6.59 0 0 1 13.70 28.14M43.96 38.70A27.66 6.56 0 0 1 36.93 39.12M104.55 43.34A42.84 10.22 0 0 1 100.31 41.41M182.90 38.53A42.84 10.22 0 0 1 181.21 40.65M216.55 25.45A36.71 8.72 0 0 1 237.18 33.36M265.20 17.02A33.84 8.06 0 0 1 256.02 19.99M243.16 6.02A30.82 7.31 0 0 1 243.65 7.42M184.50 4.38A30.82 7.31 0 0 1 189.20 2.60M140.48 5.23A27.70 6.59 0 0 1 142.76 3.69M88.83 5.76A33.84 8.06 0 0 1 95.34 6.94M26.19 17.51A42.85 10.19 0 0 1 24.75 15.93" fill="none"/></g>
<line x1="1523.1" y1="1729.2" x2="1523.1" y2="1775.5" stroke="#3a2a20" stroke-width="0.9" stroke-opacity="0.75"/>
<line x1="1569.5" y1="1729.2" x2="1569.5" y2="1775.5" stroke="#3a2a20" stroke-width="0.9" stroke-opacity="0.75"/>
<line x1="1615.9" y1="1729.2" x2="1615.9" y2="1775.5" stroke="#3a2a20" stroke-width="0.9" stroke-opacity="0.75"/>
<line x1="1662.2" y1="1729.2" x2="1662.2" y2="1775.5" stroke="#3a2a20" stroke-width="0.9" stroke-opacity="0.75"/>
<line x1="1708.6" y1="1729.2" x2="1708.6" y2="1775.5" stroke="#3a2a20" stroke-width="0.9" stroke-opacity="0.75"/>
<text x="462.8" y="1516.9" font-size="29.3" text-anchor="middle">•</text>
<text x="475.6" y="1516.9" font-size="29.3">LC</text>
<text x="462.8" y="1557.9" font-size="29.3" text-anchor="middle">•</text>
<text x="474.6" y="1557.9" font-size="29.3">HiLo_I<tspan font-size="19.9" dy="8.3">1</tspan></text>
<text x="1012.8" y="1522.8" font-size="29.3" text-anchor="middle">•</text>
<text x="1027.8" y="1522.8" font-size="29.3">HiLo_I<tspan font-size="19.9" dy="9">2</tspan></text>
<text x="1573.7" y="1526.8" font-size="32.3" text-anchor="middle">•</text>
<text x="1588.9" y="1526.8" font-size="32.3">LiMo</text>
<text x="429.8" y="1808.7" font-size="29.4" text-anchor="middle">•</text>
<text x="443.7" y="1808.7" font-size="29.4">DSIM_I<tspan font-size="20.0" dy="8.3">1</tspan></text>
<text x="993.7" y="1815.5" font-size="32.5" text-anchor="middle">•</text>
<text x="1008.0" y="1815.5" font-size="32.5">DSIM_I<tspan font-size="22.1" dy="8.3">2</tspan></text>
<text x="1550.4" y="1815.6" font-size="32.3" text-anchor="middle">•</text>
<text x="1563.5" y="1815.6" font-size="32.3">DSIM_I<tspan font-size="22.0" dy="8.3">3</tspan></text>
</svg>
</body></html>
